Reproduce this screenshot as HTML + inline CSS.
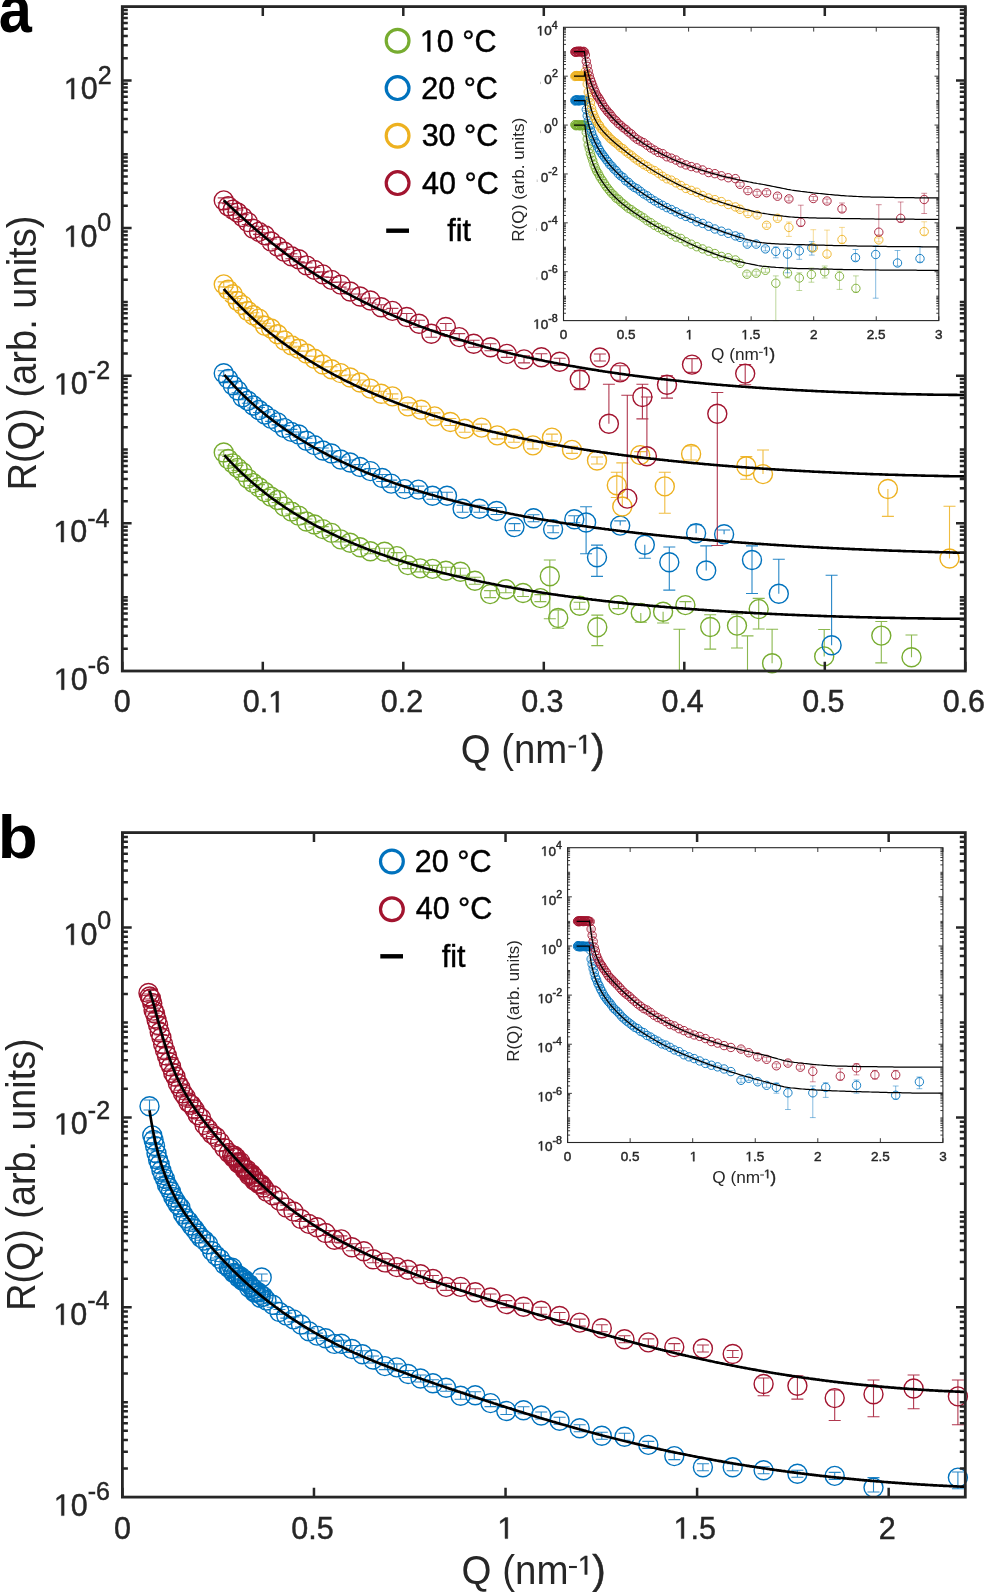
<!DOCTYPE html><html><head><meta charset="utf-8"><style>html,body{margin:0;padding:0;background:#fff;width:985px;height:1592px;overflow:hidden}svg{display:block;will-change:transform}text{font-family:"Liberation Sans",sans-serif;font-kerning:none}</style></head><body>
<svg width="985" height="1592" viewBox="0 0 985 1592">
<rect width="985" height="1592" fill="#fff"/>
<path d="M223.74 449.99V454.99M217.74 449.99h12M217.74 454.99h12M228.15 456.51V461.51M222.15 456.51h12M222.15 461.51h12M232.76 460.83V465.83M226.76 460.83h12M226.76 465.83h12M237.56 465.34V470.34M231.56 465.34h12M231.56 470.34h12M242.58 469.62V474.62M236.58 469.62h12M236.58 474.62h12M247.81 476.08V481.08M241.81 476.08h12M241.81 481.08h12M253.27 480.65V485.65M247.27 480.65h12M247.27 485.65h12M258.97 484.66V489.66M252.97 484.66h12M252.97 489.66h12M264.91 489.48V494.48M258.91 489.48h12M258.91 494.48h12M271.11 494.26V499.26M265.11 494.26h12M265.11 499.26h12M277.59 497.56V502.56M271.59 497.56h12M271.59 502.56h12M284.34 504.1V509.1M278.34 504.1h12M278.34 509.1h12M291.39 508.99V513.99M285.39 508.99h12M285.39 513.99h12M298.75 513.17V518.17M292.75 513.17h12M292.75 518.17h12M306.42 519.05V524.05M300.42 519.05h12M300.42 524.05h12M314.43 521.96V526.96M308.43 521.96h12M308.43 526.96h12M322.79 526.59V531.59M316.79 526.59h12M316.79 531.59h12M331.51 530.36V535.36M325.51 530.36h12M325.51 535.36h12M340.61 536.87V541.87M334.61 536.87h12M334.61 541.87h12M350.11 540.22V545.22M344.11 540.22h12M344.11 545.22h12M360.02 544.81V549.81M354.02 544.81h12M354.02 549.81h12M370.36 548.82V553.82M364.36 548.82h12M364.36 553.82h12M384.5 548.2V555.2M378.5 548.2h12M378.5 555.2h12M396.8 552.6V559.6M390.8 552.6h12M390.8 559.6h12M407.9 561.6V568.6M401.9 561.6h12M401.9 568.6h12M420.2 564.9V571.9M414.2 564.9h12M414.2 571.9h12M432.5 565.4V572.4M426.5 565.4h12M426.5 572.4h12M445.9 567.2V574.2M439.9 567.2h12M439.9 574.2h12M460.4 568.3V575.3M454.4 568.3h12M454.4 575.3h12M474.9 577.2V584.2M468.9 577.2h12M468.9 584.2h12M490.1 590.6V597.6M484.1 590.6h12M484.1 597.6h12M505.8 585.7V592.7M499.8 585.7h12M499.8 592.7h12M523 589.5V596.5M517 589.5h12M517 596.5h12M540.4 594.6V601.6M534.4 594.6h12M534.4 601.6h12M549.8 560V618.7M543.8 560h12M543.8 618.7h12M558.2 610V628.3M552.2 610h12M552.2 628.3h12M579.6 602.2V609.2M573.6 602.2h12M573.6 609.2h12M597.3 615.1V645.6M591.3 615.1h12M591.3 645.6h12M618.4 601.6V608.6M612.4 601.6h12M612.4 608.6h12M640.8 612.9V622.3M634.8 622.3h12M663.1 611.8V623M657.1 623h12M685.4 601.6V608.6M679.4 601.6h12M679.4 608.6h12M679.4 629.2V670M673.4 629.2h12M710.2 614.7V649.1M704.2 614.7h12M704.2 649.1h12M737 614V648M731 614h12M731 648h12M747.5 635.9V670M741.5 635.9h12M758.7 598.4V629M752.7 598.4h12M752.7 629h12M772.1 629.3V663.3M766.1 629.3h12M824.2 629.5V656.4M818.2 629.5h12M881.3 621.5V662.9M875.3 621.5h12M875.3 662.9h12M911.5 635V657.3M905.5 635h12" stroke="#77AC30" stroke-width="1.1" stroke-opacity="0.85" fill="none"/><path d="M214.24 452.49a9.5 9.5 0 1 0 19 0a9.5 9.5 0 1 0 -19 0M218.65 459.01a9.5 9.5 0 1 0 19 0a9.5 9.5 0 1 0 -19 0M223.26 463.33a9.5 9.5 0 1 0 19 0a9.5 9.5 0 1 0 -19 0M228.06 467.84a9.5 9.5 0 1 0 19 0a9.5 9.5 0 1 0 -19 0M233.08 472.12a9.5 9.5 0 1 0 19 0a9.5 9.5 0 1 0 -19 0M238.31 478.58a9.5 9.5 0 1 0 19 0a9.5 9.5 0 1 0 -19 0M243.77 483.15a9.5 9.5 0 1 0 19 0a9.5 9.5 0 1 0 -19 0M249.47 487.16a9.5 9.5 0 1 0 19 0a9.5 9.5 0 1 0 -19 0M255.41 491.98a9.5 9.5 0 1 0 19 0a9.5 9.5 0 1 0 -19 0M261.61 496.76a9.5 9.5 0 1 0 19 0a9.5 9.5 0 1 0 -19 0M268.09 500.06a9.5 9.5 0 1 0 19 0a9.5 9.5 0 1 0 -19 0M274.84 506.6a9.5 9.5 0 1 0 19 0a9.5 9.5 0 1 0 -19 0M281.89 511.49a9.5 9.5 0 1 0 19 0a9.5 9.5 0 1 0 -19 0M289.25 515.67a9.5 9.5 0 1 0 19 0a9.5 9.5 0 1 0 -19 0M296.92 521.55a9.5 9.5 0 1 0 19 0a9.5 9.5 0 1 0 -19 0M304.93 524.46a9.5 9.5 0 1 0 19 0a9.5 9.5 0 1 0 -19 0M313.29 529.09a9.5 9.5 0 1 0 19 0a9.5 9.5 0 1 0 -19 0M322.01 532.86a9.5 9.5 0 1 0 19 0a9.5 9.5 0 1 0 -19 0M331.11 539.37a9.5 9.5 0 1 0 19 0a9.5 9.5 0 1 0 -19 0M340.61 542.72a9.5 9.5 0 1 0 19 0a9.5 9.5 0 1 0 -19 0M350.52 547.31a9.5 9.5 0 1 0 19 0a9.5 9.5 0 1 0 -19 0M360.86 551.32a9.5 9.5 0 1 0 19 0a9.5 9.5 0 1 0 -19 0M375 551.7a9.5 9.5 0 1 0 19 0a9.5 9.5 0 1 0 -19 0M387.3 556.1a9.5 9.5 0 1 0 19 0a9.5 9.5 0 1 0 -19 0M398.4 565.1a9.5 9.5 0 1 0 19 0a9.5 9.5 0 1 0 -19 0M410.7 568.4a9.5 9.5 0 1 0 19 0a9.5 9.5 0 1 0 -19 0M423 568.9a9.5 9.5 0 1 0 19 0a9.5 9.5 0 1 0 -19 0M436.4 570.7a9.5 9.5 0 1 0 19 0a9.5 9.5 0 1 0 -19 0M450.9 571.8a9.5 9.5 0 1 0 19 0a9.5 9.5 0 1 0 -19 0M465.4 580.7a9.5 9.5 0 1 0 19 0a9.5 9.5 0 1 0 -19 0M480.6 594.1a9.5 9.5 0 1 0 19 0a9.5 9.5 0 1 0 -19 0M496.3 589.2a9.5 9.5 0 1 0 19 0a9.5 9.5 0 1 0 -19 0M513.5 593a9.5 9.5 0 1 0 19 0a9.5 9.5 0 1 0 -19 0M530.9 598.1a9.5 9.5 0 1 0 19 0a9.5 9.5 0 1 0 -19 0M540.3 576.3a9.5 9.5 0 1 0 19 0a9.5 9.5 0 1 0 -19 0M548.7 618a9.5 9.5 0 1 0 19 0a9.5 9.5 0 1 0 -19 0M570.1 605.7a9.5 9.5 0 1 0 19 0a9.5 9.5 0 1 0 -19 0M587.8 627.3a9.5 9.5 0 1 0 19 0a9.5 9.5 0 1 0 -19 0M608.9 605.1a9.5 9.5 0 1 0 19 0a9.5 9.5 0 1 0 -19 0M631.3 612.9a9.5 9.5 0 1 0 19 0a9.5 9.5 0 1 0 -19 0M653.6 611.8a9.5 9.5 0 1 0 19 0a9.5 9.5 0 1 0 -19 0M675.9 605.1a9.5 9.5 0 1 0 19 0a9.5 9.5 0 1 0 -19 0M700.7 627a9.5 9.5 0 1 0 19 0a9.5 9.5 0 1 0 -19 0M727.5 625.6a9.5 9.5 0 1 0 19 0a9.5 9.5 0 1 0 -19 0M749.2 609.1a9.5 9.5 0 1 0 19 0a9.5 9.5 0 1 0 -19 0M762.6 663.3a9.5 9.5 0 1 0 19 0a9.5 9.5 0 1 0 -19 0M814.7 656.4a9.5 9.5 0 1 0 19 0a9.5 9.5 0 1 0 -19 0M871.8 635.6a9.5 9.5 0 1 0 19 0a9.5 9.5 0 1 0 -19 0M902 657.3a9.5 9.5 0 1 0 19 0a9.5 9.5 0 1 0 -19 0" stroke="#77AC30" stroke-width="1.4" fill="none"/>
<path d="M223.74 370.73V375.73M217.74 370.73h12M217.74 375.73h12M228.15 376.41V381.41M222.15 376.41h12M222.15 381.41h12M232.76 382.69V387.69M226.76 382.69h12M226.76 387.69h12M237.56 387.85V392.85M231.56 387.85h12M231.56 392.85h12M242.58 394.7V399.7M236.58 394.7h12M236.58 399.7h12M247.81 398.3V403.3M241.81 398.3h12M241.81 403.3h12M253.27 403.02V408.02M247.27 403.02h12M247.27 408.02h12M258.97 407.52V412.52M252.97 407.52h12M252.97 412.52h12M264.91 412.01V417.01M258.91 412.01h12M258.91 417.01h12M271.11 416.34V421.34M265.11 416.34h12M265.11 421.34h12M277.59 419.91V424.91M271.59 419.91h12M271.59 424.91h12M284.34 425.58V430.58M278.34 425.58h12M278.34 430.58h12M291.39 429.39V434.39M285.39 429.39h12M285.39 434.39h12M298.75 431.94V436.94M292.75 431.94h12M292.75 436.94h12M306.42 438.25V443.25M300.42 438.25h12M300.42 443.25h12M314.43 442.63V447.63M308.43 442.63h12M308.43 447.63h12M322.79 448.07V453.07M316.79 448.07h12M316.79 453.07h12M331.51 451.07V456.07M325.51 451.07h12M325.51 456.07h12M340.61 456.93V461.93M334.61 456.93h12M334.61 461.93h12M350.11 460.04V465.04M344.11 460.04h12M344.11 465.04h12M360.02 464.43V469.43M354.02 464.43h12M354.02 469.43h12M370.36 468.59V473.59M364.36 468.59h12M364.36 473.59h12M382.2 474.5V481.5M376.2 474.5h12M376.2 481.5h12M391.2 480.1V487.1M385.2 480.1h12M385.2 487.1h12M404.6 485.6V492.6M398.6 485.6h12M398.6 492.6h12M418.4 486.1V493.1M412.4 486.1h12M412.4 493.1h12M432.5 492.3V499.3M426.5 492.3h12M426.5 499.3h12M447 492.3V499.3M441 492.3h12M441 499.3h12M462.6 505.3V512.3M456.6 505.3h12M456.6 512.3h12M479.4 505.3V512.3M473.4 505.3h12M473.4 512.3h12M496.6 507.5V514.5M490.6 507.5h12M490.6 514.5h12M514.5 523.6V530.6M508.5 523.6h12M508.5 530.6h12M533.5 514.7V521.7M527.5 514.7h12M527.5 521.7h12M553.1 525.8V532.8M547.1 525.8h12M547.1 532.8h12M574.3 515.8V522.8M568.3 515.8h12M568.3 522.8h12M586.1 506.7V553.8M580.1 506.7h12M580.1 553.8h12M597 545.1V576.4M591 545.1h12M591 576.4h12M620.2 520.9V525.6M614.2 520.9h12M644.8 544.8V558.2M638.8 558.2h12M669.3 547V590.1M663.3 547h12M663.3 590.1h12M696.1 524.7V533.2M690.1 524.7h12M706.2 545.9V570.5M700.2 545.9h12M724.1 530V534.3M718.1 530h12M752 545.9V593.5M746 545.9h12M746 593.5h12M778.8 559.3V593.7M772.8 559.3h12M831.6 575.2V645.2M825.6 575.2h12" stroke="#0072BD" stroke-width="1.1" stroke-opacity="0.85" fill="none"/><path d="M214.24 373.23a9.5 9.5 0 1 0 19 0a9.5 9.5 0 1 0 -19 0M218.65 378.91a9.5 9.5 0 1 0 19 0a9.5 9.5 0 1 0 -19 0M223.26 385.19a9.5 9.5 0 1 0 19 0a9.5 9.5 0 1 0 -19 0M228.06 390.35a9.5 9.5 0 1 0 19 0a9.5 9.5 0 1 0 -19 0M233.08 397.2a9.5 9.5 0 1 0 19 0a9.5 9.5 0 1 0 -19 0M238.31 400.8a9.5 9.5 0 1 0 19 0a9.5 9.5 0 1 0 -19 0M243.77 405.52a9.5 9.5 0 1 0 19 0a9.5 9.5 0 1 0 -19 0M249.47 410.02a9.5 9.5 0 1 0 19 0a9.5 9.5 0 1 0 -19 0M255.41 414.51a9.5 9.5 0 1 0 19 0a9.5 9.5 0 1 0 -19 0M261.61 418.84a9.5 9.5 0 1 0 19 0a9.5 9.5 0 1 0 -19 0M268.09 422.41a9.5 9.5 0 1 0 19 0a9.5 9.5 0 1 0 -19 0M274.84 428.08a9.5 9.5 0 1 0 19 0a9.5 9.5 0 1 0 -19 0M281.89 431.89a9.5 9.5 0 1 0 19 0a9.5 9.5 0 1 0 -19 0M289.25 434.44a9.5 9.5 0 1 0 19 0a9.5 9.5 0 1 0 -19 0M296.92 440.75a9.5 9.5 0 1 0 19 0a9.5 9.5 0 1 0 -19 0M304.93 445.13a9.5 9.5 0 1 0 19 0a9.5 9.5 0 1 0 -19 0M313.29 450.57a9.5 9.5 0 1 0 19 0a9.5 9.5 0 1 0 -19 0M322.01 453.57a9.5 9.5 0 1 0 19 0a9.5 9.5 0 1 0 -19 0M331.11 459.43a9.5 9.5 0 1 0 19 0a9.5 9.5 0 1 0 -19 0M340.61 462.54a9.5 9.5 0 1 0 19 0a9.5 9.5 0 1 0 -19 0M350.52 466.93a9.5 9.5 0 1 0 19 0a9.5 9.5 0 1 0 -19 0M360.86 471.09a9.5 9.5 0 1 0 19 0a9.5 9.5 0 1 0 -19 0M372.7 478a9.5 9.5 0 1 0 19 0a9.5 9.5 0 1 0 -19 0M381.7 483.6a9.5 9.5 0 1 0 19 0a9.5 9.5 0 1 0 -19 0M395.1 489.1a9.5 9.5 0 1 0 19 0a9.5 9.5 0 1 0 -19 0M408.9 489.6a9.5 9.5 0 1 0 19 0a9.5 9.5 0 1 0 -19 0M423 495.8a9.5 9.5 0 1 0 19 0a9.5 9.5 0 1 0 -19 0M437.5 495.8a9.5 9.5 0 1 0 19 0a9.5 9.5 0 1 0 -19 0M453.1 508.8a9.5 9.5 0 1 0 19 0a9.5 9.5 0 1 0 -19 0M469.9 508.8a9.5 9.5 0 1 0 19 0a9.5 9.5 0 1 0 -19 0M487.1 511a9.5 9.5 0 1 0 19 0a9.5 9.5 0 1 0 -19 0M505 527.1a9.5 9.5 0 1 0 19 0a9.5 9.5 0 1 0 -19 0M524 518.2a9.5 9.5 0 1 0 19 0a9.5 9.5 0 1 0 -19 0M543.6 529.3a9.5 9.5 0 1 0 19 0a9.5 9.5 0 1 0 -19 0M564.8 519.3a9.5 9.5 0 1 0 19 0a9.5 9.5 0 1 0 -19 0M576.6 522.5a9.5 9.5 0 1 0 19 0a9.5 9.5 0 1 0 -19 0M587.5 557.2a9.5 9.5 0 1 0 19 0a9.5 9.5 0 1 0 -19 0M610.7 525.6a9.5 9.5 0 1 0 19 0a9.5 9.5 0 1 0 -19 0M635.3 544.8a9.5 9.5 0 1 0 19 0a9.5 9.5 0 1 0 -19 0M659.8 562.2a9.5 9.5 0 1 0 19 0a9.5 9.5 0 1 0 -19 0M686.6 533.2a9.5 9.5 0 1 0 19 0a9.5 9.5 0 1 0 -19 0M696.7 570.5a9.5 9.5 0 1 0 19 0a9.5 9.5 0 1 0 -19 0M714.6 534.3a9.5 9.5 0 1 0 19 0a9.5 9.5 0 1 0 -19 0M742.5 560a9.5 9.5 0 1 0 19 0a9.5 9.5 0 1 0 -19 0M769.3 593.7a9.5 9.5 0 1 0 19 0a9.5 9.5 0 1 0 -19 0M822.1 645.2a9.5 9.5 0 1 0 19 0a9.5 9.5 0 1 0 -19 0" stroke="#0072BD" stroke-width="1.4" fill="none"/>
<path d="M223.74 281.85V286.85M217.74 281.85h12M217.74 286.85h12M228.15 287.18V292.18M222.15 287.18h12M222.15 292.18h12M232.76 291.72V296.72M226.76 291.72h12M226.76 296.72h12M237.56 298.48V303.48M231.56 298.48h12M231.56 303.48h12M242.58 302.59V307.59M236.58 302.59h12M236.58 307.59h12M247.81 308.45V313.45M241.81 308.45h12M241.81 313.45h12M253.27 312.8V317.8M247.27 312.8h12M247.27 317.8h12M258.97 316.11V321.11M252.97 316.11h12M252.97 321.11h12M264.91 323.31V328.31M258.91 323.31h12M258.91 328.31h12M271.11 325.97V330.97M265.11 325.97h12M265.11 330.97h12M277.59 331.68V336.68M271.59 331.68h12M271.59 336.68h12M284.34 338.05V343.05M278.34 338.05h12M278.34 343.05h12M291.39 342.72V347.72M285.39 342.72h12M285.39 347.72h12M298.75 346.19V351.19M292.75 346.19h12M292.75 351.19h12M306.42 350.93V355.93M300.42 350.93h12M300.42 355.93h12M314.43 356.29V361.29M308.43 356.29h12M308.43 361.29h12M322.79 362.02V367.02M316.79 362.02h12M316.79 367.02h12M331.51 366.71V371.71M325.51 366.71h12M325.51 371.71h12M340.61 370.66V375.66M334.61 370.66h12M334.61 375.66h12M350.11 375.01V380.01M344.11 375.01h12M344.11 380.01h12M360.02 380.03V385.03M354.02 380.03h12M354.02 385.03h12M370.36 386.11V391.11M364.36 386.11h12M364.36 391.11h12M381.15 391.18V396.18M375.15 391.18h12M375.15 396.18h12M392.41 393.88V398.88M386.41 393.88h12M386.41 398.88h12M407.8 402.9V409.9M401.8 402.9h12M401.8 409.9h12M421.2 406.2V413.2M415.2 406.2h12M415.2 413.2h12M434.6 412.9V419.9M428.6 412.9h12M428.6 419.9h12M450.3 418.5V425.5M444.3 418.5h12M444.3 425.5h12M464.8 425.2V432.2M458.8 425.2h12M458.8 432.2h12M481.5 424.1V431.1M475.5 424.1h12M475.5 431.1h12M497.2 431.9V438.9M491.2 431.9h12M491.2 438.9h12M513.9 435.2V442.2M507.9 435.2h12M507.9 442.2h12M532.9 441.9V448.9M526.9 441.9h12M526.9 448.9h12M551.9 434.1V441.1M545.9 434.1h12M545.9 441.1h12M572 446.4V453.4M566 446.4h12M566 453.4h12M597 457V464M591 457h12M591 464h12M616.8 472.3V497.5M610.8 472.3h12M610.8 497.5h12M622.3 462.9V506.5M616.3 462.9h12M640.2 451.6V458.6M634.2 451.6h12M634.2 458.6h12M664.8 472.3V513.2M658.8 472.3h12M658.8 513.2h12M691.1 446V460M685.1 446h12M685.1 460h12M746.3 456.6V479.2M740.3 456.6h12M740.3 479.2h12M763 450V474.1M757 450h12M887.9 489V516.4M881.9 516.4h12M949.5 506.3V558.5M943.5 506.3h12" stroke="#EDB120" stroke-width="1.1" stroke-opacity="0.85" fill="none"/><path d="M214.24 284.35a9.5 9.5 0 1 0 19 0a9.5 9.5 0 1 0 -19 0M218.65 289.68a9.5 9.5 0 1 0 19 0a9.5 9.5 0 1 0 -19 0M223.26 294.22a9.5 9.5 0 1 0 19 0a9.5 9.5 0 1 0 -19 0M228.06 300.98a9.5 9.5 0 1 0 19 0a9.5 9.5 0 1 0 -19 0M233.08 305.09a9.5 9.5 0 1 0 19 0a9.5 9.5 0 1 0 -19 0M238.31 310.95a9.5 9.5 0 1 0 19 0a9.5 9.5 0 1 0 -19 0M243.77 315.3a9.5 9.5 0 1 0 19 0a9.5 9.5 0 1 0 -19 0M249.47 318.61a9.5 9.5 0 1 0 19 0a9.5 9.5 0 1 0 -19 0M255.41 325.81a9.5 9.5 0 1 0 19 0a9.5 9.5 0 1 0 -19 0M261.61 328.47a9.5 9.5 0 1 0 19 0a9.5 9.5 0 1 0 -19 0M268.09 334.18a9.5 9.5 0 1 0 19 0a9.5 9.5 0 1 0 -19 0M274.84 340.55a9.5 9.5 0 1 0 19 0a9.5 9.5 0 1 0 -19 0M281.89 345.22a9.5 9.5 0 1 0 19 0a9.5 9.5 0 1 0 -19 0M289.25 348.69a9.5 9.5 0 1 0 19 0a9.5 9.5 0 1 0 -19 0M296.92 353.43a9.5 9.5 0 1 0 19 0a9.5 9.5 0 1 0 -19 0M304.93 358.79a9.5 9.5 0 1 0 19 0a9.5 9.5 0 1 0 -19 0M313.29 364.52a9.5 9.5 0 1 0 19 0a9.5 9.5 0 1 0 -19 0M322.01 369.21a9.5 9.5 0 1 0 19 0a9.5 9.5 0 1 0 -19 0M331.11 373.16a9.5 9.5 0 1 0 19 0a9.5 9.5 0 1 0 -19 0M340.61 377.51a9.5 9.5 0 1 0 19 0a9.5 9.5 0 1 0 -19 0M350.52 382.53a9.5 9.5 0 1 0 19 0a9.5 9.5 0 1 0 -19 0M360.86 388.61a9.5 9.5 0 1 0 19 0a9.5 9.5 0 1 0 -19 0M371.65 393.68a9.5 9.5 0 1 0 19 0a9.5 9.5 0 1 0 -19 0M382.91 396.38a9.5 9.5 0 1 0 19 0a9.5 9.5 0 1 0 -19 0M398.3 406.4a9.5 9.5 0 1 0 19 0a9.5 9.5 0 1 0 -19 0M411.7 409.7a9.5 9.5 0 1 0 19 0a9.5 9.5 0 1 0 -19 0M425.1 416.4a9.5 9.5 0 1 0 19 0a9.5 9.5 0 1 0 -19 0M440.8 422a9.5 9.5 0 1 0 19 0a9.5 9.5 0 1 0 -19 0M455.3 428.7a9.5 9.5 0 1 0 19 0a9.5 9.5 0 1 0 -19 0M472 427.6a9.5 9.5 0 1 0 19 0a9.5 9.5 0 1 0 -19 0M487.7 435.4a9.5 9.5 0 1 0 19 0a9.5 9.5 0 1 0 -19 0M504.4 438.7a9.5 9.5 0 1 0 19 0a9.5 9.5 0 1 0 -19 0M523.4 445.4a9.5 9.5 0 1 0 19 0a9.5 9.5 0 1 0 -19 0M542.4 437.6a9.5 9.5 0 1 0 19 0a9.5 9.5 0 1 0 -19 0M562.5 449.9a9.5 9.5 0 1 0 19 0a9.5 9.5 0 1 0 -19 0M587.5 460.5a9.5 9.5 0 1 0 19 0a9.5 9.5 0 1 0 -19 0M607.3 485.2a9.5 9.5 0 1 0 19 0a9.5 9.5 0 1 0 -19 0M612.8 506.5a9.5 9.5 0 1 0 19 0a9.5 9.5 0 1 0 -19 0M630.7 455.1a9.5 9.5 0 1 0 19 0a9.5 9.5 0 1 0 -19 0M655.3 486.4a9.5 9.5 0 1 0 19 0a9.5 9.5 0 1 0 -19 0M681.6 454a9.5 9.5 0 1 0 19 0a9.5 9.5 0 1 0 -19 0M736.8 466.3a9.5 9.5 0 1 0 19 0a9.5 9.5 0 1 0 -19 0M753.5 474.1a9.5 9.5 0 1 0 19 0a9.5 9.5 0 1 0 -19 0M878.4 489a9.5 9.5 0 1 0 19 0a9.5 9.5 0 1 0 -19 0M940 558.5a9.5 9.5 0 1 0 19 0a9.5 9.5 0 1 0 -19 0" stroke="#EDB120" stroke-width="1.4" fill="none"/>
<path d="M223.74 197.92V202.92M217.74 197.92h12M217.74 202.92h12M228.15 203.81V208.81M222.15 203.81h12M222.15 208.81h12M232.76 207.14V212.14M226.76 207.14h12M226.76 212.14h12M237.56 209.94V214.94M231.56 209.94h12M231.56 214.94h12M242.58 214.58V219.58M236.58 214.58h12M236.58 219.58h12M247.81 219.58V224.58M241.81 219.58h12M241.81 224.58h12M253.27 226.32V231.32M247.27 226.32h12M247.27 231.32h12M258.97 229.36V234.36M252.97 229.36h12M252.97 234.36h12M264.91 232.8V237.8M258.91 232.8h12M258.91 237.8h12M271.11 239.03V244.03M265.11 239.03h12M265.11 244.03h12M277.59 244.01V249.01M271.59 244.01h12M271.59 249.01h12M284.34 249.27V254.27M278.34 249.27h12M278.34 254.27h12M291.39 253.76V258.76M285.39 253.76h12M285.39 258.76h12M298.75 256.78V261.78M292.75 256.78h12M292.75 261.78h12M306.42 262.83V267.83M300.42 262.83h12M300.42 267.83h12M314.43 267.4V272.4M308.43 267.4h12M308.43 272.4h12M322.79 271.85V276.85M316.79 271.85h12M316.79 276.85h12M331.51 277.4V282.4M325.51 277.4h12M325.51 282.4h12M340.61 282.11V287.11M334.61 282.11h12M334.61 287.11h12M350.11 289.05V294.05M344.11 289.05h12M344.11 294.05h12M360.02 294.01V299.01M354.02 294.01h12M354.02 299.01h12M370.36 298.03V303.03M364.36 298.03h12M364.36 303.03h12M381.15 304.78V309.78M375.15 304.78h12M375.15 309.78h12M392.41 308.36V313.36M386.41 308.36h12M386.41 313.36h12M406.7 313.5V320.5M400.7 313.5h12M400.7 320.5h12M419 320.2V327.2M413 320.2h12M413 327.2h12M431.3 330.3V337.3M425.3 330.3h12M425.3 337.3h12M445.8 323.5V330.5M439.8 323.5h12M439.8 330.5h12M459.2 333.6V340.6M453.2 333.6h12M453.2 340.6h12M473.7 340.3V347.3M467.7 340.3h12M467.7 347.3h12M490.5 343.7V350.7M484.5 343.7h12M484.5 350.7h12M506.8 350.4V357.4M500.8 350.4h12M500.8 357.4h12M524 355.9V362.9M518 355.9h12M518 362.9h12M541.4 353.7V360.7M535.4 353.7h12M535.4 360.7h12M559.7 358.2V365.2M553.7 358.2h12M553.7 365.2h12M579.8 370.6V389.6M573.8 370.6h12M573.8 389.6h12M599.9 354V361M593.9 354h12M593.9 361h12M608.9 384.3V423.8M602.9 384.3h12M620.1 365.7V380.3M614.1 365.7h12M614.1 380.3h12M627.3 395.2V498.6M621.3 395.2h12M642.4 384.3V418.9M636.4 384.3h12M636.4 418.9h12M646.9 397V456.2M640.9 397h12M667 375.8V398.1M661 375.8h12M661 398.1h12M692 358.6V372.4M686 358.6h12M686 372.4h12M717.3 392.5V545.5M711.3 392.5h12M711.3 545.5h12M745.2 364.6V384.7M739.2 364.6h12M739.2 384.7h12" stroke="#A2142F" stroke-width="1.1" stroke-opacity="0.85" fill="none"/><path d="M214.24 200.42a9.5 9.5 0 1 0 19 0a9.5 9.5 0 1 0 -19 0M218.65 206.31a9.5 9.5 0 1 0 19 0a9.5 9.5 0 1 0 -19 0M223.26 209.64a9.5 9.5 0 1 0 19 0a9.5 9.5 0 1 0 -19 0M228.06 212.44a9.5 9.5 0 1 0 19 0a9.5 9.5 0 1 0 -19 0M233.08 217.08a9.5 9.5 0 1 0 19 0a9.5 9.5 0 1 0 -19 0M238.31 222.08a9.5 9.5 0 1 0 19 0a9.5 9.5 0 1 0 -19 0M243.77 228.82a9.5 9.5 0 1 0 19 0a9.5 9.5 0 1 0 -19 0M249.47 231.86a9.5 9.5 0 1 0 19 0a9.5 9.5 0 1 0 -19 0M255.41 235.3a9.5 9.5 0 1 0 19 0a9.5 9.5 0 1 0 -19 0M261.61 241.53a9.5 9.5 0 1 0 19 0a9.5 9.5 0 1 0 -19 0M268.09 246.51a9.5 9.5 0 1 0 19 0a9.5 9.5 0 1 0 -19 0M274.84 251.77a9.5 9.5 0 1 0 19 0a9.5 9.5 0 1 0 -19 0M281.89 256.26a9.5 9.5 0 1 0 19 0a9.5 9.5 0 1 0 -19 0M289.25 259.28a9.5 9.5 0 1 0 19 0a9.5 9.5 0 1 0 -19 0M296.92 265.33a9.5 9.5 0 1 0 19 0a9.5 9.5 0 1 0 -19 0M304.93 269.9a9.5 9.5 0 1 0 19 0a9.5 9.5 0 1 0 -19 0M313.29 274.35a9.5 9.5 0 1 0 19 0a9.5 9.5 0 1 0 -19 0M322.01 279.9a9.5 9.5 0 1 0 19 0a9.5 9.5 0 1 0 -19 0M331.11 284.61a9.5 9.5 0 1 0 19 0a9.5 9.5 0 1 0 -19 0M340.61 291.55a9.5 9.5 0 1 0 19 0a9.5 9.5 0 1 0 -19 0M350.52 296.51a9.5 9.5 0 1 0 19 0a9.5 9.5 0 1 0 -19 0M360.86 300.53a9.5 9.5 0 1 0 19 0a9.5 9.5 0 1 0 -19 0M371.65 307.28a9.5 9.5 0 1 0 19 0a9.5 9.5 0 1 0 -19 0M382.91 310.86a9.5 9.5 0 1 0 19 0a9.5 9.5 0 1 0 -19 0M397.2 317a9.5 9.5 0 1 0 19 0a9.5 9.5 0 1 0 -19 0M409.5 323.7a9.5 9.5 0 1 0 19 0a9.5 9.5 0 1 0 -19 0M421.8 333.8a9.5 9.5 0 1 0 19 0a9.5 9.5 0 1 0 -19 0M436.3 327a9.5 9.5 0 1 0 19 0a9.5 9.5 0 1 0 -19 0M449.7 337.1a9.5 9.5 0 1 0 19 0a9.5 9.5 0 1 0 -19 0M464.2 343.8a9.5 9.5 0 1 0 19 0a9.5 9.5 0 1 0 -19 0M481 347.2a9.5 9.5 0 1 0 19 0a9.5 9.5 0 1 0 -19 0M497.3 353.9a9.5 9.5 0 1 0 19 0a9.5 9.5 0 1 0 -19 0M514.5 359.4a9.5 9.5 0 1 0 19 0a9.5 9.5 0 1 0 -19 0M531.9 357.2a9.5 9.5 0 1 0 19 0a9.5 9.5 0 1 0 -19 0M550.2 361.7a9.5 9.5 0 1 0 19 0a9.5 9.5 0 1 0 -19 0M570.3 379.5a9.5 9.5 0 1 0 19 0a9.5 9.5 0 1 0 -19 0M590.4 357.5a9.5 9.5 0 1 0 19 0a9.5 9.5 0 1 0 -19 0M599.4 423.8a9.5 9.5 0 1 0 19 0a9.5 9.5 0 1 0 -19 0M610.6 372.4a9.5 9.5 0 1 0 19 0a9.5 9.5 0 1 0 -19 0M617.8 498.6a9.5 9.5 0 1 0 19 0a9.5 9.5 0 1 0 -19 0M632.9 397a9.5 9.5 0 1 0 19 0a9.5 9.5 0 1 0 -19 0M637.4 456.2a9.5 9.5 0 1 0 19 0a9.5 9.5 0 1 0 -19 0M657.5 384.7a9.5 9.5 0 1 0 19 0a9.5 9.5 0 1 0 -19 0M682.5 364.6a9.5 9.5 0 1 0 19 0a9.5 9.5 0 1 0 -19 0M707.8 413.8a9.5 9.5 0 1 0 19 0a9.5 9.5 0 1 0 -19 0M735.7 373.6a9.5 9.5 0 1 0 19 0a9.5 9.5 0 1 0 -19 0" stroke="#A2142F" stroke-width="1.4" fill="none"/>
<path d="M224.3 455.1 225.3 456.2 226.3 457.3 227.3 458.4 228.3 459.5 229.3 460.5 230.3 461.6 231.3 462.6 232.3 463.7 233.3 464.7 234.3 465.7 235.3 466.7 236.3 467.7 237.3 468.7 238.3 469.7 239.3 470.7 240.3 471.6 241.3 472.6 242.3 473.5 243.3 474.5 244.3 475.4 245.3 476.3 246.3 477.2 247.3 478.1 248.3 479.0 249.3 479.9 250.3 480.8 251.3 481.7 252.3 482.6 253.3 483.4 254.3 484.3 255.3 485.1 256.3 486.0 257.3 486.8 258.3 487.6 259.3 488.4 260.3 489.2 261.3 490.0 262.3 490.8 263.3 491.6 264.3 492.4 265.3 493.2 266.3 494.0 267.3 494.7 268.3 495.5 269.3 496.2 270.3 497.0 271.3 497.7 272.3 498.5 273.3 499.2 274.3 499.9 275.3 500.6 276.3 501.3 277.3 502.1 278.3 502.8 279.3 503.5 280.3 504.1 281.3 504.8 282.3 505.5 283.3 506.2 284.3 506.9 285.3 507.5 286.3 508.2 287.3 508.8 288.3 509.5 289.3 510.1 290.3 510.8 291.3 511.4 292.3 512.0 293.3 512.7 294.3 513.3 295.3 513.9 296.3 514.5 297.3 515.1 298.3 515.7 299.3 516.3 300.3 516.9 301.3 517.5 302.3 518.1 303.3 518.7 304.3 519.3 305.3 519.9 306.3 520.4 307.3 521.0 308.3 521.6 309.3 522.1 310.3 522.7 311.3 523.2 312.3 523.8 313.3 524.3 314.3 524.9 315.3 525.4 316.3 525.9 317.3 526.5 318.3 527.0 319.3 527.5 320.3 528.0 321.3 528.6 322.3 529.1 323.3 529.6 324.3 530.1 325.3 530.6 326.3 531.1 327.3 531.6 328.3 532.1 329.3 532.6 330.3 533.1 331.3 533.5 332.3 534.0 333.3 534.5 334.3 535.0 335.3 535.4 336.3 535.9 337.3 536.4 338.3 536.8 339.3 537.3 340.3 537.8 341.3 538.2 342.3 538.7 343.3 539.1 344.3 539.6 345.3 540.0 346.3 540.4 347.3 540.9 348.3 541.3 349.3 541.7 350.3 542.2 351.3 542.6 352.3 543.0 353.3 543.4 354.3 543.9 355.3 544.3 356.3 544.7 357.3 545.1 358.3 545.5 359.3 545.9 360.3 546.3 361.3 546.7 362.3 547.1 363.3 547.5 364.3 547.9 365.3 548.3 366.3 548.7 367.3 549.1 368.3 549.5 369.3 549.9 370.3 550.2 371.3 550.6 372.3 551.0 373.3 551.4 374.3 551.7 375.3 552.1 376.3 552.5 377.3 552.8 378.3 553.2 379.3 553.6 380.3 553.9 381.3 554.3 382.3 554.6 383.3 555.0 384.3 555.3 385.3 555.7 386.3 556.0 387.3 556.4 388.3 556.7 389.3 557.1 390.3 557.4 391.3 557.7 392.3 558.1 393.3 558.4 394.3 558.7 395.3 559.1 396.3 559.4 397.3 559.7 398.3 560.0 399.3 560.4 400.3 560.7 401.3 561.0 402.3 561.3 403.3 561.6 404.3 562.0 405.3 562.3 406.3 562.6 407.3 562.9 408.3 563.2 409.3 563.5 410.3 563.8 411.3 564.1 412.3 564.4 413.3 564.7 414.3 565.0 415.3 565.3 416.3 565.6 417.3 565.9 418.3 566.2 419.3 566.5 420.3 566.7 421.3 567.0 422.3 567.3 423.3 567.6 424.3 567.9 425.3 568.2 426.3 568.4 427.3 568.7 428.3 569.0 429.3 569.3 430.3 569.5 431.3 569.8 432.3 570.1 433.3 570.3 434.3 570.6 435.3 570.9 436.3 571.1 437.3 571.4 438.3 571.7 439.3 571.9 440.3 572.2 441.3 572.4 442.3 572.7 443.3 573.0 444.3 573.2 445.3 573.5 446.3 573.7 447.3 574.0 448.3 574.2 449.3 574.4 450.3 574.7 451.3 574.9 452.3 575.2 453.3 575.4 454.3 575.7 455.3 575.9 456.3 576.1 457.3 576.4 458.3 576.6 459.3 576.8 460.3 577.1 461.3 577.3 462.3 577.5 463.3 577.8 464.3 578.0 465.3 578.2 466.3 578.5 467.3 578.7 468.3 578.9 469.3 579.1 470.3 579.3 471.3 579.6 472.3 579.8 473.3 580.0 474.3 580.2 475.3 580.4 476.3 580.6 477.3 580.9 478.3 581.1 479.3 581.3 480.3 581.5 481.3 581.7 482.3 581.9 483.3 582.1 484.3 582.3 485.3 582.5 486.3 582.7 487.3 582.9 488.3 583.1 489.3 583.3 490.3 583.5 491.3 583.7 492.3 583.9 493.3 584.1 494.3 584.3 495.3 584.5 496.3 584.7 497.3 584.9 498.3 585.1 499.3 585.3 500.3 585.5 501.3 585.7 502.3 585.9 503.3 586.1 504.3 586.2 505.3 586.4 506.3 586.6 507.3 586.8 508.3 587.0 509.3 587.2 510.3 587.3 511.3 587.5 512.3 587.7 513.3 587.9 514.3 588.1 515.3 588.2 516.3 588.4 517.3 588.6 518.3 588.8 519.3 588.9 520.3 589.1 521.3 589.3 522.3 589.5 523.3 589.6 524.3 589.8 525.3 590.0 526.3 590.1 527.3 590.3 528.3 590.5 529.3 590.6 530.3 590.8 531.3 591.0 532.3 591.1 533.3 591.3 534.3 591.4 535.3 591.6 536.3 591.8 537.3 591.9 538.3 592.1 539.3 592.2 540.3 592.4 541.3 592.5 542.3 592.7 543.3 592.9 544.3 593.0 545.3 593.2 546.3 593.3 547.3 593.5 548.3 593.6 549.3 593.8 550.3 593.9 551.3 594.1 552.3 594.2 553.3 594.4 554.3 594.5 555.3 594.6 556.3 594.8 557.3 594.9 558.3 595.1 559.3 595.2 560.3 595.4 561.3 595.5 562.3 595.6 563.3 595.8 564.3 595.9 565.3 596.1 566.3 596.2 567.3 596.3 568.3 596.5 569.3 596.6 570.3 596.7 571.3 596.9 572.3 597.0 573.3 597.1 574.3 597.3 575.3 597.4 576.3 597.5 577.3 597.7 578.3 597.8 579.3 597.9 580.3 598.1 581.3 598.2 582.3 598.3 583.3 598.4 584.3 598.6 585.3 598.7 586.3 598.8 587.3 598.9 588.3 599.1 589.3 599.2 590.3 599.3 591.3 599.4 592.3 599.6 593.3 599.7 594.3 599.8 595.3 599.9 596.3 600.0 597.3 600.2 598.3 600.3 599.3 600.4 600.3 600.5 601.3 600.6 602.3 600.7 603.3 600.9 604.3 601.0 605.3 601.1 606.3 601.2 607.3 601.3 608.3 601.4 609.3 601.5 610.3 601.7 611.3 601.8 612.3 601.9 613.3 602.0 614.3 602.1 615.3 602.2 616.3 602.3 617.3 602.4 618.3 602.5 619.3 602.6 620.3 602.7 621.3 602.8 622.3 602.9 623.3 603.1 624.3 603.2 625.3 603.3 626.3 603.4 627.3 603.5 628.3 603.6 629.3 603.7 630.3 603.8 631.3 603.9 632.3 604.0 633.3 604.1 634.3 604.2 635.3 604.3 636.3 604.4 637.3 604.5 638.3 604.6 639.3 604.7 640.3 604.8 641.3 604.9 642.3 604.9 643.3 605.0 644.3 605.1 645.3 605.2 646.3 605.3 647.3 605.4 648.3 605.5 649.3 605.6 650.3 605.7 651.3 605.8 652.3 605.9 653.3 606.0 654.3 606.1 655.3 606.1 656.3 606.2 657.3 606.3 658.3 606.4 659.3 606.5 660.3 606.6 661.3 606.7 662.3 606.8 663.3 606.8 664.3 606.9 665.3 607.0 666.3 607.1 667.3 607.2 668.3 607.3 669.3 607.3 670.3 607.4 671.3 607.5 672.3 607.6 673.3 607.7 674.3 607.8 675.3 607.8 676.3 607.9 677.3 608.0 678.3 608.1 679.3 608.2 680.3 608.2 681.3 608.3 682.3 608.4 683.3 608.5 684.3 608.5 685.3 608.6 686.3 608.7 687.3 608.8 688.3 608.9 689.3 608.9 690.3 609.0 691.3 609.1 692.3 609.2 693.3 609.2 694.3 609.3 695.3 609.4 696.3 609.4 697.3 609.5 698.3 609.6 699.3 609.7 700.3 609.7 701.3 609.8 702.3 609.9 703.3 609.9 704.3 610.0 705.3 610.1 706.3 610.1 707.3 610.2 708.3 610.3 709.3 610.4 710.3 610.4 711.3 610.5 712.3 610.6 713.3 610.6 714.3 610.7 715.3 610.8 716.3 610.8 717.3 610.9 718.3 610.9 719.3 611.0 720.3 611.1 721.3 611.1 722.3 611.2 723.3 611.3 724.3 611.3 725.3 611.4 726.3 611.5 727.3 611.5 728.3 611.6 729.3 611.6 730.3 611.7 731.3 611.8 732.3 611.8 733.3 611.9 734.3 611.9 735.3 612.0 736.3 612.1 737.3 612.1 738.3 612.2 739.3 612.2 740.3 612.3 741.3 612.3 742.3 612.4 743.3 612.5 744.3 612.5 745.3 612.6 746.3 612.6 747.3 612.7 748.3 612.7 749.3 612.8 750.3 612.8 751.3 612.9 752.3 612.9 753.3 613.0 754.3 613.1 755.3 613.1 756.3 613.2 757.3 613.2 758.3 613.3 759.3 613.3 760.3 613.4 761.3 613.4 762.3 613.5 763.3 613.5 764.3 613.6 765.3 613.6 766.3 613.7 767.3 613.7 768.3 613.8 769.3 613.8 770.3 613.9 771.3 613.9 772.3 614.0 773.3 614.0 774.3 614.0 775.3 614.1 776.3 614.1 777.3 614.2 778.3 614.2 779.3 614.3 780.3 614.3 781.3 614.4 782.3 614.4 783.3 614.5 784.3 614.5 785.3 614.6 786.3 614.6 787.3 614.6 788.3 614.7 789.3 614.7 790.3 614.8 791.3 614.8 792.3 614.9 793.3 614.9 794.3 614.9 795.3 615.0 796.3 615.0 797.3 615.1 798.3 615.1 799.3 615.1 800.3 615.2 801.3 615.2 802.3 615.3 803.3 615.3 804.3 615.3 805.3 615.4 806.3 615.4 807.3 615.5 808.3 615.5 809.3 615.5 810.3 615.6 811.3 615.6 812.3 615.6 813.3 615.7 814.3 615.7 815.3 615.8 816.3 615.8 817.3 615.8 818.3 615.9 819.3 615.9 820.3 615.9 821.3 616.0 822.3 616.0 823.3 616.0 824.3 616.1 825.3 616.1 826.3 616.1 827.3 616.2 828.3 616.2 829.3 616.2 830.3 616.3 831.3 616.3 832.3 616.3 833.3 616.4 834.3 616.4 835.3 616.4 836.3 616.5 837.3 616.5 838.3 616.5 839.3 616.6 840.3 616.6 841.3 616.6 842.3 616.6 843.3 616.7 844.3 616.7 845.3 616.7 846.3 616.8 847.3 616.8 848.3 616.8 849.3 616.9 850.3 616.9 851.3 616.9 852.3 616.9 853.3 617.0 854.3 617.0 855.3 617.0 856.3 617.1 857.3 617.1 858.3 617.1 859.3 617.1 860.3 617.2 861.3 617.2 862.3 617.2 863.3 617.2 864.3 617.3 865.3 617.3 866.3 617.3 867.3 617.3 868.3 617.4 869.3 617.4 870.3 617.4 871.3 617.4 872.3 617.5 873.3 617.5 874.3 617.5 875.3 617.5 876.3 617.6 877.3 617.6 878.3 617.6 879.3 617.6 880.3 617.6 881.3 617.7 882.3 617.7 883.3 617.7 884.3 617.7 885.3 617.7 886.3 617.8 887.3 617.8 888.3 617.8 889.3 617.8 890.3 617.9 891.3 617.9 892.3 617.9 893.3 617.9 894.3 617.9 895.3 618.0 896.3 618.0 897.3 618.0 898.3 618.0 899.3 618.0 900.3 618.0 901.3 618.1 902.3 618.1 903.3 618.1 904.3 618.1 905.3 618.1 906.3 618.2 907.3 618.2 908.3 618.2 909.3 618.2 910.3 618.2 911.3 618.2 912.3 618.3 913.3 618.3 914.3 618.3 915.3 618.3 916.3 618.3 917.3 618.3 918.3 618.4 919.3 618.4 920.3 618.4 921.3 618.4 922.3 618.4 923.3 618.4 924.3 618.4 925.3 618.5 926.3 618.5 927.3 618.5 928.3 618.5 929.3 618.5 930.3 618.5 931.3 618.5 932.3 618.5 933.3 618.6 934.3 618.6 935.3 618.6 936.3 618.6 937.3 618.6 938.3 618.6 939.3 618.6 940.3 618.6 941.3 618.7 942.3 618.7 943.3 618.7 944.3 618.7 945.3 618.7 946.3 618.7 947.3 618.7 948.3 618.7 949.3 618.7 950.3 618.8 951.3 618.8 952.3 618.8 953.3 618.8 954.3 618.8 955.3 618.8 956.3 618.8 957.3 618.8 958.3 618.8 959.3 618.8 960.3 618.8 961.3 618.9 962.3 618.9 963.3 618.9 964.3 618.9 965.0 618.9" stroke="#000" stroke-width="2.6" fill="none"/>
<path d="M224.3 374.8 225.3 376.0 226.3 377.1 227.3 378.3 228.3 379.4 229.3 380.5 230.3 381.6 231.3 382.7 232.3 383.8 233.3 384.9 234.3 386.0 235.3 387.0 236.3 388.1 237.3 389.1 238.3 390.1 239.3 391.1 240.3 392.1 241.3 393.1 242.3 394.1 243.3 395.1 244.3 396.1 245.3 397.0 246.3 398.0 247.3 398.9 248.3 399.9 249.3 400.8 250.3 401.7 251.3 402.6 252.3 403.5 253.3 404.4 254.3 405.3 255.3 406.2 256.3 407.1 257.3 407.9 258.3 408.8 259.3 409.6 260.3 410.5 261.3 411.3 262.3 412.1 263.3 413.0 264.3 413.8 265.3 414.6 266.3 415.4 267.3 416.2 268.3 417.0 269.3 417.8 270.3 418.5 271.3 419.3 272.3 420.1 273.3 420.8 274.3 421.6 275.3 422.3 276.3 423.1 277.3 423.8 278.3 424.5 279.3 425.3 280.3 426.0 281.3 426.7 282.3 427.4 283.3 428.1 284.3 428.8 285.3 429.5 286.3 430.2 287.3 430.9 288.3 431.5 289.3 432.2 290.3 432.9 291.3 433.6 292.3 434.2 293.3 434.9 294.3 435.5 295.3 436.2 296.3 436.8 297.3 437.4 298.3 438.1 299.3 438.7 300.3 439.3 301.3 439.9 302.3 440.5 303.3 441.1 304.3 441.7 305.3 442.3 306.3 442.9 307.3 443.5 308.3 444.1 309.3 444.7 310.3 445.3 311.3 445.9 312.3 446.4 313.3 447.0 314.3 447.6 315.3 448.1 316.3 448.7 317.3 449.2 318.3 449.8 319.3 450.3 320.3 450.9 321.3 451.4 322.3 451.9 323.3 452.5 324.3 453.0 325.3 453.5 326.3 454.0 327.3 454.6 328.3 455.1 329.3 455.6 330.3 456.1 331.3 456.6 332.3 457.1 333.3 457.6 334.3 458.1 335.3 458.6 336.3 459.1 337.3 459.6 338.3 460.0 339.3 460.5 340.3 461.0 341.3 461.5 342.3 462.0 343.3 462.4 344.3 462.9 345.3 463.3 346.3 463.8 347.3 464.3 348.3 464.7 349.3 465.2 350.3 465.6 351.3 466.1 352.3 466.5 353.3 467.0 354.3 467.4 355.3 467.8 356.3 468.3 357.3 468.7 358.3 469.1 359.3 469.5 360.3 470.0 361.3 470.4 362.3 470.8 363.3 471.2 364.3 471.6 365.3 472.1 366.3 472.5 367.3 472.9 368.3 473.3 369.3 473.7 370.3 474.1 371.3 474.5 372.3 474.9 373.3 475.3 374.3 475.7 375.3 476.0 376.3 476.4 377.3 476.8 378.3 477.2 379.3 477.6 380.3 477.9 381.3 478.3 382.3 478.7 383.3 479.1 384.3 479.4 385.3 479.8 386.3 480.2 387.3 480.5 388.3 480.9 389.3 481.3 390.3 481.6 391.3 482.0 392.3 482.3 393.3 482.7 394.3 483.0 395.3 483.4 396.3 483.7 397.3 484.1 398.3 484.4 399.3 484.7 400.3 485.1 401.3 485.4 402.3 485.8 403.3 486.1 404.3 486.4 405.3 486.8 406.3 487.1 407.3 487.4 408.3 487.7 409.3 488.1 410.3 488.4 411.3 488.7 412.3 489.0 413.3 489.3 414.3 489.7 415.3 490.0 416.3 490.3 417.3 490.6 418.3 490.9 419.3 491.2 420.3 491.5 421.3 491.8 422.3 492.1 423.3 492.4 424.3 492.7 425.3 493.0 426.3 493.3 427.3 493.6 428.3 493.9 429.3 494.2 430.3 494.5 431.3 494.8 432.3 495.1 433.3 495.3 434.3 495.6 435.3 495.9 436.3 496.2 437.3 496.5 438.3 496.7 439.3 497.0 440.3 497.3 441.3 497.6 442.3 497.8 443.3 498.1 444.3 498.4 445.3 498.7 446.3 498.9 447.3 499.2 448.3 499.5 449.3 499.7 450.3 500.0 451.3 500.3 452.3 500.5 453.3 500.8 454.3 501.0 455.3 501.3 456.3 501.5 457.3 501.8 458.3 502.0 459.3 502.3 460.3 502.5 461.3 502.8 462.3 503.0 463.3 503.3 464.3 503.5 465.3 503.8 466.3 504.0 467.3 504.3 468.3 504.5 469.3 504.8 470.3 505.0 471.3 505.2 472.3 505.5 473.3 505.7 474.3 505.9 475.3 506.2 476.3 506.4 477.3 506.6 478.3 506.9 479.3 507.1 480.3 507.3 481.3 507.5 482.3 507.8 483.3 508.0 484.3 508.2 485.3 508.4 486.3 508.7 487.3 508.9 488.3 509.1 489.3 509.3 490.3 509.5 491.3 509.8 492.3 510.0 493.3 510.2 494.3 510.4 495.3 510.6 496.3 510.8 497.3 511.0 498.3 511.2 499.3 511.5 500.3 511.7 501.3 511.9 502.3 512.1 503.3 512.3 504.3 512.5 505.3 512.7 506.3 512.9 507.3 513.1 508.3 513.3 509.3 513.5 510.3 513.7 511.3 513.9 512.3 514.1 513.3 514.3 514.3 514.5 515.3 514.7 516.3 514.9 517.3 515.0 518.3 515.2 519.3 515.4 520.3 515.6 521.3 515.8 522.3 516.0 523.3 516.2 524.3 516.4 525.3 516.6 526.3 516.7 527.3 516.9 528.3 517.1 529.3 517.3 530.3 517.5 531.3 517.7 532.3 517.8 533.3 518.0 534.3 518.2 535.3 518.4 536.3 518.5 537.3 518.7 538.3 518.9 539.3 519.1 540.3 519.2 541.3 519.4 542.3 519.6 543.3 519.8 544.3 519.9 545.3 520.1 546.3 520.3 547.3 520.4 548.3 520.6 549.3 520.8 550.3 520.9 551.3 521.1 552.3 521.3 553.3 521.4 554.3 521.6 555.3 521.8 556.3 521.9 557.3 522.1 558.3 522.2 559.3 522.4 560.3 522.6 561.3 522.7 562.3 522.9 563.3 523.0 564.3 523.2 565.3 523.3 566.3 523.5 567.3 523.7 568.3 523.8 569.3 524.0 570.3 524.1 571.3 524.3 572.3 524.4 573.3 524.6 574.3 524.7 575.3 524.9 576.3 525.0 577.3 525.2 578.3 525.3 579.3 525.5 580.3 525.6 581.3 525.7 582.3 525.9 583.3 526.0 584.3 526.2 585.3 526.3 586.3 526.5 587.3 526.6 588.3 526.7 589.3 526.9 590.3 527.0 591.3 527.2 592.3 527.3 593.3 527.4 594.3 527.6 595.3 527.7 596.3 527.9 597.3 528.0 598.3 528.1 599.3 528.3 600.3 528.4 601.3 528.5 602.3 528.7 603.3 528.8 604.3 528.9 605.3 529.1 606.3 529.2 607.3 529.3 608.3 529.4 609.3 529.6 610.3 529.7 611.3 529.8 612.3 530.0 613.3 530.1 614.3 530.2 615.3 530.3 616.3 530.5 617.3 530.6 618.3 530.7 619.3 530.8 620.3 531.0 621.3 531.1 622.3 531.2 623.3 531.3 624.3 531.4 625.3 531.6 626.3 531.7 627.3 531.8 628.3 531.9 629.3 532.0 630.3 532.2 631.3 532.3 632.3 532.4 633.3 532.5 634.3 532.6 635.3 532.7 636.3 532.9 637.3 533.0 638.3 533.1 639.3 533.2 640.3 533.3 641.3 533.4 642.3 533.5 643.3 533.7 644.3 533.8 645.3 533.9 646.3 534.0 647.3 534.1 648.3 534.2 649.3 534.3 650.3 534.4 651.3 534.5 652.3 534.6 653.3 534.7 654.3 534.9 655.3 535.0 656.3 535.1 657.3 535.2 658.3 535.3 659.3 535.4 660.3 535.5 661.3 535.6 662.3 535.7 663.3 535.8 664.3 535.9 665.3 536.0 666.3 536.1 667.3 536.2 668.3 536.3 669.3 536.4 670.3 536.5 671.3 536.6 672.3 536.7 673.3 536.8 674.3 536.9 675.3 537.0 676.3 537.1 677.3 537.2 678.3 537.3 679.3 537.4 680.3 537.5 681.3 537.6 682.3 537.7 683.3 537.8 684.3 537.9 685.3 537.9 686.3 538.0 687.3 538.1 688.3 538.2 689.3 538.3 690.3 538.4 691.3 538.5 692.3 538.6 693.3 538.7 694.3 538.8 695.3 538.9 696.3 538.9 697.3 539.0 698.3 539.1 699.3 539.2 700.3 539.3 701.3 539.4 702.3 539.5 703.3 539.6 704.3 539.7 705.3 539.7 706.3 539.8 707.3 539.9 708.3 540.0 709.3 540.1 710.3 540.2 711.3 540.2 712.3 540.3 713.3 540.4 714.3 540.5 715.3 540.6 716.3 540.7 717.3 540.7 718.3 540.8 719.3 540.9 720.3 541.0 721.3 541.1 722.3 541.1 723.3 541.2 724.3 541.3 725.3 541.4 726.3 541.5 727.3 541.5 728.3 541.6 729.3 541.7 730.3 541.8 731.3 541.8 732.3 541.9 733.3 542.0 734.3 542.1 735.3 542.2 736.3 542.2 737.3 542.3 738.3 542.4 739.3 542.5 740.3 542.5 741.3 542.6 742.3 542.7 743.3 542.7 744.3 542.8 745.3 542.9 746.3 543.0 747.3 543.0 748.3 543.1 749.3 543.2 750.3 543.3 751.3 543.3 752.3 543.4 753.3 543.5 754.3 543.5 755.3 543.6 756.3 543.7 757.3 543.7 758.3 543.8 759.3 543.9 760.3 543.9 761.3 544.0 762.3 544.1 763.3 544.1 764.3 544.2 765.3 544.3 766.3 544.3 767.3 544.4 768.3 544.5 769.3 544.5 770.3 544.6 771.3 544.7 772.3 544.7 773.3 544.8 774.3 544.9 775.3 544.9 776.3 545.0 777.3 545.1 778.3 545.1 779.3 545.2 780.3 545.2 781.3 545.3 782.3 545.4 783.3 545.4 784.3 545.5 785.3 545.5 786.3 545.6 787.3 545.7 788.3 545.7 789.3 545.8 790.3 545.8 791.3 545.9 792.3 546.0 793.3 546.0 794.3 546.1 795.3 546.1 796.3 546.2 797.3 546.3 798.3 546.3 799.3 546.4 800.3 546.4 801.3 546.5 802.3 546.5 803.3 546.6 804.3 546.7 805.3 546.7 806.3 546.8 807.3 546.8 808.3 546.9 809.3 546.9 810.3 547.0 811.3 547.0 812.3 547.1 813.3 547.1 814.3 547.2 815.3 547.3 816.3 547.3 817.3 547.4 818.3 547.4 819.3 547.5 820.3 547.5 821.3 547.6 822.3 547.6 823.3 547.7 824.3 547.7 825.3 547.8 826.3 547.8 827.3 547.9 828.3 547.9 829.3 548.0 830.3 548.0 831.3 548.1 832.3 548.1 833.3 548.2 834.3 548.2 835.3 548.3 836.3 548.3 837.3 548.4 838.3 548.4 839.3 548.5 840.3 548.5 841.3 548.5 842.3 548.6 843.3 548.6 844.3 548.7 845.3 548.7 846.3 548.8 847.3 548.8 848.3 548.9 849.3 548.9 850.3 549.0 851.3 549.0 852.3 549.1 853.3 549.1 854.3 549.1 855.3 549.2 856.3 549.2 857.3 549.3 858.3 549.3 859.3 549.4 860.3 549.4 861.3 549.4 862.3 549.5 863.3 549.5 864.3 549.6 865.3 549.6 866.3 549.7 867.3 549.7 868.3 549.7 869.3 549.8 870.3 549.8 871.3 549.9 872.3 549.9 873.3 549.9 874.3 550.0 875.3 550.0 876.3 550.1 877.3 550.1 878.3 550.1 879.3 550.2 880.3 550.2 881.3 550.3 882.3 550.3 883.3 550.3 884.3 550.4 885.3 550.4 886.3 550.4 887.3 550.5 888.3 550.5 889.3 550.6 890.3 550.6 891.3 550.6 892.3 550.7 893.3 550.7 894.3 550.7 895.3 550.8 896.3 550.8 897.3 550.8 898.3 550.9 899.3 550.9 900.3 550.9 901.3 551.0 902.3 551.0 903.3 551.1 904.3 551.1 905.3 551.1 906.3 551.2 907.3 551.2 908.3 551.2 909.3 551.3 910.3 551.3 911.3 551.3 912.3 551.4 913.3 551.4 914.3 551.4 915.3 551.5 916.3 551.5 917.3 551.5 918.3 551.5 919.3 551.6 920.3 551.6 921.3 551.6 922.3 551.7 923.3 551.7 924.3 551.7 925.3 551.8 926.3 551.8 927.3 551.8 928.3 551.9 929.3 551.9 930.3 551.9 931.3 551.9 932.3 552.0 933.3 552.0 934.3 552.0 935.3 552.1 936.3 552.1 937.3 552.1 938.3 552.1 939.3 552.2 940.3 552.2 941.3 552.2 942.3 552.3 943.3 552.3 944.3 552.3 945.3 552.3 946.3 552.4 947.3 552.4 948.3 552.4 949.3 552.4 950.3 552.5 951.3 552.5 952.3 552.5 953.3 552.6 954.3 552.6 955.3 552.6 956.3 552.6 957.3 552.7 958.3 552.7 959.3 552.7 960.3 552.7 961.3 552.8 962.3 552.8 963.3 552.8 964.3 552.8 965.0 552.8" stroke="#000" stroke-width="2.6" fill="none"/>
<path d="M223.7 289.0 224.7 290.1 225.7 291.2 226.7 292.3 227.7 293.4 228.7 294.5 229.7 295.6 230.7 296.7 231.7 297.7 232.7 298.8 233.7 299.8 234.7 300.8 235.7 301.9 236.7 302.9 237.7 303.9 238.7 304.9 239.7 305.9 240.7 306.9 241.7 307.9 242.7 308.9 243.7 309.8 244.7 310.8 245.7 311.7 246.7 312.7 247.7 313.6 248.7 314.6 249.7 315.5 250.7 316.4 251.7 317.3 252.7 318.2 253.7 319.1 254.7 320.0 255.7 320.9 256.7 321.8 257.7 322.7 258.7 323.5 259.7 324.4 260.7 325.2 261.7 326.1 262.7 326.9 263.7 327.8 264.7 328.6 265.7 329.4 266.7 330.2 267.7 331.1 268.7 331.9 269.7 332.7 270.7 333.5 271.7 334.3 272.7 335.0 273.7 335.8 274.7 336.6 275.7 337.4 276.7 338.1 277.7 338.9 278.7 339.7 279.7 340.4 280.7 341.2 281.7 341.9 282.7 342.6 283.7 343.4 284.7 344.1 285.7 344.8 286.7 345.5 287.7 346.2 288.7 346.9 289.7 347.6 290.7 348.3 291.7 349.0 292.7 349.7 293.7 350.4 294.7 351.1 295.7 351.8 296.7 352.4 297.7 353.1 298.7 353.8 299.7 354.4 300.7 355.1 301.7 355.7 302.7 356.4 303.7 357.0 304.7 357.7 305.7 358.3 306.7 358.9 307.7 359.5 308.7 360.2 309.7 360.8 310.7 361.4 311.7 362.0 312.7 362.6 313.7 363.2 314.7 363.8 315.7 364.4 316.7 365.0 317.7 365.6 318.7 366.2 319.7 366.8 320.7 367.3 321.7 367.9 322.7 368.5 323.7 369.1 324.7 369.6 325.7 370.2 326.7 370.7 327.7 371.3 328.7 371.9 329.7 372.4 330.7 372.9 331.7 373.5 332.7 374.0 333.7 374.6 334.7 375.1 335.7 375.6 336.7 376.2 337.7 376.7 338.7 377.2 339.7 377.7 340.7 378.2 341.7 378.7 342.7 379.3 343.7 379.8 344.7 380.3 345.7 380.8 346.7 381.3 347.7 381.8 348.7 382.2 349.7 382.7 350.7 383.2 351.7 383.7 352.7 384.2 353.7 384.7 354.7 385.1 355.7 385.6 356.7 386.1 357.7 386.5 358.7 387.0 359.7 387.5 360.7 387.9 361.7 388.4 362.7 388.8 363.7 389.3 364.7 389.7 365.7 390.2 366.7 390.6 367.7 391.1 368.7 391.5 369.7 392.0 370.7 392.4 371.7 392.8 372.7 393.3 373.7 393.7 374.7 394.1 375.7 394.5 376.7 395.0 377.7 395.4 378.7 395.8 379.7 396.2 380.7 396.6 381.7 397.0 382.7 397.4 383.7 397.9 384.7 398.3 385.7 398.7 386.7 399.1 387.7 399.5 388.7 399.8 389.7 400.2 390.7 400.6 391.7 401.0 392.7 401.4 393.7 401.8 394.7 402.2 395.7 402.6 396.7 402.9 397.7 403.3 398.7 403.7 399.7 404.1 400.7 404.4 401.7 404.8 402.7 405.2 403.7 405.5 404.7 405.9 405.7 406.3 406.7 406.6 407.7 407.0 408.7 407.3 409.7 407.7 410.7 408.1 411.7 408.4 412.7 408.8 413.7 409.1 414.7 409.5 415.7 409.8 416.7 410.1 417.7 410.5 418.7 410.8 419.7 411.2 420.7 411.5 421.7 411.8 422.7 412.2 423.7 412.5 424.7 412.8 425.7 413.1 426.7 413.5 427.7 413.8 428.7 414.1 429.7 414.4 430.7 414.8 431.7 415.1 432.7 415.4 433.7 415.7 434.7 416.0 435.7 416.3 436.7 416.6 437.7 417.0 438.7 417.3 439.7 417.6 440.7 417.9 441.7 418.2 442.7 418.5 443.7 418.8 444.7 419.1 445.7 419.4 446.7 419.7 447.7 420.0 448.7 420.3 449.7 420.6 450.7 420.8 451.7 421.1 452.7 421.4 453.7 421.7 454.7 422.0 455.7 422.3 456.7 422.6 457.7 422.8 458.7 423.1 459.7 423.4 460.7 423.7 461.7 423.9 462.7 424.2 463.7 424.5 464.7 424.8 465.7 425.0 466.7 425.3 467.7 425.6 468.7 425.8 469.7 426.1 470.7 426.4 471.7 426.6 472.7 426.9 473.7 427.1 474.7 427.4 475.7 427.7 476.7 427.9 477.7 428.2 478.7 428.4 479.7 428.7 480.7 428.9 481.7 429.2 482.7 429.4 483.7 429.7 484.7 429.9 485.7 430.2 486.7 430.4 487.7 430.7 488.7 430.9 489.7 431.1 490.7 431.4 491.7 431.6 492.7 431.9 493.7 432.1 494.7 432.3 495.7 432.6 496.7 432.8 497.7 433.0 498.7 433.3 499.7 433.5 500.7 433.7 501.7 433.9 502.7 434.2 503.7 434.4 504.7 434.6 505.7 434.8 506.7 435.1 507.7 435.3 508.7 435.5 509.7 435.7 510.7 435.9 511.7 436.2 512.7 436.4 513.7 436.6 514.7 436.8 515.7 437.0 516.7 437.2 517.7 437.5 518.7 437.7 519.7 437.9 520.7 438.1 521.7 438.3 522.7 438.5 523.7 438.7 524.7 438.9 525.7 439.1 526.7 439.3 527.7 439.5 528.7 439.7 529.7 439.9 530.7 440.1 531.7 440.3 532.7 440.5 533.7 440.7 534.7 440.9 535.7 441.1 536.7 441.3 537.7 441.5 538.7 441.7 539.7 441.9 540.7 442.1 541.7 442.3 542.7 442.4 543.7 442.6 544.7 442.8 545.7 443.0 546.7 443.2 547.7 443.4 548.7 443.6 549.7 443.7 550.7 443.9 551.7 444.1 552.7 444.3 553.7 444.5 554.7 444.6 555.7 444.8 556.7 445.0 557.7 445.2 558.7 445.4 559.7 445.5 560.7 445.7 561.7 445.9 562.7 446.1 563.7 446.2 564.7 446.4 565.7 446.6 566.7 446.7 567.7 446.9 568.7 447.1 569.7 447.2 570.7 447.4 571.7 447.6 572.7 447.7 573.7 447.9 574.7 448.1 575.7 448.2 576.7 448.4 577.7 448.5 578.7 448.7 579.7 448.9 580.7 449.0 581.7 449.2 582.7 449.3 583.7 449.5 584.7 449.7 585.7 449.8 586.7 450.0 587.7 450.1 588.7 450.3 589.7 450.4 590.7 450.6 591.7 450.7 592.7 450.9 593.7 451.0 594.7 451.2 595.7 451.3 596.7 451.5 597.7 451.6 598.7 451.8 599.7 451.9 600.7 452.1 601.7 452.2 602.7 452.4 603.7 452.5 604.7 452.6 605.7 452.8 606.7 452.9 607.7 453.1 608.7 453.2 609.7 453.3 610.7 453.5 611.7 453.6 612.7 453.8 613.7 453.9 614.7 454.0 615.7 454.2 616.7 454.3 617.7 454.4 618.7 454.6 619.7 454.7 620.7 454.8 621.7 455.0 622.7 455.1 623.7 455.2 624.7 455.4 625.7 455.5 626.7 455.6 627.7 455.8 628.7 455.9 629.7 456.0 630.7 456.1 631.7 456.3 632.7 456.4 633.7 456.5 634.7 456.6 635.7 456.8 636.7 456.9 637.7 457.0 638.7 457.1 639.7 457.3 640.7 457.4 641.7 457.5 642.7 457.6 643.7 457.7 644.7 457.9 645.7 458.0 646.7 458.1 647.7 458.2 648.7 458.3 649.7 458.4 650.7 458.6 651.7 458.7 652.7 458.8 653.7 458.9 654.7 459.0 655.7 459.1 656.7 459.2 657.7 459.4 658.7 459.5 659.7 459.6 660.7 459.7 661.7 459.8 662.7 459.9 663.7 460.0 664.7 460.1 665.7 460.2 666.7 460.3 667.7 460.4 668.7 460.6 669.7 460.7 670.7 460.8 671.7 460.9 672.7 461.0 673.7 461.1 674.7 461.2 675.7 461.3 676.7 461.4 677.7 461.5 678.7 461.6 679.7 461.7 680.7 461.8 681.7 461.9 682.7 462.0 683.7 462.1 684.7 462.2 685.7 462.3 686.7 462.4 687.7 462.5 688.7 462.6 689.7 462.7 690.7 462.8 691.7 462.9 692.7 463.0 693.7 463.1 694.7 463.2 695.7 463.3 696.7 463.3 697.7 463.4 698.7 463.5 699.7 463.6 700.7 463.7 701.7 463.8 702.7 463.9 703.7 464.0 704.7 464.1 705.7 464.2 706.7 464.3 707.7 464.3 708.7 464.4 709.7 464.5 710.7 464.6 711.7 464.7 712.7 464.8 713.7 464.9 714.7 465.0 715.7 465.0 716.7 465.1 717.7 465.2 718.7 465.3 719.7 465.4 720.7 465.5 721.7 465.5 722.7 465.6 723.7 465.7 724.7 465.8 725.7 465.9 726.7 465.9 727.7 466.0 728.7 466.1 729.7 466.2 730.7 466.3 731.7 466.3 732.7 466.4 733.7 466.5 734.7 466.6 735.7 466.7 736.7 466.7 737.7 466.8 738.7 466.9 739.7 467.0 740.7 467.0 741.7 467.1 742.7 467.2 743.7 467.3 744.7 467.3 745.7 467.4 746.7 467.5 747.7 467.6 748.7 467.6 749.7 467.7 750.7 467.8 751.7 467.8 752.7 467.9 753.7 468.0 754.7 468.1 755.7 468.1 756.7 468.2 757.7 468.3 758.7 468.3 759.7 468.4 760.7 468.5 761.7 468.5 762.7 468.6 763.7 468.7 764.7 468.7 765.7 468.8 766.7 468.9 767.7 468.9 768.7 469.0 769.7 469.1 770.7 469.1 771.7 469.2 772.7 469.3 773.7 469.3 774.7 469.4 775.7 469.5 776.7 469.5 777.7 469.6 778.7 469.6 779.7 469.7 780.7 469.8 781.7 469.8 782.7 469.9 783.7 469.9 784.7 470.0 785.7 470.1 786.7 470.1 787.7 470.2 788.7 470.2 789.7 470.3 790.7 470.4 791.7 470.4 792.7 470.5 793.7 470.5 794.7 470.6 795.7 470.6 796.7 470.7 797.7 470.8 798.7 470.8 799.7 470.9 800.7 470.9 801.7 471.0 802.7 471.0 803.7 471.1 804.7 471.1 805.7 471.2 806.7 471.2 807.7 471.3 808.7 471.3 809.7 471.4 810.7 471.5 811.7 471.5 812.7 471.6 813.7 471.6 814.7 471.7 815.7 471.7 816.7 471.8 817.7 471.8 818.7 471.9 819.7 471.9 820.7 472.0 821.7 472.0 822.7 472.1 823.7 472.1 824.7 472.1 825.7 472.2 826.7 472.2 827.7 472.3 828.7 472.3 829.7 472.4 830.7 472.4 831.7 472.5 832.7 472.5 833.7 472.6 834.7 472.6 835.7 472.7 836.7 472.7 837.7 472.7 838.7 472.8 839.7 472.8 840.7 472.9 841.7 472.9 842.7 473.0 843.7 473.0 844.7 473.0 845.7 473.1 846.7 473.1 847.7 473.2 848.7 473.2 849.7 473.3 850.7 473.3 851.7 473.3 852.7 473.4 853.7 473.4 854.7 473.5 855.7 473.5 856.7 473.5 857.7 473.6 858.7 473.6 859.7 473.7 860.7 473.7 861.7 473.7 862.7 473.8 863.7 473.8 864.7 473.8 865.7 473.9 866.7 473.9 867.7 474.0 868.7 474.0 869.7 474.0 870.7 474.1 871.7 474.1 872.7 474.1 873.7 474.2 874.7 474.2 875.7 474.2 876.7 474.3 877.7 474.3 878.7 474.3 879.7 474.4 880.7 474.4 881.7 474.4 882.7 474.5 883.7 474.5 884.7 474.5 885.7 474.6 886.7 474.6 887.7 474.6 888.7 474.7 889.7 474.7 890.7 474.7 891.7 474.8 892.7 474.8 893.7 474.8 894.7 474.8 895.7 474.9 896.7 474.9 897.7 474.9 898.7 475.0 899.7 475.0 900.7 475.0 901.7 475.0 902.7 475.1 903.7 475.1 904.7 475.1 905.7 475.2 906.7 475.2 907.7 475.2 908.7 475.2 909.7 475.3 910.7 475.3 911.7 475.3 912.7 475.3 913.7 475.4 914.7 475.4 915.7 475.4 916.7 475.4 917.7 475.5 918.7 475.5 919.7 475.5 920.7 475.5 921.7 475.6 922.7 475.6 923.7 475.6 924.7 475.6 925.7 475.7 926.7 475.7 927.7 475.7 928.7 475.7 929.7 475.8 930.7 475.8 931.7 475.8 932.7 475.8 933.7 475.8 934.7 475.9 935.7 475.9 936.7 475.9 937.7 475.9 938.7 476.0 939.7 476.0 940.7 476.0 941.7 476.0 942.7 476.0 943.7 476.1 944.7 476.1 945.7 476.1 946.7 476.1 947.7 476.1 948.7 476.1 949.7 476.2 950.7 476.2 951.7 476.2 952.7 476.2 953.7 476.2 954.7 476.3 955.7 476.3 956.7 476.3 957.7 476.3 958.7 476.3 959.7 476.3 960.7 476.4 961.7 476.4 962.7 476.4 963.7 476.4 964.7 476.4 965.0 476.4" stroke="#000" stroke-width="2.6" fill="none"/>
<path d="M223.8 200.4 224.8 201.3 225.8 202.3 226.8 203.2 227.8 204.2 228.8 205.1 229.8 206.0 230.8 207.0 231.8 207.9 232.8 208.8 233.8 209.8 234.8 210.7 235.8 211.6 236.8 212.5 237.8 213.5 238.8 214.4 239.8 215.3 240.8 216.2 241.8 217.1 242.8 218.0 243.8 218.9 244.8 219.8 245.8 220.7 246.8 221.6 247.8 222.5 248.8 223.4 249.8 224.3 250.8 225.2 251.8 226.0 252.8 226.9 253.8 227.8 254.8 228.7 255.8 229.5 256.8 230.4 257.8 231.2 258.8 232.1 259.8 232.9 260.8 233.8 261.8 234.6 262.8 235.5 263.8 236.3 264.8 237.1 265.8 238.0 266.8 238.8 267.8 239.6 268.8 240.4 269.8 241.2 270.8 242.1 271.8 242.9 272.8 243.7 273.8 244.5 274.8 245.3 275.8 246.0 276.8 246.8 277.8 247.6 278.8 248.4 279.8 249.2 280.8 249.9 281.8 250.7 282.8 251.5 283.8 252.2 284.8 253.0 285.8 253.7 286.8 254.5 287.8 255.2 288.8 256.0 289.8 256.7 290.8 257.5 291.8 258.2 292.8 258.9 293.8 259.6 294.8 260.4 295.8 261.1 296.8 261.8 297.8 262.5 298.8 263.2 299.8 263.9 300.8 264.6 301.8 265.3 302.8 266.0 303.8 266.7 304.8 267.3 305.8 268.0 306.8 268.7 307.8 269.4 308.8 270.0 309.8 270.7 310.8 271.4 311.8 272.0 312.8 272.7 313.8 273.3 314.8 274.0 315.8 274.6 316.8 275.3 317.8 275.9 318.8 276.6 319.8 277.2 320.8 277.8 321.8 278.4 322.8 279.1 323.8 279.7 324.8 280.3 325.8 280.9 326.8 281.5 327.8 282.1 328.8 282.7 329.8 283.3 330.8 283.9 331.8 284.5 332.8 285.1 333.8 285.7 334.8 286.3 335.8 286.9 336.8 287.4 337.8 288.0 338.8 288.6 339.8 289.2 340.8 289.7 341.8 290.3 342.8 290.8 343.8 291.4 344.8 292.0 345.8 292.5 346.8 293.1 347.8 293.6 348.8 294.1 349.8 294.7 350.8 295.2 351.8 295.8 352.8 296.3 353.8 296.8 354.8 297.3 355.8 297.9 356.8 298.4 357.8 298.9 358.8 299.4 359.8 299.9 360.8 300.4 361.8 301.0 362.8 301.5 363.8 302.0 364.8 302.5 365.8 303.0 366.8 303.4 367.8 303.9 368.8 304.4 369.8 304.9 370.8 305.4 371.8 305.9 372.8 306.4 373.8 306.8 374.8 307.3 375.8 307.8 376.8 308.2 377.8 308.7 378.8 309.2 379.8 309.6 380.8 310.1 381.8 310.5 382.8 311.0 383.8 311.5 384.8 311.9 385.8 312.4 386.8 312.8 387.8 313.2 388.8 313.7 389.8 314.1 390.8 314.5 391.8 315.0 392.8 315.4 393.8 315.8 394.8 316.3 395.8 316.7 396.8 317.1 397.8 317.5 398.8 317.9 399.8 318.4 400.8 318.8 401.8 319.2 402.8 319.6 403.8 320.0 404.8 320.4 405.8 320.8 406.8 321.2 407.8 321.6 408.8 322.0 409.8 322.4 410.8 322.8 411.8 323.2 412.8 323.6 413.8 324.0 414.8 324.3 415.8 324.7 416.8 325.1 417.8 325.5 418.8 325.9 419.8 326.2 420.8 326.6 421.8 327.0 422.8 327.3 423.8 327.7 424.8 328.1 425.8 328.4 426.8 328.8 427.8 329.1 428.8 329.5 429.8 329.9 430.8 330.2 431.8 330.6 432.8 330.9 433.8 331.3 434.8 331.6 435.8 332.0 436.8 332.3 437.8 332.6 438.8 333.0 439.8 333.3 440.8 333.7 441.8 334.0 442.8 334.3 443.8 334.6 444.8 335.0 445.8 335.3 446.8 335.6 447.8 336.0 448.8 336.3 449.8 336.6 450.8 336.9 451.8 337.2 452.8 337.6 453.8 337.9 454.8 338.2 455.8 338.5 456.8 338.8 457.8 339.1 458.8 339.4 459.8 339.7 460.8 340.0 461.8 340.3 462.8 340.6 463.8 340.9 464.8 341.2 465.8 341.5 466.8 341.8 467.8 342.1 468.8 342.4 469.8 342.7 470.8 343.0 471.8 343.3 472.8 343.6 473.8 343.9 474.8 344.1 475.8 344.4 476.8 344.7 477.8 345.0 478.8 345.3 479.8 345.5 480.8 345.8 481.8 346.1 482.8 346.4 483.8 346.6 484.8 346.9 485.8 347.2 486.8 347.4 487.8 347.7 488.8 348.0 489.8 348.2 490.8 348.5 491.8 348.8 492.8 349.0 493.8 349.3 494.8 349.5 495.8 349.8 496.8 350.0 497.8 350.3 498.8 350.5 499.8 350.8 500.8 351.0 501.8 351.3 502.8 351.5 503.8 351.8 504.8 352.0 505.8 352.3 506.8 352.5 507.8 352.8 508.8 353.0 509.8 353.2 510.8 353.5 511.8 353.7 512.8 354.0 513.8 354.2 514.8 354.4 515.8 354.7 516.8 354.9 517.8 355.1 518.8 355.4 519.8 355.6 520.8 355.8 521.8 356.0 522.8 356.3 523.8 356.5 524.8 356.7 525.8 356.9 526.8 357.2 527.8 357.4 528.8 357.6 529.8 357.8 530.8 358.0 531.8 358.2 532.8 358.5 533.8 358.7 534.8 358.9 535.8 359.1 536.8 359.3 537.8 359.5 538.8 359.7 539.8 359.9 540.8 360.1 541.8 360.3 542.8 360.5 543.8 360.7 544.8 361.0 545.8 361.2 546.8 361.4 547.8 361.6 548.8 361.8 549.8 362.0 550.8 362.1 551.8 362.3 552.8 362.5 553.8 362.7 554.8 362.9 555.8 363.1 556.8 363.3 557.8 363.5 558.8 363.7 559.8 363.9 560.8 364.1 561.8 364.3 562.8 364.4 563.8 364.6 564.8 364.8 565.8 365.0 566.8 365.2 567.8 365.4 568.8 365.5 569.8 365.7 570.8 365.9 571.8 366.1 572.8 366.3 573.8 366.4 574.8 366.6 575.8 366.8 576.8 367.0 577.8 367.1 578.8 367.3 579.8 367.5 580.8 367.6 581.8 367.8 582.8 368.0 583.8 368.1 584.8 368.3 585.8 368.5 586.8 368.6 587.8 368.8 588.8 369.0 589.8 369.1 590.8 369.3 591.8 369.5 592.8 369.6 593.8 369.8 594.8 369.9 595.8 370.1 596.8 370.3 597.8 370.4 598.8 370.6 599.8 370.7 600.8 370.9 601.8 371.0 602.8 371.2 603.8 371.4 604.8 371.5 605.8 371.7 606.8 371.8 607.8 372.0 608.8 372.1 609.8 372.3 610.8 372.4 611.8 372.5 612.8 372.7 613.8 372.8 614.8 373.0 615.8 373.1 616.8 373.3 617.8 373.4 618.8 373.6 619.8 373.7 620.8 373.8 621.8 374.0 622.8 374.1 623.8 374.3 624.8 374.4 625.8 374.5 626.8 374.7 627.8 374.8 628.8 374.9 629.8 375.1 630.8 375.2 631.8 375.3 632.8 375.5 633.8 375.6 634.8 375.7 635.8 375.9 636.8 376.0 637.8 376.1 638.8 376.3 639.8 376.4 640.8 376.5 641.8 376.6 642.8 376.8 643.8 376.9 644.8 377.0 645.8 377.1 646.8 377.3 647.8 377.4 648.8 377.5 649.8 377.6 650.8 377.8 651.8 377.9 652.8 378.0 653.8 378.1 654.8 378.2 655.8 378.4 656.8 378.5 657.8 378.6 658.8 378.7 659.8 378.8 660.8 378.9 661.8 379.1 662.8 379.2 663.8 379.3 664.8 379.4 665.8 379.5 666.8 379.6 667.8 379.7 668.8 379.9 669.8 380.0 670.8 380.1 671.8 380.2 672.8 380.3 673.8 380.4 674.8 380.5 675.8 380.6 676.8 380.7 677.8 380.8 678.8 380.9 679.8 381.0 680.8 381.1 681.8 381.2 682.8 381.3 683.8 381.5 684.8 381.6 685.8 381.7 686.8 381.8 687.8 381.9 688.8 382.0 689.8 382.1 690.8 382.2 691.8 382.3 692.8 382.4 693.8 382.5 694.8 382.6 695.8 382.6 696.8 382.7 697.8 382.8 698.8 382.9 699.8 383.0 700.8 383.1 701.8 383.2 702.8 383.3 703.8 383.4 704.8 383.5 705.8 383.6 706.8 383.7 707.8 383.8 708.8 383.9 709.8 384.0 710.8 384.0 711.8 384.1 712.8 384.2 713.8 384.3 714.8 384.4 715.8 384.5 716.8 384.6 717.8 384.7 718.8 384.7 719.8 384.8 720.8 384.9 721.8 385.0 722.8 385.1 723.8 385.2 724.8 385.2 725.8 385.3 726.8 385.4 727.8 385.5 728.8 385.6 729.8 385.6 730.8 385.7 731.8 385.8 732.8 385.9 733.8 386.0 734.8 386.0 735.8 386.1 736.8 386.2 737.8 386.3 738.8 386.4 739.8 386.4 740.8 386.5 741.8 386.6 742.8 386.7 743.8 386.7 744.8 386.8 745.8 386.9 746.8 387.0 747.8 387.0 748.8 387.1 749.8 387.2 750.8 387.2 751.8 387.3 752.8 387.4 753.8 387.5 754.8 387.5 755.8 387.6 756.8 387.7 757.8 387.7 758.8 387.8 759.8 387.9 760.8 387.9 761.8 388.0 762.8 388.1 763.8 388.1 764.8 388.2 765.8 388.3 766.8 388.3 767.8 388.4 768.8 388.5 769.8 388.5 770.8 388.6 771.8 388.7 772.8 388.7 773.8 388.8 774.8 388.8 775.8 388.9 776.8 389.0 777.8 389.0 778.8 389.1 779.8 389.1 780.8 389.2 781.8 389.3 782.8 389.3 783.8 389.4 784.8 389.4 785.8 389.5 786.8 389.6 787.8 389.6 788.8 389.7 789.8 389.7 790.8 389.8 791.8 389.8 792.8 389.9 793.8 390.0 794.8 390.0 795.8 390.1 796.8 390.1 797.8 390.2 798.8 390.2 799.8 390.3 800.8 390.3 801.8 390.4 802.8 390.4 803.8 390.5 804.8 390.5 805.8 390.6 806.8 390.6 807.8 390.7 808.8 390.7 809.8 390.8 810.8 390.8 811.8 390.9 812.8 390.9 813.8 391.0 814.8 391.0 815.8 391.1 816.8 391.1 817.8 391.2 818.8 391.2 819.8 391.3 820.8 391.3 821.8 391.4 822.8 391.4 823.8 391.4 824.8 391.5 825.8 391.5 826.8 391.6 827.8 391.6 828.8 391.7 829.8 391.7 830.8 391.8 831.8 391.8 832.8 391.8 833.8 391.9 834.8 391.9 835.8 392.0 836.8 392.0 837.8 392.0 838.8 392.1 839.8 392.1 840.8 392.2 841.8 392.2 842.8 392.2 843.8 392.3 844.8 392.3 845.8 392.4 846.8 392.4 847.8 392.4 848.8 392.5 849.8 392.5 850.8 392.5 851.8 392.6 852.8 392.6 853.8 392.7 854.8 392.7 855.8 392.7 856.8 392.8 857.8 392.8 858.8 392.8 859.8 392.9 860.8 392.9 861.8 392.9 862.8 393.0 863.8 393.0 864.8 393.0 865.8 393.1 866.8 393.1 867.8 393.1 868.8 393.2 869.8 393.2 870.8 393.2 871.8 393.3 872.8 393.3 873.8 393.3 874.8 393.3 875.8 393.4 876.8 393.4 877.8 393.4 878.8 393.5 879.8 393.5 880.8 393.5 881.8 393.5 882.8 393.6 883.8 393.6 884.8 393.6 885.8 393.7 886.8 393.7 887.8 393.7 888.8 393.7 889.8 393.8 890.8 393.8 891.8 393.8 892.8 393.8 893.8 393.9 894.8 393.9 895.8 393.9 896.8 393.9 897.8 394.0 898.8 394.0 899.8 394.0 900.8 394.0 901.8 394.1 902.8 394.1 903.8 394.1 904.8 394.1 905.8 394.1 906.8 394.2 907.8 394.2 908.8 394.2 909.8 394.2 910.8 394.2 911.8 394.3 912.8 394.3 913.8 394.3 914.8 394.3 915.8 394.3 916.8 394.4 917.8 394.4 918.8 394.4 919.8 394.4 920.8 394.4 921.8 394.5 922.8 394.5 923.8 394.5 924.8 394.5 925.8 394.5 926.8 394.5 927.8 394.6 928.8 394.6 929.8 394.6 930.8 394.6 931.8 394.6 932.8 394.6 933.8 394.7 934.8 394.7 935.8 394.7 936.8 394.7 937.8 394.7 938.8 394.7 939.8 394.7 940.8 394.8 941.8 394.8 942.8 394.8 943.8 394.8 944.8 394.8 945.8 394.8 946.8 394.8 947.8 394.8 948.8 394.9 949.8 394.9 950.8 394.9 951.8 394.9 952.8 394.9 953.8 394.9 954.8 394.9 955.8 394.9 956.8 394.9 957.8 395.0 958.8 395.0 959.8 395.0 960.8 395.0 961.8 395.0 962.8 395.0 963.8 395.0 964.8 395.0 965.0 395.0" stroke="#000" stroke-width="2.6" fill="none"/>
<path d="M122.3 671V661.7M122.3 6.6V15.9M262.8 671V661.7M262.8 6.6V15.9M403.3 671V661.7M403.3 6.6V15.9M543.8 671V661.7M543.8 6.6V15.9M684.3 671V661.7M684.3 6.6V15.9M824.8 671V661.7M824.8 6.6V15.9M965.3 671V661.7M965.3 6.6V15.9M122.3 648.78h5.5M965.3 648.78h-5.5M122.3 635.78h5.5M965.3 635.78h-5.5M122.3 626.55h5.5M965.3 626.55h-5.5M122.3 619.4h5.5M965.3 619.4h-5.5M122.3 613.56h5.5M965.3 613.56h-5.5M122.3 608.61h5.5M965.3 608.61h-5.5M122.3 604.33h5.5M965.3 604.33h-5.5M122.3 600.56h5.5M965.3 600.56h-5.5M122.3 597.18h5.5M965.3 597.18h-5.5M122.3 574.96h5.5M965.3 574.96h-5.5M122.3 561.96h5.5M965.3 561.96h-5.5M122.3 552.73h5.5M965.3 552.73h-5.5M122.3 545.58h5.5M965.3 545.58h-5.5M122.3 539.73h5.5M965.3 539.73h-5.5M122.3 534.79h5.5M965.3 534.79h-5.5M122.3 530.51h5.5M965.3 530.51h-5.5M122.3 526.73h5.5M965.3 526.73h-5.5M122.3 523.36h9.3M965.3 523.36h-9.3M122.3 501.13h5.5M965.3 501.13h-5.5M122.3 488.13h5.5M965.3 488.13h-5.5M122.3 478.91h5.5M965.3 478.91h-5.5M122.3 471.76h5.5M965.3 471.76h-5.5M122.3 465.91h5.5M965.3 465.91h-5.5M122.3 460.97h5.5M965.3 460.97h-5.5M122.3 456.69h5.5M965.3 456.69h-5.5M122.3 452.91h5.5M965.3 452.91h-5.5M122.3 449.53h5.5M965.3 449.53h-5.5M122.3 427.31h5.5M965.3 427.31h-5.5M122.3 414.31h5.5M965.3 414.31h-5.5M122.3 405.09h5.5M965.3 405.09h-5.5M122.3 397.93h5.5M965.3 397.93h-5.5M122.3 392.09h5.5M965.3 392.09h-5.5M122.3 387.15h5.5M965.3 387.15h-5.5M122.3 382.87h5.5M965.3 382.87h-5.5M122.3 379.09h5.5M965.3 379.09h-5.5M122.3 375.71h9.3M965.3 375.71h-9.3M122.3 353.49h5.5M965.3 353.49h-5.5M122.3 340.49h5.5M965.3 340.49h-5.5M122.3 331.27h5.5M965.3 331.27h-5.5M122.3 324.11h5.5M965.3 324.11h-5.5M122.3 318.27h5.5M965.3 318.27h-5.5M122.3 313.32h5.5M965.3 313.32h-5.5M122.3 309.04h5.5M965.3 309.04h-5.5M122.3 305.27h5.5M965.3 305.27h-5.5M122.3 301.89h5.5M965.3 301.89h-5.5M122.3 279.67h5.5M965.3 279.67h-5.5M122.3 266.67h5.5M965.3 266.67h-5.5M122.3 257.44h5.5M965.3 257.44h-5.5M122.3 250.29h5.5M965.3 250.29h-5.5M122.3 244.44h5.5M965.3 244.44h-5.5M122.3 239.5h5.5M965.3 239.5h-5.5M122.3 235.22h5.5M965.3 235.22h-5.5M122.3 231.44h5.5M965.3 231.44h-5.5M122.3 228.07h9.3M965.3 228.07h-9.3M122.3 205.84h5.5M965.3 205.84h-5.5M122.3 192.84h5.5M965.3 192.84h-5.5M122.3 183.62h5.5M965.3 183.62h-5.5M122.3 176.47h5.5M965.3 176.47h-5.5M122.3 170.62h5.5M965.3 170.62h-5.5M122.3 165.68h5.5M965.3 165.68h-5.5M122.3 161.4h5.5M965.3 161.4h-5.5M122.3 157.62h5.5M965.3 157.62h-5.5M122.3 154.24h5.5M965.3 154.24h-5.5M122.3 132.02h5.5M965.3 132.02h-5.5M122.3 119.02h5.5M965.3 119.02h-5.5M122.3 109.8h5.5M965.3 109.8h-5.5M122.3 102.64h5.5M965.3 102.64h-5.5M122.3 96.8h5.5M965.3 96.8h-5.5M122.3 91.86h5.5M965.3 91.86h-5.5M122.3 87.58h5.5M965.3 87.58h-5.5M122.3 83.8h5.5M965.3 83.8h-5.5M122.3 80.42h9.3M965.3 80.42h-9.3M122.3 58.2h5.5M965.3 58.2h-5.5M122.3 45.2h5.5M965.3 45.2h-5.5M122.3 35.98h5.5M965.3 35.98h-5.5M122.3 28.82h5.5M965.3 28.82h-5.5M122.3 22.98h5.5M965.3 22.98h-5.5M122.3 18.04h5.5M965.3 18.04h-5.5M122.3 13.75h5.5M965.3 13.75h-5.5M122.3 9.98h5.5M965.3 9.98h-5.5" stroke="#262626" stroke-width="2.5" fill="none"/>
<rect x="122.3" y="6.6" width="843" height="664.4" stroke="#262626" stroke-width="2.8" fill="none"/>
<path d="M149.5 1100V1110M143.5 1100h12M143.5 1110h12M152.25 1132.86V1137.86M146.25 1132.86h12M146.25 1137.86h12M153.61 1137.44V1142.44M147.61 1137.44h12M147.61 1142.44h12M155.04 1143.53V1148.53M149.04 1143.53h12M149.04 1148.53h12M156.53 1150.88V1155.88M150.53 1150.88h12M150.53 1155.88h12M158.08 1157.25V1162.25M152.08 1157.25h12M152.08 1162.25h12M159.71 1161.86V1166.86M153.71 1161.86h12M153.71 1166.86h12M161.4 1167.94V1172.94M155.4 1167.94h12M155.4 1172.94h12M163.16 1172.61V1177.61M157.16 1172.61h12M157.16 1177.61h12M165.01 1176.38V1181.38M159.01 1176.38h12M159.01 1181.38h12M166.93 1182.2V1187.2M160.93 1182.2h12M160.93 1187.2h12M168.94 1185.51V1190.51M162.94 1185.51h12M162.94 1190.51h12M171.03 1189.26V1194.26M165.03 1189.26h12M165.03 1194.26h12M173.22 1194.61V1199.61M167.22 1194.61h12M167.22 1199.61h12M175.5 1198.34V1203.34M169.5 1198.34h12M169.5 1203.34h12M177.88 1202.21V1207.21M171.88 1202.21h12M171.88 1207.21h12M180.36 1204.95V1209.95M174.36 1204.95h12M174.36 1209.95h12M182.95 1211.52V1216.52M176.95 1211.52h12M176.95 1216.52h12M185.65 1215.6V1220.6M179.65 1215.6h12M179.65 1220.6h12M188.47 1218.6V1223.6M182.47 1218.6h12M182.47 1223.6h12M191.42 1223.04V1228.04M185.42 1223.04h12M185.42 1228.04h12M194.49 1226.57V1231.57M188.49 1226.57h12M188.49 1231.57h12M197.69 1231.06V1236.06M191.69 1231.06h12M191.69 1236.06h12M201.04 1235.3V1240.3M195.04 1235.3h12M195.04 1240.3h12M204.53 1237.96V1242.96M198.53 1237.96h12M198.53 1242.96h12M208.17 1241.8V1246.8M202.17 1241.8h12M202.17 1246.8h12M211.97 1248.46V1253.46M205.97 1248.46h12M205.97 1253.46h12M215.94 1253.03V1258.03M209.94 1253.03h12M209.94 1258.03h12M220.08 1256.52V1261.52M214.08 1256.52h12M214.08 1261.52h12M224.4 1261.93V1266.93M218.4 1261.93h12M218.4 1266.93h12M228.9 1265.52V1270.52M222.9 1265.52h12M222.9 1270.52h12M233.6 1270.45V1275.45M227.6 1270.45h12M227.6 1275.45h12M238.51 1275.08V1280.08M232.51 1275.08h12M232.51 1280.08h12M243.63 1278.61V1283.61M237.63 1278.61h12M237.63 1283.61h12M248.98 1285.04V1290.04M242.98 1285.04h12M242.98 1290.04h12M254.55 1290.14V1295.14M248.55 1290.14h12M248.55 1295.14h12M260.37 1295.19V1300.19M254.37 1295.19h12M254.37 1300.19h12M266.44 1298V1303M260.44 1298h12M260.44 1303h12M272.78 1302.21V1307.21M266.78 1302.21h12M266.78 1307.21h12M279.39 1309.48V1314.48M273.39 1309.48h12M273.39 1314.48h12M286.29 1313.11V1318.11M280.29 1313.11h12M280.29 1318.11h12M293.48 1316.84V1321.84M287.48 1316.84h12M287.48 1321.84h12M301 1322.03V1327.03M295 1322.03h12M295 1327.03h12M308.83 1328.77V1333.77M302.83 1328.77h12M302.83 1333.77h12M317.01 1333.09V1338.09M311.01 1333.09h12M311.01 1338.09h12M325.55 1335.71V1340.71M319.55 1335.71h12M319.55 1340.71h12M334.46 1341.42V1346.42M328.46 1341.42h12M328.46 1346.42h12M230.27 1266.34V1271.34M224.27 1266.34h12M224.27 1271.34h12M232.23 1265.2V1270.2M226.23 1265.2h12M226.23 1270.2h12M234.21 1270.41V1275.41M228.21 1270.41h12M228.21 1275.41h12M236.24 1271.1V1276.1M230.24 1271.1h12M230.24 1276.1h12M238.3 1274.19V1279.19M232.3 1274.19h12M232.3 1279.19h12M240.39 1274.04V1279.04M234.39 1274.04h12M234.39 1279.04h12M242.53 1278.35V1283.35M236.53 1278.35h12M236.53 1283.35h12M244.7 1277.38V1282.38M238.7 1277.38h12M238.7 1282.38h12M246.91 1280.28V1285.28M240.91 1280.28h12M240.91 1285.28h12M249.17 1281.73V1286.73M243.17 1281.73h12M243.17 1286.73h12M251.46 1284.6V1289.6M245.46 1284.6h12M245.46 1289.6h12M253.79 1286.54V1291.54M247.79 1286.54h12M247.79 1291.54h12M256.17 1290.21V1295.21M250.17 1290.21h12M250.17 1295.21h12M258.59 1289.92V1294.92M252.59 1289.92h12M252.59 1294.92h12M261.05 1292.33V1297.33M255.05 1292.33h12M255.05 1297.33h12M263.56 1294.32V1299.32M257.56 1294.32h12M257.56 1299.32h12M261.7 1274V1281M255.7 1274h12M255.7 1281h12M341.3 1340.2V1347.2M335.3 1340.2h12M335.3 1347.2h12M351.9 1345.5V1352.5M345.9 1345.5h12M345.9 1352.5h12M362.4 1350.7V1357.7M356.4 1350.7h12M356.4 1357.7h12M373 1356V1363M367 1356h12M367 1363h12M384.9 1362.6V1369.6M378.9 1362.6h12M378.9 1369.6h12M396.8 1363.9V1370.9M390.8 1363.9h12M390.8 1370.9h12M408.1 1370.5V1377.5M402.1 1370.5h12M402.1 1377.5h12M420.5 1375V1382M414.5 1375h12M414.5 1382h12M432.9 1379.8V1386.8M426.9 1379.8h12M426.9 1386.8h12M446.1 1384.3V1391.3M440.1 1384.3h12M440.1 1391.3h12M460.6 1392.2V1399.2M454.6 1392.2h12M454.6 1399.2h12M475.2 1391.7V1398.7M469.2 1391.7h12M469.2 1398.7h12M490.5 1399.6V1406.6M484.5 1399.6h12M484.5 1406.6h12M506.3 1407.5V1414.5M500.3 1407.5h12M500.3 1414.5h12M523.5 1406.7V1413.7M517.5 1406.7h12M517.5 1413.7h12M541.2 1412V1419M535.2 1412h12M535.2 1419h12M559.6 1417.3V1424.3M553.6 1417.3h12M553.6 1424.3h12M579.7 1424.7V1431.7M573.7 1424.7h12M573.7 1431.7h12M601.8 1432.3V1439.3M595.8 1432.3h12M595.8 1439.3h12M624.5 1433.3V1440.3M618.5 1433.3h12M618.5 1440.3h12M648.3 1441.4V1448.4M642.3 1441.4h12M642.3 1448.4h12M674.3 1452.6V1459.6M668.3 1452.6h12M668.3 1459.6h12M702.9 1463.8V1470.8M696.9 1463.8h12M696.9 1470.8h12M732.7 1463.8V1470.8M726.7 1463.8h12M726.7 1470.8h12M763.6 1466.8V1473.8M757.6 1466.8h12M757.6 1473.8h12M797.4 1470.3V1477.3M791.4 1470.3h12M791.4 1477.3h12M834.7 1472.4V1479.4M828.7 1472.4h12M828.7 1479.4h12M873.5 1477.6V1492M867.5 1477.6h12M867.5 1492h12M957.9 1472V1488.7M951.9 1472h12M951.9 1488.7h12" stroke="#0072BD" stroke-width="1.1" stroke-opacity="0.85" fill="none"/><path d="M140 1106.2a9.5 9.5 0 1 0 19 0a9.5 9.5 0 1 0 -19 0M142.75 1135.36a9.5 9.5 0 1 0 19 0a9.5 9.5 0 1 0 -19 0M144.11 1139.94a9.5 9.5 0 1 0 19 0a9.5 9.5 0 1 0 -19 0M145.54 1146.03a9.5 9.5 0 1 0 19 0a9.5 9.5 0 1 0 -19 0M147.03 1153.38a9.5 9.5 0 1 0 19 0a9.5 9.5 0 1 0 -19 0M148.58 1159.75a9.5 9.5 0 1 0 19 0a9.5 9.5 0 1 0 -19 0M150.21 1164.36a9.5 9.5 0 1 0 19 0a9.5 9.5 0 1 0 -19 0M151.9 1170.44a9.5 9.5 0 1 0 19 0a9.5 9.5 0 1 0 -19 0M153.66 1175.11a9.5 9.5 0 1 0 19 0a9.5 9.5 0 1 0 -19 0M155.51 1178.88a9.5 9.5 0 1 0 19 0a9.5 9.5 0 1 0 -19 0M157.43 1184.7a9.5 9.5 0 1 0 19 0a9.5 9.5 0 1 0 -19 0M159.44 1188.01a9.5 9.5 0 1 0 19 0a9.5 9.5 0 1 0 -19 0M161.53 1191.76a9.5 9.5 0 1 0 19 0a9.5 9.5 0 1 0 -19 0M163.72 1197.11a9.5 9.5 0 1 0 19 0a9.5 9.5 0 1 0 -19 0M166 1200.84a9.5 9.5 0 1 0 19 0a9.5 9.5 0 1 0 -19 0M168.38 1204.71a9.5 9.5 0 1 0 19 0a9.5 9.5 0 1 0 -19 0M170.86 1207.45a9.5 9.5 0 1 0 19 0a9.5 9.5 0 1 0 -19 0M173.45 1214.02a9.5 9.5 0 1 0 19 0a9.5 9.5 0 1 0 -19 0M176.15 1218.1a9.5 9.5 0 1 0 19 0a9.5 9.5 0 1 0 -19 0M178.97 1221.1a9.5 9.5 0 1 0 19 0a9.5 9.5 0 1 0 -19 0M181.92 1225.54a9.5 9.5 0 1 0 19 0a9.5 9.5 0 1 0 -19 0M184.99 1229.07a9.5 9.5 0 1 0 19 0a9.5 9.5 0 1 0 -19 0M188.19 1233.56a9.5 9.5 0 1 0 19 0a9.5 9.5 0 1 0 -19 0M191.54 1237.8a9.5 9.5 0 1 0 19 0a9.5 9.5 0 1 0 -19 0M195.03 1240.46a9.5 9.5 0 1 0 19 0a9.5 9.5 0 1 0 -19 0M198.67 1244.3a9.5 9.5 0 1 0 19 0a9.5 9.5 0 1 0 -19 0M202.47 1250.96a9.5 9.5 0 1 0 19 0a9.5 9.5 0 1 0 -19 0M206.44 1255.53a9.5 9.5 0 1 0 19 0a9.5 9.5 0 1 0 -19 0M210.58 1259.02a9.5 9.5 0 1 0 19 0a9.5 9.5 0 1 0 -19 0M214.9 1264.43a9.5 9.5 0 1 0 19 0a9.5 9.5 0 1 0 -19 0M219.4 1268.02a9.5 9.5 0 1 0 19 0a9.5 9.5 0 1 0 -19 0M224.1 1272.95a9.5 9.5 0 1 0 19 0a9.5 9.5 0 1 0 -19 0M229.01 1277.58a9.5 9.5 0 1 0 19 0a9.5 9.5 0 1 0 -19 0M234.13 1281.11a9.5 9.5 0 1 0 19 0a9.5 9.5 0 1 0 -19 0M239.48 1287.54a9.5 9.5 0 1 0 19 0a9.5 9.5 0 1 0 -19 0M245.05 1292.64a9.5 9.5 0 1 0 19 0a9.5 9.5 0 1 0 -19 0M250.87 1297.69a9.5 9.5 0 1 0 19 0a9.5 9.5 0 1 0 -19 0M256.94 1300.5a9.5 9.5 0 1 0 19 0a9.5 9.5 0 1 0 -19 0M263.28 1304.71a9.5 9.5 0 1 0 19 0a9.5 9.5 0 1 0 -19 0M269.89 1311.98a9.5 9.5 0 1 0 19 0a9.5 9.5 0 1 0 -19 0M276.79 1315.61a9.5 9.5 0 1 0 19 0a9.5 9.5 0 1 0 -19 0M283.98 1319.34a9.5 9.5 0 1 0 19 0a9.5 9.5 0 1 0 -19 0M291.5 1324.53a9.5 9.5 0 1 0 19 0a9.5 9.5 0 1 0 -19 0M299.33 1331.27a9.5 9.5 0 1 0 19 0a9.5 9.5 0 1 0 -19 0M307.51 1335.59a9.5 9.5 0 1 0 19 0a9.5 9.5 0 1 0 -19 0M316.05 1338.21a9.5 9.5 0 1 0 19 0a9.5 9.5 0 1 0 -19 0M324.96 1343.92a9.5 9.5 0 1 0 19 0a9.5 9.5 0 1 0 -19 0M220.77 1268.84a9.5 9.5 0 1 0 19 0a9.5 9.5 0 1 0 -19 0M222.73 1267.7a9.5 9.5 0 1 0 19 0a9.5 9.5 0 1 0 -19 0M224.71 1272.91a9.5 9.5 0 1 0 19 0a9.5 9.5 0 1 0 -19 0M226.74 1273.6a9.5 9.5 0 1 0 19 0a9.5 9.5 0 1 0 -19 0M228.8 1276.69a9.5 9.5 0 1 0 19 0a9.5 9.5 0 1 0 -19 0M230.89 1276.54a9.5 9.5 0 1 0 19 0a9.5 9.5 0 1 0 -19 0M233.03 1280.85a9.5 9.5 0 1 0 19 0a9.5 9.5 0 1 0 -19 0M235.2 1279.88a9.5 9.5 0 1 0 19 0a9.5 9.5 0 1 0 -19 0M237.41 1282.78a9.5 9.5 0 1 0 19 0a9.5 9.5 0 1 0 -19 0M239.67 1284.23a9.5 9.5 0 1 0 19 0a9.5 9.5 0 1 0 -19 0M241.96 1287.1a9.5 9.5 0 1 0 19 0a9.5 9.5 0 1 0 -19 0M244.29 1289.04a9.5 9.5 0 1 0 19 0a9.5 9.5 0 1 0 -19 0M246.67 1292.71a9.5 9.5 0 1 0 19 0a9.5 9.5 0 1 0 -19 0M249.09 1292.42a9.5 9.5 0 1 0 19 0a9.5 9.5 0 1 0 -19 0M251.55 1294.83a9.5 9.5 0 1 0 19 0a9.5 9.5 0 1 0 -19 0M254.06 1296.82a9.5 9.5 0 1 0 19 0a9.5 9.5 0 1 0 -19 0M252.2 1277.5a9.5 9.5 0 1 0 19 0a9.5 9.5 0 1 0 -19 0M331.8 1343.7a9.5 9.5 0 1 0 19 0a9.5 9.5 0 1 0 -19 0M342.4 1349a9.5 9.5 0 1 0 19 0a9.5 9.5 0 1 0 -19 0M352.9 1354.2a9.5 9.5 0 1 0 19 0a9.5 9.5 0 1 0 -19 0M363.5 1359.5a9.5 9.5 0 1 0 19 0a9.5 9.5 0 1 0 -19 0M375.4 1366.1a9.5 9.5 0 1 0 19 0a9.5 9.5 0 1 0 -19 0M387.3 1367.4a9.5 9.5 0 1 0 19 0a9.5 9.5 0 1 0 -19 0M398.6 1374a9.5 9.5 0 1 0 19 0a9.5 9.5 0 1 0 -19 0M411 1378.5a9.5 9.5 0 1 0 19 0a9.5 9.5 0 1 0 -19 0M423.4 1383.3a9.5 9.5 0 1 0 19 0a9.5 9.5 0 1 0 -19 0M436.6 1387.8a9.5 9.5 0 1 0 19 0a9.5 9.5 0 1 0 -19 0M451.1 1395.7a9.5 9.5 0 1 0 19 0a9.5 9.5 0 1 0 -19 0M465.7 1395.2a9.5 9.5 0 1 0 19 0a9.5 9.5 0 1 0 -19 0M481 1403.1a9.5 9.5 0 1 0 19 0a9.5 9.5 0 1 0 -19 0M496.8 1411a9.5 9.5 0 1 0 19 0a9.5 9.5 0 1 0 -19 0M514 1410.2a9.5 9.5 0 1 0 19 0a9.5 9.5 0 1 0 -19 0M531.7 1415.5a9.5 9.5 0 1 0 19 0a9.5 9.5 0 1 0 -19 0M550.1 1420.8a9.5 9.5 0 1 0 19 0a9.5 9.5 0 1 0 -19 0M570.2 1428.2a9.5 9.5 0 1 0 19 0a9.5 9.5 0 1 0 -19 0M592.3 1435.8a9.5 9.5 0 1 0 19 0a9.5 9.5 0 1 0 -19 0M615 1436.8a9.5 9.5 0 1 0 19 0a9.5 9.5 0 1 0 -19 0M638.8 1444.9a9.5 9.5 0 1 0 19 0a9.5 9.5 0 1 0 -19 0M664.8 1456.1a9.5 9.5 0 1 0 19 0a9.5 9.5 0 1 0 -19 0M693.4 1467.3a9.5 9.5 0 1 0 19 0a9.5 9.5 0 1 0 -19 0M723.2 1467.3a9.5 9.5 0 1 0 19 0a9.5 9.5 0 1 0 -19 0M754.1 1470.3a9.5 9.5 0 1 0 19 0a9.5 9.5 0 1 0 -19 0M787.9 1473.8a9.5 9.5 0 1 0 19 0a9.5 9.5 0 1 0 -19 0M825.2 1475.9a9.5 9.5 0 1 0 19 0a9.5 9.5 0 1 0 -19 0M864 1487.6a9.5 9.5 0 1 0 19 0a9.5 9.5 0 1 0 -19 0M948.4 1477.6a9.5 9.5 0 1 0 19 0a9.5 9.5 0 1 0 -19 0" stroke="#0072BD" stroke-width="1.4" fill="none"/>
<path d="M148.47 990.48V995.48M142.47 990.48h12M142.47 995.48h12M149.68 993.97V998.97M143.68 993.97h12M143.68 998.97h12M150.93 995.99V1000.99M144.93 995.99h12M144.93 1000.99h12M152.25 1000.66V1005.66M146.25 1000.66h12M146.25 1005.66h12M153.61 1008.08V1013.08M147.61 1008.08h12M147.61 1013.08h12M155.04 1011.14V1016.14M149.04 1011.14h12M149.04 1016.14h12M156.53 1017.14V1022.14M150.53 1017.14h12M150.53 1022.14h12M158.08 1022.44V1027.44M152.08 1022.44h12M152.08 1027.44h12M159.71 1029.78V1034.78M153.71 1029.78h12M153.71 1034.78h12M161.4 1034.85V1039.85M155.4 1034.85h12M155.4 1039.85h12M163.16 1041.67V1046.67M157.16 1041.67h12M157.16 1046.67h12M165.01 1047.84V1052.84M159.01 1047.84h12M159.01 1052.84h12M166.93 1053.22V1058.22M160.93 1053.22h12M160.93 1058.22h12M168.94 1059.49V1064.49M162.94 1059.49h12M162.94 1064.49h12M171.03 1063.95V1068.95M165.03 1063.95h12M165.03 1068.95h12M173.22 1070.44V1075.44M167.22 1070.44h12M167.22 1075.44h12M175.5 1074.17V1079.17M169.5 1074.17h12M169.5 1079.17h12M177.88 1080.95V1085.95M171.88 1080.95h12M171.88 1085.95h12M180.36 1085.26V1090.26M174.36 1085.26h12M174.36 1090.26h12M182.95 1090.82V1095.82M176.95 1090.82h12M176.95 1095.82h12M185.65 1094.42V1099.42M179.65 1094.42h12M179.65 1099.42h12M188.47 1099.92V1104.92M182.47 1099.92h12M182.47 1104.92h12M191.42 1102.39V1107.39M185.42 1102.39h12M185.42 1107.39h12M194.49 1106.85V1111.85M188.49 1106.85h12M188.49 1111.85h12M197.69 1112.57V1117.57M191.69 1112.57h12M191.69 1117.57h12M201.04 1115.41V1120.41M195.04 1115.41h12M195.04 1120.41h12M204.53 1122.41V1127.41M198.53 1122.41h12M198.53 1127.41h12M208.17 1126.7V1131.7M202.17 1126.7h12M202.17 1131.7h12M211.97 1131.47V1136.47M205.97 1131.47h12M205.97 1136.47h12M215.94 1134.47V1139.47M209.94 1134.47h12M209.94 1139.47h12M220.08 1139.65V1144.65M214.08 1139.65h12M214.08 1144.65h12M224.4 1145.51V1150.51M218.4 1145.51h12M218.4 1150.51h12M228.9 1150.49V1155.49M222.9 1150.49h12M222.9 1155.49h12M233.6 1155.34V1160.34M227.6 1155.34h12M227.6 1160.34h12M238.51 1159.62V1164.62M232.51 1159.62h12M232.51 1164.62h12M243.63 1165.36V1170.36M237.63 1165.36h12M237.63 1170.36h12M248.98 1172.88V1177.88M242.98 1172.88h12M242.98 1177.88h12M254.55 1178.38V1183.38M248.55 1178.38h12M248.55 1183.38h12M260.37 1181.34V1186.34M254.37 1181.34h12M254.37 1186.34h12M266.44 1189.09V1194.09M260.44 1189.09h12M260.44 1194.09h12M272.78 1192.71V1197.71M266.78 1192.71h12M266.78 1197.71h12M279.39 1198.12V1203.12M273.39 1198.12h12M273.39 1203.12h12M286.29 1205.12V1210.12M280.29 1205.12h12M280.29 1210.12h12M293.48 1208.96V1213.96M287.48 1208.96h12M287.48 1213.96h12M301 1216.57V1221.57M295 1216.57h12M295 1221.57h12M308.83 1221.38V1226.38M302.83 1221.38h12M302.83 1226.38h12M317.01 1224.81V1229.81M311.01 1224.81h12M311.01 1229.81h12M325.55 1230.48V1235.48M319.55 1230.48h12M319.55 1235.48h12M334.46 1237.28V1242.28M328.46 1237.28h12M328.46 1242.28h12M232.19 1152.93V1157.93M226.19 1152.93h12M226.19 1157.93h12M234.18 1153.28V1158.28M228.18 1153.28h12M228.18 1158.28h12M236.2 1155.24V1160.24M230.2 1155.24h12M230.2 1160.24h12M238.26 1160.79V1165.79M232.26 1160.79h12M232.26 1165.79h12M240.36 1159.34V1164.34M234.36 1159.34h12M234.36 1164.34h12M242.49 1163.7V1168.7M236.49 1163.7h12M236.49 1168.7h12M244.66 1167.18V1172.18M238.66 1167.18h12M238.66 1172.18h12M246.87 1167.12V1172.12M240.87 1167.12h12M240.87 1172.12h12M249.12 1171.06V1176.06M243.12 1171.06h12M243.12 1176.06h12M251.42 1171.53V1176.53M245.42 1171.53h12M245.42 1176.53h12M253.75 1174.21V1179.21M247.75 1174.21h12M247.75 1179.21h12M256.13 1178.51V1183.51M250.13 1178.51h12M250.13 1183.51h12M258.54 1181.01V1186.01M252.54 1181.01h12M252.54 1186.01h12M261 1181.65V1186.65M255 1181.65h12M255 1186.65h12M263.51 1185.02V1190.02M257.51 1185.02h12M257.51 1190.02h12M341.3 1235.9V1242.9M335.3 1235.9h12M335.3 1242.9h12M351.9 1243.8V1250.8M345.9 1243.8h12M345.9 1250.8h12M363.8 1247.8V1254.8M357.8 1247.8h12M357.8 1254.8h12M373 1255.7V1262.7M367 1255.7h12M367 1262.7h12M384.9 1258.9V1265.9M378.9 1258.9h12M378.9 1265.9h12M396.8 1263.6V1270.6M390.8 1263.6h12M390.8 1270.6h12M407.8 1266.3V1273.3M401.8 1266.3h12M401.8 1273.3h12M420.5 1270.7V1277.7M414.5 1270.7h12M414.5 1277.7h12M432.9 1275.5V1282.5M426.9 1275.5h12M426.9 1282.5h12M446.1 1283.4V1290.4M440.1 1283.4h12M440.1 1290.4h12M460.6 1283.4V1290.4M454.6 1283.4h12M454.6 1290.4h12M475.2 1288.7V1295.7M469.2 1288.7h12M469.2 1295.7h12M490.5 1294V1301M484.5 1294h12M484.5 1301h12M506.3 1300.6V1307.6M500.3 1300.6h12M500.3 1307.6h12M523.5 1303.2V1310.2M517.5 1303.2h12M517.5 1310.2h12M541.2 1307.2V1314.2M535.2 1307.2h12M535.2 1314.2h12M559.6 1312.5V1319.5M553.6 1312.5h12M553.6 1319.5h12M579.7 1319.1V1326.1M573.7 1319.1h12M573.7 1326.1h12M601.8 1324.7V1331.7M595.8 1324.7h12M595.8 1331.7h12M624.5 1335.8V1342.8M618.5 1335.8h12M618.5 1342.8h12M648.3 1338.9V1345.9M642.3 1338.9h12M642.3 1345.9h12M674.3 1343.6V1350.6M668.3 1343.6h12M668.3 1350.6h12M702.9 1345V1352M696.9 1345h12M696.9 1352h12M732.7 1350.5V1357.5M726.7 1350.5h12M726.7 1357.5h12M763.6 1378V1395.8M757.6 1378h12M757.6 1395.8h12M797.4 1375.7V1399.1M791.4 1375.7h12M791.4 1399.1h12M834.7 1390V1420.5M828.7 1390h12M828.7 1420.5h12M873.5 1380V1416.8M867.5 1380h12M867.5 1416.8h12M913.6 1375V1408.7M907.6 1375h12M907.6 1408.7h12M957.9 1380V1424.7M951.9 1380h12M951.9 1424.7h12" stroke="#A2142F" stroke-width="1.1" stroke-opacity="0.85" fill="none"/><path d="M138.97 992.98a9.5 9.5 0 1 0 19 0a9.5 9.5 0 1 0 -19 0M140.18 996.47a9.5 9.5 0 1 0 19 0a9.5 9.5 0 1 0 -19 0M141.43 998.49a9.5 9.5 0 1 0 19 0a9.5 9.5 0 1 0 -19 0M142.75 1003.16a9.5 9.5 0 1 0 19 0a9.5 9.5 0 1 0 -19 0M144.11 1010.58a9.5 9.5 0 1 0 19 0a9.5 9.5 0 1 0 -19 0M145.54 1013.64a9.5 9.5 0 1 0 19 0a9.5 9.5 0 1 0 -19 0M147.03 1019.64a9.5 9.5 0 1 0 19 0a9.5 9.5 0 1 0 -19 0M148.58 1024.94a9.5 9.5 0 1 0 19 0a9.5 9.5 0 1 0 -19 0M150.21 1032.28a9.5 9.5 0 1 0 19 0a9.5 9.5 0 1 0 -19 0M151.9 1037.35a9.5 9.5 0 1 0 19 0a9.5 9.5 0 1 0 -19 0M153.66 1044.17a9.5 9.5 0 1 0 19 0a9.5 9.5 0 1 0 -19 0M155.51 1050.34a9.5 9.5 0 1 0 19 0a9.5 9.5 0 1 0 -19 0M157.43 1055.72a9.5 9.5 0 1 0 19 0a9.5 9.5 0 1 0 -19 0M159.44 1061.99a9.5 9.5 0 1 0 19 0a9.5 9.5 0 1 0 -19 0M161.53 1066.45a9.5 9.5 0 1 0 19 0a9.5 9.5 0 1 0 -19 0M163.72 1072.94a9.5 9.5 0 1 0 19 0a9.5 9.5 0 1 0 -19 0M166 1076.67a9.5 9.5 0 1 0 19 0a9.5 9.5 0 1 0 -19 0M168.38 1083.45a9.5 9.5 0 1 0 19 0a9.5 9.5 0 1 0 -19 0M170.86 1087.76a9.5 9.5 0 1 0 19 0a9.5 9.5 0 1 0 -19 0M173.45 1093.32a9.5 9.5 0 1 0 19 0a9.5 9.5 0 1 0 -19 0M176.15 1096.92a9.5 9.5 0 1 0 19 0a9.5 9.5 0 1 0 -19 0M178.97 1102.42a9.5 9.5 0 1 0 19 0a9.5 9.5 0 1 0 -19 0M181.92 1104.89a9.5 9.5 0 1 0 19 0a9.5 9.5 0 1 0 -19 0M184.99 1109.35a9.5 9.5 0 1 0 19 0a9.5 9.5 0 1 0 -19 0M188.19 1115.07a9.5 9.5 0 1 0 19 0a9.5 9.5 0 1 0 -19 0M191.54 1117.91a9.5 9.5 0 1 0 19 0a9.5 9.5 0 1 0 -19 0M195.03 1124.91a9.5 9.5 0 1 0 19 0a9.5 9.5 0 1 0 -19 0M198.67 1129.2a9.5 9.5 0 1 0 19 0a9.5 9.5 0 1 0 -19 0M202.47 1133.97a9.5 9.5 0 1 0 19 0a9.5 9.5 0 1 0 -19 0M206.44 1136.97a9.5 9.5 0 1 0 19 0a9.5 9.5 0 1 0 -19 0M210.58 1142.15a9.5 9.5 0 1 0 19 0a9.5 9.5 0 1 0 -19 0M214.9 1148.01a9.5 9.5 0 1 0 19 0a9.5 9.5 0 1 0 -19 0M219.4 1152.99a9.5 9.5 0 1 0 19 0a9.5 9.5 0 1 0 -19 0M224.1 1157.84a9.5 9.5 0 1 0 19 0a9.5 9.5 0 1 0 -19 0M229.01 1162.12a9.5 9.5 0 1 0 19 0a9.5 9.5 0 1 0 -19 0M234.13 1167.86a9.5 9.5 0 1 0 19 0a9.5 9.5 0 1 0 -19 0M239.48 1175.38a9.5 9.5 0 1 0 19 0a9.5 9.5 0 1 0 -19 0M245.05 1180.88a9.5 9.5 0 1 0 19 0a9.5 9.5 0 1 0 -19 0M250.87 1183.84a9.5 9.5 0 1 0 19 0a9.5 9.5 0 1 0 -19 0M256.94 1191.59a9.5 9.5 0 1 0 19 0a9.5 9.5 0 1 0 -19 0M263.28 1195.21a9.5 9.5 0 1 0 19 0a9.5 9.5 0 1 0 -19 0M269.89 1200.62a9.5 9.5 0 1 0 19 0a9.5 9.5 0 1 0 -19 0M276.79 1207.62a9.5 9.5 0 1 0 19 0a9.5 9.5 0 1 0 -19 0M283.98 1211.46a9.5 9.5 0 1 0 19 0a9.5 9.5 0 1 0 -19 0M291.5 1219.07a9.5 9.5 0 1 0 19 0a9.5 9.5 0 1 0 -19 0M299.33 1223.88a9.5 9.5 0 1 0 19 0a9.5 9.5 0 1 0 -19 0M307.51 1227.31a9.5 9.5 0 1 0 19 0a9.5 9.5 0 1 0 -19 0M316.05 1232.98a9.5 9.5 0 1 0 19 0a9.5 9.5 0 1 0 -19 0M324.96 1239.78a9.5 9.5 0 1 0 19 0a9.5 9.5 0 1 0 -19 0M222.69 1155.43a9.5 9.5 0 1 0 19 0a9.5 9.5 0 1 0 -19 0M224.68 1155.78a9.5 9.5 0 1 0 19 0a9.5 9.5 0 1 0 -19 0M226.7 1157.74a9.5 9.5 0 1 0 19 0a9.5 9.5 0 1 0 -19 0M228.76 1163.29a9.5 9.5 0 1 0 19 0a9.5 9.5 0 1 0 -19 0M230.86 1161.84a9.5 9.5 0 1 0 19 0a9.5 9.5 0 1 0 -19 0M232.99 1166.2a9.5 9.5 0 1 0 19 0a9.5 9.5 0 1 0 -19 0M235.16 1169.68a9.5 9.5 0 1 0 19 0a9.5 9.5 0 1 0 -19 0M237.37 1169.62a9.5 9.5 0 1 0 19 0a9.5 9.5 0 1 0 -19 0M239.62 1173.56a9.5 9.5 0 1 0 19 0a9.5 9.5 0 1 0 -19 0M241.92 1174.03a9.5 9.5 0 1 0 19 0a9.5 9.5 0 1 0 -19 0M244.25 1176.71a9.5 9.5 0 1 0 19 0a9.5 9.5 0 1 0 -19 0M246.63 1181.01a9.5 9.5 0 1 0 19 0a9.5 9.5 0 1 0 -19 0M249.04 1183.51a9.5 9.5 0 1 0 19 0a9.5 9.5 0 1 0 -19 0M251.5 1184.15a9.5 9.5 0 1 0 19 0a9.5 9.5 0 1 0 -19 0M254.01 1187.52a9.5 9.5 0 1 0 19 0a9.5 9.5 0 1 0 -19 0M331.8 1239.4a9.5 9.5 0 1 0 19 0a9.5 9.5 0 1 0 -19 0M342.4 1247.3a9.5 9.5 0 1 0 19 0a9.5 9.5 0 1 0 -19 0M354.3 1251.3a9.5 9.5 0 1 0 19 0a9.5 9.5 0 1 0 -19 0M363.5 1259.2a9.5 9.5 0 1 0 19 0a9.5 9.5 0 1 0 -19 0M375.4 1262.4a9.5 9.5 0 1 0 19 0a9.5 9.5 0 1 0 -19 0M387.3 1267.1a9.5 9.5 0 1 0 19 0a9.5 9.5 0 1 0 -19 0M398.3 1269.8a9.5 9.5 0 1 0 19 0a9.5 9.5 0 1 0 -19 0M411 1274.2a9.5 9.5 0 1 0 19 0a9.5 9.5 0 1 0 -19 0M423.4 1279a9.5 9.5 0 1 0 19 0a9.5 9.5 0 1 0 -19 0M436.6 1286.9a9.5 9.5 0 1 0 19 0a9.5 9.5 0 1 0 -19 0M451.1 1286.9a9.5 9.5 0 1 0 19 0a9.5 9.5 0 1 0 -19 0M465.7 1292.2a9.5 9.5 0 1 0 19 0a9.5 9.5 0 1 0 -19 0M481 1297.5a9.5 9.5 0 1 0 19 0a9.5 9.5 0 1 0 -19 0M496.8 1304.1a9.5 9.5 0 1 0 19 0a9.5 9.5 0 1 0 -19 0M514 1306.7a9.5 9.5 0 1 0 19 0a9.5 9.5 0 1 0 -19 0M531.7 1310.7a9.5 9.5 0 1 0 19 0a9.5 9.5 0 1 0 -19 0M550.1 1316a9.5 9.5 0 1 0 19 0a9.5 9.5 0 1 0 -19 0M570.2 1322.6a9.5 9.5 0 1 0 19 0a9.5 9.5 0 1 0 -19 0M592.3 1328.2a9.5 9.5 0 1 0 19 0a9.5 9.5 0 1 0 -19 0M615 1339.3a9.5 9.5 0 1 0 19 0a9.5 9.5 0 1 0 -19 0M638.8 1342.4a9.5 9.5 0 1 0 19 0a9.5 9.5 0 1 0 -19 0M664.8 1347.1a9.5 9.5 0 1 0 19 0a9.5 9.5 0 1 0 -19 0M693.4 1348.5a9.5 9.5 0 1 0 19 0a9.5 9.5 0 1 0 -19 0M723.2 1354a9.5 9.5 0 1 0 19 0a9.5 9.5 0 1 0 -19 0M754.1 1384a9.5 9.5 0 1 0 19 0a9.5 9.5 0 1 0 -19 0M787.9 1385.7a9.5 9.5 0 1 0 19 0a9.5 9.5 0 1 0 -19 0M825.2 1398.1a9.5 9.5 0 1 0 19 0a9.5 9.5 0 1 0 -19 0M864 1394.2a9.5 9.5 0 1 0 19 0a9.5 9.5 0 1 0 -19 0M904.1 1388.5a9.5 9.5 0 1 0 19 0a9.5 9.5 0 1 0 -19 0M948.4 1396.4a9.5 9.5 0 1 0 19 0a9.5 9.5 0 1 0 -19 0" stroke="#A2142F" stroke-width="1.4" fill="none"/>
<path d="M149.5 1110.3 150.5 1116.6 151.5 1122.6 152.5 1128.1 153.5 1133.2 154.5 1138.0 155.5 1142.6 156.5 1146.8 157.5 1150.8 158.5 1154.6 159.5 1158.2 160.5 1161.6 161.5 1164.8 162.5 1167.8 163.5 1170.8 164.5 1173.5 165.5 1176.2 166.5 1178.8 167.5 1181.2 168.5 1183.6 169.5 1185.9 170.5 1188.1 171.5 1190.2 172.5 1192.2 173.5 1194.2 174.5 1196.1 175.5 1198.0 176.5 1199.8 177.5 1201.6 178.5 1203.3 179.5 1205.0 180.5 1206.7 181.5 1208.3 182.5 1209.8 183.5 1211.4 184.5 1212.9 185.5 1214.4 186.5 1215.8 187.5 1217.3 188.5 1218.7 189.5 1220.1 190.5 1221.5 191.5 1222.8 192.5 1224.2 193.5 1225.5 194.5 1226.8 195.5 1228.1 196.5 1229.4 197.5 1230.6 198.5 1231.9 199.5 1233.1 200.5 1234.4 201.5 1235.6 202.5 1236.8 203.5 1238.0 204.5 1239.2 205.5 1240.4 206.5 1241.6 207.5 1242.7 208.5 1243.9 209.5 1245.1 210.5 1246.2 211.5 1247.4 212.5 1248.5 213.5 1249.7 214.5 1250.8 215.5 1251.9 216.5 1253.0 217.5 1254.1 218.5 1255.2 219.5 1256.3 220.5 1257.4 221.5 1258.5 222.5 1259.5 223.5 1260.6 224.5 1261.7 225.5 1262.7 226.5 1263.8 227.5 1264.8 228.5 1265.8 229.5 1266.8 230.5 1267.9 231.5 1268.9 232.5 1269.9 233.5 1270.9 234.5 1271.8 235.5 1272.8 236.5 1273.8 237.5 1274.8 238.5 1275.7 239.5 1276.7 240.5 1277.6 241.5 1278.6 242.5 1279.5 243.5 1280.4 244.5 1281.3 245.5 1282.3 246.5 1283.2 247.5 1284.1 248.5 1285.0 249.5 1285.8 250.5 1286.7 251.5 1287.6 252.5 1288.5 253.5 1289.3 254.5 1290.2 255.5 1291.1 256.5 1291.9 257.5 1292.7 258.5 1293.6 259.5 1294.4 260.5 1295.2 261.5 1296.1 262.5 1296.9 263.5 1297.7 264.5 1298.5 265.5 1299.3 266.5 1300.1 267.5 1300.9 268.5 1301.6 269.5 1302.4 270.5 1303.2 271.5 1304.0 272.5 1304.7 273.5 1305.5 274.5 1306.2 275.5 1307.0 276.5 1307.7 277.5 1308.4 278.5 1309.2 279.5 1309.9 280.5 1310.6 281.5 1311.3 282.5 1312.1 283.5 1312.8 284.5 1313.5 285.5 1314.2 286.5 1314.9 287.5 1315.5 288.5 1316.2 289.5 1316.9 290.5 1317.6 291.5 1318.3 292.5 1318.9 293.5 1319.6 294.5 1320.2 295.5 1320.9 296.5 1321.5 297.5 1322.2 298.5 1322.8 299.5 1323.5 300.5 1324.1 301.5 1324.7 302.5 1325.4 303.5 1326.0 304.5 1326.6 305.5 1327.2 306.5 1327.8 307.5 1328.4 308.5 1329.0 309.5 1329.6 310.5 1330.2 311.5 1330.8 312.5 1331.4 313.5 1332.0 314.5 1332.6 315.5 1333.1 316.5 1333.7 317.5 1334.3 318.5 1334.8 319.5 1335.4 320.5 1335.9 321.5 1336.5 322.5 1337.0 323.5 1337.6 324.5 1338.1 325.5 1338.7 326.5 1339.2 327.5 1339.7 328.5 1340.3 329.5 1340.8 330.5 1341.3 331.5 1341.8 332.5 1342.3 333.5 1342.9 334.5 1343.4 335.5 1343.9 336.5 1344.4 337.5 1344.9 338.5 1345.4 339.5 1345.9 340.5 1346.3 341.5 1346.8 342.5 1347.3 343.5 1347.8 344.5 1348.3 345.5 1348.7 346.5 1349.2 347.5 1349.7 348.5 1350.1 349.5 1350.6 350.5 1351.1 351.5 1351.5 352.5 1352.0 353.5 1352.4 354.5 1352.9 355.5 1353.3 356.5 1353.8 357.5 1354.2 358.5 1354.6 359.5 1355.1 360.5 1355.5 361.5 1355.9 362.5 1356.4 363.5 1356.8 364.5 1357.2 365.5 1357.7 366.5 1358.1 367.5 1358.5 368.5 1358.9 369.5 1359.3 370.5 1359.7 371.5 1360.1 372.5 1360.6 373.5 1361.0 374.5 1361.4 375.5 1361.8 376.5 1362.2 377.5 1362.6 378.5 1363.0 379.5 1363.4 380.5 1363.8 381.5 1364.2 382.5 1364.6 383.5 1364.9 384.5 1365.3 385.5 1365.7 386.5 1366.1 387.5 1366.5 388.5 1366.9 389.5 1367.3 390.5 1367.6 391.5 1368.0 392.5 1368.4 393.5 1368.8 394.5 1369.2 395.5 1369.5 396.5 1369.9 397.5 1370.3 398.5 1370.7 399.5 1371.0 400.5 1371.4 401.5 1371.8 402.5 1372.1 403.5 1372.5 404.5 1372.9 405.5 1373.2 406.5 1373.6 407.5 1374.0 408.5 1374.3 409.5 1374.7 410.5 1375.0 411.5 1375.4 412.5 1375.8 413.5 1376.1 414.5 1376.5 415.5 1376.8 416.5 1377.2 417.5 1377.5 418.5 1377.9 419.5 1378.2 420.5 1378.6 421.5 1379.0 422.5 1379.3 423.5 1379.7 424.5 1380.0 425.5 1380.4 426.5 1380.7 427.5 1381.1 428.5 1381.4 429.5 1381.7 430.5 1382.1 431.5 1382.4 432.5 1382.8 433.5 1383.1 434.5 1383.5 435.5 1383.8 436.5 1384.2 437.5 1384.5 438.5 1384.8 439.5 1385.2 440.5 1385.5 441.5 1385.9 442.5 1386.2 443.5 1386.5 444.5 1386.9 445.5 1387.2 446.5 1387.6 447.5 1387.9 448.5 1388.2 449.5 1388.6 450.5 1388.9 451.5 1389.3 452.5 1389.6 453.5 1389.9 454.5 1390.3 455.5 1390.6 456.5 1390.9 457.5 1391.3 458.5 1391.6 459.5 1391.9 460.5 1392.3 461.5 1392.6 462.5 1392.9 463.5 1393.3 464.5 1393.6 465.5 1393.9 466.5 1394.3 467.5 1394.6 468.5 1394.9 469.5 1395.3 470.5 1395.6 471.5 1395.9 472.5 1396.3 473.5 1396.6 474.5 1396.9 475.5 1397.3 476.5 1397.6 477.5 1397.9 478.5 1398.2 479.5 1398.6 480.5 1398.9 481.5 1399.2 482.5 1399.6 483.5 1399.9 484.5 1400.2 485.5 1400.5 486.5 1400.9 487.5 1401.2 488.5 1401.5 489.5 1401.9 490.5 1402.2 491.5 1402.5 492.5 1402.8 493.5 1403.2 494.5 1403.5 495.5 1403.8 496.5 1404.1 497.5 1404.5 498.5 1404.8 499.5 1405.1 500.5 1405.4 501.5 1405.8 502.5 1406.1 503.5 1406.4 504.5 1406.7 505.5 1407.0 506.5 1407.4 507.5 1407.7 508.5 1408.0 509.5 1408.3 510.5 1408.6 511.5 1409.0 512.5 1409.3 513.5 1409.6 514.5 1409.9 515.5 1410.2 516.5 1410.5 517.5 1410.9 518.5 1411.2 519.5 1411.5 520.5 1411.8 521.5 1412.1 522.5 1412.4 523.5 1412.7 524.5 1413.1 525.5 1413.4 526.5 1413.7 527.5 1414.0 528.5 1414.3 529.5 1414.6 530.5 1414.9 531.5 1415.2 532.5 1415.5 533.5 1415.8 534.5 1416.1 535.5 1416.4 536.5 1416.8 537.5 1417.1 538.5 1417.4 539.5 1417.7 540.5 1418.0 541.5 1418.3 542.5 1418.6 543.5 1418.9 544.5 1419.2 545.5 1419.5 546.5 1419.8 547.5 1420.1 548.5 1420.4 549.5 1420.7 550.5 1421.0 551.5 1421.3 552.5 1421.6 553.5 1421.8 554.5 1422.1 555.5 1422.4 556.5 1422.7 557.5 1423.0 558.5 1423.3 559.5 1423.6 560.5 1423.9 561.5 1424.2 562.5 1424.5 563.5 1424.8 564.5 1425.0 565.5 1425.3 566.5 1425.6 567.5 1425.9 568.5 1426.2 569.5 1426.5 570.5 1426.8 571.5 1427.0 572.5 1427.3 573.5 1427.6 574.5 1427.9 575.5 1428.2 576.5 1428.4 577.5 1428.7 578.5 1429.0 579.5 1429.3 580.5 1429.5 581.5 1429.8 582.5 1430.1 583.5 1430.4 584.5 1430.6 585.5 1430.9 586.5 1431.2 587.5 1431.5 588.5 1431.7 589.5 1432.0 590.5 1432.3 591.5 1432.5 592.5 1432.8 593.5 1433.1 594.5 1433.3 595.5 1433.6 596.5 1433.9 597.5 1434.1 598.5 1434.4 599.5 1434.7 600.5 1434.9 601.5 1435.2 602.5 1435.5 603.5 1435.7 604.5 1436.0 605.5 1436.2 606.5 1436.5 607.5 1436.7 608.5 1437.0 609.5 1437.3 610.5 1437.5 611.5 1437.8 612.5 1438.0 613.5 1438.3 614.5 1438.5 615.5 1438.8 616.5 1439.0 617.5 1439.3 618.5 1439.5 619.5 1439.8 620.5 1440.0 621.5 1440.3 622.5 1440.5 623.5 1440.8 624.5 1441.0 625.5 1441.3 626.5 1441.5 627.5 1441.7 628.5 1442.0 629.5 1442.2 630.5 1442.5 631.5 1442.7 632.5 1442.9 633.5 1443.2 634.5 1443.4 635.5 1443.7 636.5 1443.9 637.5 1444.1 638.5 1444.4 639.5 1444.6 640.5 1444.8 641.5 1445.1 642.5 1445.3 643.5 1445.5 644.5 1445.8 645.5 1446.0 646.5 1446.2 647.5 1446.5 648.5 1446.7 649.5 1446.9 650.5 1447.1 651.5 1447.4 652.5 1447.6 653.5 1447.8 654.5 1448.0 655.5 1448.3 656.5 1448.5 657.5 1448.7 658.5 1448.9 659.5 1449.1 660.5 1449.4 661.5 1449.6 662.5 1449.8 663.5 1450.0 664.5 1450.2 665.5 1450.4 666.5 1450.7 667.5 1450.9 668.5 1451.1 669.5 1451.3 670.5 1451.5 671.5 1451.7 672.5 1451.9 673.5 1452.1 674.5 1452.4 675.5 1452.6 676.5 1452.8 677.5 1453.0 678.5 1453.2 679.5 1453.4 680.5 1453.6 681.5 1453.8 682.5 1454.0 683.5 1454.2 684.5 1454.4 685.5 1454.6 686.5 1454.8 687.5 1455.0 688.5 1455.2 689.5 1455.4 690.5 1455.6 691.5 1455.8 692.5 1456.0 693.5 1456.2 694.5 1456.4 695.5 1456.6 696.5 1456.8 697.5 1457.0 698.5 1457.2 699.5 1457.4 700.5 1457.6 701.5 1457.7 702.5 1457.9 703.5 1458.1 704.5 1458.3 705.5 1458.5 706.5 1458.7 707.5 1458.9 708.5 1459.1 709.5 1459.2 710.5 1459.4 711.5 1459.6 712.5 1459.8 713.5 1460.0 714.5 1460.2 715.5 1460.3 716.5 1460.5 717.5 1460.7 718.5 1460.9 719.5 1461.1 720.5 1461.2 721.5 1461.4 722.5 1461.6 723.5 1461.8 724.5 1461.9 725.5 1462.1 726.5 1462.3 727.5 1462.5 728.5 1462.6 729.5 1462.8 730.5 1463.0 731.5 1463.1 732.5 1463.3 733.5 1463.5 734.5 1463.7 735.5 1463.8 736.5 1464.0 737.5 1464.2 738.5 1464.3 739.5 1464.5 740.5 1464.6 741.5 1464.8 742.5 1465.0 743.5 1465.1 744.5 1465.3 745.5 1465.5 746.5 1465.6 747.5 1465.8 748.5 1465.9 749.5 1466.1 750.5 1466.3 751.5 1466.4 752.5 1466.6 753.5 1466.7 754.5 1466.9 755.5 1467.0 756.5 1467.2 757.5 1467.3 758.5 1467.5 759.5 1467.6 760.5 1467.8 761.5 1468.0 762.5 1468.1 763.5 1468.3 764.5 1468.4 765.5 1468.5 766.5 1468.7 767.5 1468.8 768.5 1469.0 769.5 1469.1 770.5 1469.3 771.5 1469.4 772.5 1469.6 773.5 1469.7 774.5 1469.9 775.5 1470.0 776.5 1470.1 777.5 1470.3 778.5 1470.4 779.5 1470.6 780.5 1470.7 781.5 1470.8 782.5 1471.0 783.5 1471.1 784.5 1471.2 785.5 1471.4 786.5 1471.5 787.5 1471.7 788.5 1471.8 789.5 1471.9 790.5 1472.1 791.5 1472.2 792.5 1472.3 793.5 1472.4 794.5 1472.6 795.5 1472.7 796.5 1472.8 797.5 1473.0 798.5 1473.1 799.5 1473.2 800.5 1473.3 801.5 1473.5 802.5 1473.6 803.5 1473.7 804.5 1473.8 805.5 1474.0 806.5 1474.1 807.5 1474.2 808.5 1474.3 809.5 1474.5 810.5 1474.6 811.5 1474.7 812.5 1474.8 813.5 1474.9 814.5 1475.1 815.5 1475.2 816.5 1475.3 817.5 1475.4 818.5 1475.5 819.5 1475.6 820.5 1475.8 821.5 1475.9 822.5 1476.0 823.5 1476.1 824.5 1476.2 825.5 1476.3 826.5 1476.4 827.5 1476.5 828.5 1476.7 829.5 1476.8 830.5 1476.9 831.5 1477.0 832.5 1477.1 833.5 1477.2 834.5 1477.3 835.5 1477.4 836.5 1477.5 837.5 1477.6 838.5 1477.7 839.5 1477.8 840.5 1477.9 841.5 1478.0 842.5 1478.1 843.5 1478.2 844.5 1478.3 845.5 1478.4 846.5 1478.5 847.5 1478.6 848.5 1478.7 849.5 1478.8 850.5 1478.9 851.5 1479.0 852.5 1479.1 853.5 1479.2 854.5 1479.3 855.5 1479.4 856.5 1479.5 857.5 1479.6 858.5 1479.7 859.5 1479.8 860.5 1479.9 861.5 1480.0 862.5 1480.1 863.5 1480.2 864.5 1480.3 865.5 1480.3 866.5 1480.4 867.5 1480.5 868.5 1480.6 869.5 1480.7 870.5 1480.8 871.5 1480.9 872.5 1481.0 873.5 1481.0 874.5 1481.1 875.5 1481.2 876.5 1481.3 877.5 1481.4 878.5 1481.5 879.5 1481.5 880.5 1481.6 881.5 1481.7 882.5 1481.8 883.5 1481.9 884.5 1482.0 885.5 1482.0 886.5 1482.1 887.5 1482.2 888.5 1482.3 889.5 1482.3 890.5 1482.4 891.5 1482.5 892.5 1482.6 893.5 1482.7 894.5 1482.7 895.5 1482.8 896.5 1482.9 897.5 1482.9 898.5 1483.0 899.5 1483.1 900.5 1483.2 901.5 1483.2 902.5 1483.3 903.5 1483.4 904.5 1483.4 905.5 1483.5 906.5 1483.6 907.5 1483.7 908.5 1483.7 909.5 1483.8 910.5 1483.9 911.5 1483.9 912.5 1484.0 913.5 1484.1 914.5 1484.1 915.5 1484.2 916.5 1484.2 917.5 1484.3 918.5 1484.4 919.5 1484.4 920.5 1484.5 921.5 1484.6 922.5 1484.6 923.5 1484.7 924.5 1484.7 925.5 1484.8 926.5 1484.9 927.5 1484.9 928.5 1485.0 929.5 1485.0 930.5 1485.1 931.5 1485.1 932.5 1485.2 933.5 1485.3 934.5 1485.3 935.5 1485.4 936.5 1485.4 937.5 1485.5 938.5 1485.5 939.5 1485.6 940.5 1485.6 941.5 1485.7 942.5 1485.7 943.5 1485.8 944.5 1485.8 945.5 1485.9 946.5 1485.9 947.5 1486.0 948.5 1486.0 949.5 1486.1 950.5 1486.1 951.5 1486.2 952.5 1486.2 953.5 1486.3 954.5 1486.3 955.5 1486.4 956.5 1486.4 957.5 1486.5 958.5 1486.5 959.5 1486.5 960.5 1486.6 961.5 1486.6 962.5 1486.7 963.5 1486.7 964.5 1486.7 965.0 1486.8" stroke="#000" stroke-width="2.7" fill="none"/>
<path d="M149.7 990.7 150.7 993.9 151.7 997.3 152.7 1000.8 153.7 1004.4 154.7 1008.1 155.7 1011.8 156.7 1015.5 157.7 1019.2 158.7 1022.8 159.7 1026.4 160.7 1030.0 161.7 1033.5 162.7 1036.9 163.7 1040.3 164.7 1043.6 165.7 1046.8 166.7 1049.9 167.7 1053.0 168.7 1055.9 169.7 1058.8 170.7 1061.6 171.7 1064.3 172.7 1066.9 173.7 1069.4 174.7 1071.9 175.7 1074.3 176.7 1076.5 177.7 1078.8 178.7 1080.9 179.7 1083.0 180.7 1085.0 181.7 1086.9 182.7 1088.8 183.7 1090.7 184.7 1092.4 185.7 1094.2 186.7 1095.9 187.7 1097.6 188.7 1099.2 189.7 1100.8 190.7 1102.4 191.7 1103.9 192.7 1105.4 193.7 1106.9 194.7 1108.4 195.7 1109.8 196.7 1111.3 197.7 1112.7 198.7 1114.0 199.7 1115.4 200.7 1116.7 201.7 1118.1 202.7 1119.4 203.7 1120.7 204.7 1122.0 205.7 1123.3 206.7 1124.6 207.7 1125.8 208.7 1127.1 209.7 1128.3 210.7 1129.6 211.7 1130.8 212.7 1132.0 213.7 1133.2 214.7 1134.4 215.7 1135.6 216.7 1136.8 217.7 1138.0 218.7 1139.2 219.7 1140.4 220.7 1141.6 221.7 1142.8 222.7 1143.9 223.7 1145.1 224.7 1146.3 225.7 1147.4 226.7 1148.6 227.7 1149.7 228.7 1150.8 229.7 1152.0 230.7 1153.1 231.7 1154.2 232.7 1155.3 233.7 1156.4 234.7 1157.5 235.7 1158.6 236.7 1159.7 237.7 1160.8 238.7 1161.8 239.7 1162.9 240.7 1164.0 241.7 1165.0 242.7 1166.1 243.7 1167.1 244.7 1168.1 245.7 1169.2 246.7 1170.2 247.7 1171.2 248.7 1172.2 249.7 1173.2 250.7 1174.2 251.7 1175.2 252.7 1176.2 253.7 1177.2 254.7 1178.1 255.7 1179.1 256.7 1180.1 257.7 1181.0 258.7 1181.9 259.7 1182.9 260.7 1183.8 261.7 1184.7 262.7 1185.7 263.7 1186.6 264.7 1187.5 265.7 1188.4 266.7 1189.3 267.7 1190.2 268.7 1191.1 269.7 1191.9 270.7 1192.8 271.7 1193.7 272.7 1194.5 273.7 1195.4 274.7 1196.2 275.7 1197.1 276.7 1197.9 277.7 1198.7 278.7 1199.6 279.7 1200.4 280.7 1201.2 281.7 1202.0 282.7 1202.8 283.7 1203.6 284.7 1204.4 285.7 1205.2 286.7 1206.0 287.7 1206.7 288.7 1207.5 289.7 1208.3 290.7 1209.0 291.7 1209.8 292.7 1210.5 293.7 1211.3 294.7 1212.0 295.7 1212.8 296.7 1213.5 297.7 1214.2 298.7 1214.9 299.7 1215.6 300.7 1216.3 301.7 1217.1 302.7 1217.7 303.7 1218.4 304.7 1219.1 305.7 1219.8 306.7 1220.5 307.7 1221.2 308.7 1221.8 309.7 1222.5 310.7 1223.2 311.7 1223.8 312.7 1224.5 313.7 1225.1 314.7 1225.8 315.7 1226.4 316.7 1227.0 317.7 1227.7 318.7 1228.3 319.7 1228.9 320.7 1229.5 321.7 1230.1 322.7 1230.7 323.7 1231.3 324.7 1231.9 325.7 1232.5 326.7 1233.1 327.7 1233.7 328.7 1234.3 329.7 1234.9 330.7 1235.5 331.7 1236.0 332.7 1236.6 333.7 1237.2 334.7 1237.7 335.7 1238.3 336.7 1238.9 337.7 1239.4 338.7 1240.0 339.7 1240.5 340.7 1241.0 341.7 1241.6 342.7 1242.1 343.7 1242.7 344.7 1243.2 345.7 1243.7 346.7 1244.2 347.7 1244.8 348.7 1245.3 349.7 1245.8 350.7 1246.3 351.7 1246.8 352.7 1247.3 353.7 1247.8 354.7 1248.3 355.7 1248.8 356.7 1249.3 357.7 1249.8 358.7 1250.3 359.7 1250.8 360.7 1251.3 361.7 1251.7 362.7 1252.2 363.7 1252.7 364.7 1253.2 365.7 1253.7 366.7 1254.1 367.7 1254.6 368.7 1255.1 369.7 1255.5 370.7 1256.0 371.7 1256.4 372.7 1256.9 373.7 1257.3 374.7 1257.8 375.7 1258.2 376.7 1258.7 377.7 1259.1 378.7 1259.6 379.7 1260.0 380.7 1260.5 381.7 1260.9 382.7 1261.3 383.7 1261.8 384.7 1262.2 385.7 1262.6 386.7 1263.0 387.7 1263.5 388.7 1263.9 389.7 1264.3 390.7 1264.7 391.7 1265.1 392.7 1265.6 393.7 1266.0 394.7 1266.4 395.7 1266.8 396.7 1267.2 397.7 1267.6 398.7 1268.0 399.7 1268.4 400.7 1268.8 401.7 1269.2 402.7 1269.6 403.7 1270.0 404.7 1270.4 405.7 1270.8 406.7 1271.2 407.7 1271.6 408.7 1271.9 409.7 1272.3 410.7 1272.7 411.7 1273.1 412.7 1273.5 413.7 1273.8 414.7 1274.2 415.7 1274.6 416.7 1275.0 417.7 1275.3 418.7 1275.7 419.7 1276.1 420.7 1276.5 421.7 1276.8 422.7 1277.2 423.7 1277.6 424.7 1277.9 425.7 1278.3 426.7 1278.6 427.7 1279.0 428.7 1279.4 429.7 1279.7 430.7 1280.1 431.7 1280.4 432.7 1280.8 433.7 1281.1 434.7 1281.5 435.7 1281.9 436.7 1282.2 437.7 1282.6 438.7 1282.9 439.7 1283.2 440.7 1283.6 441.7 1283.9 442.7 1284.3 443.7 1284.6 444.7 1285.0 445.7 1285.3 446.7 1285.7 447.7 1286.0 448.7 1286.3 449.7 1286.7 450.7 1287.0 451.7 1287.3 452.7 1287.7 453.7 1288.0 454.7 1288.4 455.7 1288.7 456.7 1289.0 457.7 1289.4 458.7 1289.7 459.7 1290.0 460.7 1290.4 461.7 1290.7 462.7 1291.0 463.7 1291.3 464.7 1291.7 465.7 1292.0 466.7 1292.3 467.7 1292.7 468.7 1293.0 469.7 1293.3 470.7 1293.6 471.7 1294.0 472.7 1294.3 473.7 1294.6 474.7 1294.9 475.7 1295.2 476.7 1295.6 477.7 1295.9 478.7 1296.2 479.7 1296.5 480.7 1296.9 481.7 1297.2 482.7 1297.5 483.7 1297.8 484.7 1298.1 485.7 1298.4 486.7 1298.8 487.7 1299.1 488.7 1299.4 489.7 1299.7 490.7 1300.0 491.7 1300.3 492.7 1300.7 493.7 1301.0 494.7 1301.3 495.7 1301.6 496.7 1301.9 497.7 1302.2 498.7 1302.6 499.7 1302.9 500.7 1303.2 501.7 1303.5 502.7 1303.8 503.7 1304.1 504.7 1304.4 505.7 1304.7 506.7 1305.1 507.7 1305.4 508.7 1305.7 509.7 1306.0 510.7 1306.3 511.7 1306.6 512.7 1306.9 513.7 1307.2 514.7 1307.5 515.7 1307.8 516.7 1308.2 517.7 1308.5 518.7 1308.8 519.7 1309.1 520.7 1309.4 521.7 1309.7 522.7 1310.0 523.7 1310.3 524.7 1310.6 525.7 1310.9 526.7 1311.2 527.7 1311.5 528.7 1311.9 529.7 1312.2 530.7 1312.5 531.7 1312.8 532.7 1313.1 533.7 1313.4 534.7 1313.7 535.7 1314.0 536.7 1314.3 537.7 1314.6 538.7 1314.9 539.7 1315.2 540.7 1315.5 541.7 1315.8 542.7 1316.1 543.7 1316.5 544.7 1316.8 545.7 1317.1 546.7 1317.4 547.7 1317.7 548.7 1318.0 549.7 1318.3 550.7 1318.6 551.7 1318.9 552.7 1319.2 553.7 1319.5 554.7 1319.8 555.7 1320.1 556.7 1320.4 557.7 1320.7 558.7 1321.0 559.7 1321.3 560.7 1321.6 561.7 1321.9 562.7 1322.2 563.7 1322.5 564.7 1322.8 565.7 1323.1 566.7 1323.4 567.7 1323.7 568.7 1324.0 569.7 1324.3 570.7 1324.6 571.7 1324.9 572.7 1325.2 573.7 1325.5 574.7 1325.8 575.7 1326.1 576.7 1326.4 577.7 1326.7 578.7 1327.0 579.7 1327.3 580.7 1327.6 581.7 1327.9 582.7 1328.2 583.7 1328.5 584.7 1328.8 585.7 1329.1 586.7 1329.4 587.7 1329.7 588.7 1330.0 589.7 1330.3 590.7 1330.6 591.7 1330.9 592.7 1331.1 593.7 1331.4 594.7 1331.7 595.7 1332.0 596.7 1332.3 597.7 1332.6 598.7 1332.9 599.7 1333.2 600.7 1333.4 601.7 1333.7 602.7 1334.0 603.7 1334.3 604.7 1334.6 605.7 1334.9 606.7 1335.2 607.7 1335.4 608.7 1335.7 609.7 1336.0 610.7 1336.3 611.7 1336.6 612.7 1336.8 613.7 1337.1 614.7 1337.4 615.7 1337.7 616.7 1338.0 617.7 1338.2 618.7 1338.5 619.7 1338.8 620.7 1339.1 621.7 1339.3 622.7 1339.6 623.7 1339.9 624.7 1340.2 625.7 1340.4 626.7 1340.7 627.7 1341.0 628.7 1341.2 629.7 1341.5 630.7 1341.8 631.7 1342.1 632.7 1342.3 633.7 1342.6 634.7 1342.9 635.7 1343.1 636.7 1343.4 637.7 1343.7 638.7 1343.9 639.7 1344.2 640.7 1344.4 641.7 1344.7 642.7 1345.0 643.7 1345.2 644.7 1345.5 645.7 1345.8 646.7 1346.0 647.7 1346.3 648.7 1346.5 649.7 1346.8 650.7 1347.0 651.7 1347.3 652.7 1347.5 653.7 1347.8 654.7 1348.1 655.7 1348.3 656.7 1348.6 657.7 1348.8 658.7 1349.1 659.7 1349.3 660.7 1349.6 661.7 1349.8 662.7 1350.1 663.7 1350.3 664.7 1350.6 665.7 1350.8 666.7 1351.0 667.7 1351.3 668.7 1351.5 669.7 1351.8 670.7 1352.0 671.7 1352.3 672.7 1352.5 673.7 1352.7 674.7 1353.0 675.7 1353.2 676.7 1353.5 677.7 1353.7 678.7 1353.9 679.7 1354.2 680.7 1354.4 681.7 1354.6 682.7 1354.9 683.7 1355.1 684.7 1355.3 685.7 1355.6 686.7 1355.8 687.7 1356.0 688.7 1356.3 689.7 1356.5 690.7 1356.7 691.7 1356.9 692.7 1357.2 693.7 1357.4 694.7 1357.6 695.7 1357.8 696.7 1358.1 697.7 1358.3 698.7 1358.5 699.7 1358.7 700.7 1358.9 701.7 1359.2 702.7 1359.4 703.7 1359.6 704.7 1359.8 705.7 1360.0 706.7 1360.3 707.7 1360.5 708.7 1360.7 709.7 1360.9 710.7 1361.1 711.7 1361.3 712.7 1361.5 713.7 1361.7 714.7 1362.0 715.7 1362.2 716.7 1362.4 717.7 1362.6 718.7 1362.8 719.7 1363.0 720.7 1363.2 721.7 1363.4 722.7 1363.6 723.7 1363.8 724.7 1364.0 725.7 1364.2 726.7 1364.4 727.7 1364.6 728.7 1364.8 729.7 1365.0 730.7 1365.2 731.7 1365.4 732.7 1365.6 733.7 1365.8 734.7 1366.0 735.7 1366.2 736.7 1366.4 737.7 1366.6 738.7 1366.8 739.7 1367.0 740.7 1367.2 741.7 1367.3 742.7 1367.5 743.7 1367.7 744.7 1367.9 745.7 1368.1 746.7 1368.3 747.7 1368.5 748.7 1368.7 749.7 1368.8 750.7 1369.0 751.7 1369.2 752.7 1369.4 753.7 1369.6 754.7 1369.7 755.7 1369.9 756.7 1370.1 757.7 1370.3 758.7 1370.5 759.7 1370.6 760.7 1370.8 761.7 1371.0 762.7 1371.2 763.7 1371.3 764.7 1371.5 765.7 1371.7 766.7 1371.8 767.7 1372.0 768.7 1372.2 769.7 1372.4 770.7 1372.5 771.7 1372.7 772.7 1372.9 773.7 1373.0 774.7 1373.2 775.7 1373.4 776.7 1373.5 777.7 1373.7 778.7 1373.8 779.7 1374.0 780.7 1374.2 781.7 1374.3 782.7 1374.5 783.7 1374.6 784.7 1374.8 785.7 1375.0 786.7 1375.1 787.7 1375.3 788.7 1375.4 789.7 1375.6 790.7 1375.7 791.7 1375.9 792.7 1376.0 793.7 1376.2 794.7 1376.3 795.7 1376.5 796.7 1376.6 797.7 1376.8 798.7 1376.9 799.7 1377.1 800.7 1377.2 801.7 1377.4 802.7 1377.5 803.7 1377.7 804.7 1377.8 805.7 1378.0 806.7 1378.1 807.7 1378.2 808.7 1378.4 809.7 1378.5 810.7 1378.7 811.7 1378.8 812.7 1378.9 813.7 1379.1 814.7 1379.2 815.7 1379.3 816.7 1379.5 817.7 1379.6 818.7 1379.7 819.7 1379.9 820.7 1380.0 821.7 1380.1 822.7 1380.3 823.7 1380.4 824.7 1380.5 825.7 1380.7 826.7 1380.8 827.7 1380.9 828.7 1381.0 829.7 1381.2 830.7 1381.3 831.7 1381.4 832.7 1381.5 833.7 1381.7 834.7 1381.8 835.7 1381.9 836.7 1382.0 837.7 1382.1 838.7 1382.3 839.7 1382.4 840.7 1382.5 841.7 1382.6 842.7 1382.7 843.7 1382.8 844.7 1383.0 845.7 1383.1 846.7 1383.2 847.7 1383.3 848.7 1383.4 849.7 1383.5 850.7 1383.6 851.7 1383.7 852.7 1383.8 853.7 1384.0 854.7 1384.1 855.7 1384.2 856.7 1384.3 857.7 1384.4 858.7 1384.5 859.7 1384.6 860.7 1384.7 861.7 1384.8 862.7 1384.9 863.7 1385.0 864.7 1385.1 865.7 1385.2 866.7 1385.3 867.7 1385.4 868.7 1385.5 869.7 1385.6 870.7 1385.7 871.7 1385.8 872.7 1385.9 873.7 1386.0 874.7 1386.1 875.7 1386.2 876.7 1386.3 877.7 1386.4 878.7 1386.5 879.7 1386.5 880.7 1386.6 881.7 1386.7 882.7 1386.8 883.7 1386.9 884.7 1387.0 885.7 1387.1 886.7 1387.2 887.7 1387.2 888.7 1387.3 889.7 1387.4 890.7 1387.5 891.7 1387.6 892.7 1387.7 893.7 1387.7 894.7 1387.8 895.7 1387.9 896.7 1388.0 897.7 1388.1 898.7 1388.1 899.7 1388.2 900.7 1388.3 901.7 1388.4 902.7 1388.5 903.7 1388.5 904.7 1388.6 905.7 1388.7 906.7 1388.7 907.7 1388.8 908.7 1388.9 909.7 1389.0 910.7 1389.0 911.7 1389.1 912.7 1389.2 913.7 1389.2 914.7 1389.3 915.7 1389.4 916.7 1389.4 917.7 1389.5 918.7 1389.6 919.7 1389.6 920.7 1389.7 921.7 1389.8 922.7 1389.8 923.7 1389.9 924.7 1390.0 925.7 1390.0 926.7 1390.1 927.7 1390.1 928.7 1390.2 929.7 1390.3 930.7 1390.3 931.7 1390.4 932.7 1390.4 933.7 1390.5 934.7 1390.5 935.7 1390.6 936.7 1390.6 937.7 1390.7 938.7 1390.8 939.7 1390.8 940.7 1390.9 941.7 1390.9 942.7 1391.0 943.7 1391.0 944.7 1391.1 945.7 1391.1 946.7 1391.2 947.7 1391.2 948.7 1391.2 949.7 1391.3 950.7 1391.3 951.7 1391.4 952.7 1391.4 953.7 1391.5 954.7 1391.5 955.7 1391.6 956.7 1391.6 957.7 1391.6 958.7 1391.7 959.7 1391.7 960.7 1391.8 961.7 1391.8 962.7 1391.8 963.7 1391.9 964.7 1391.9 965.0 1391.9" stroke="#000" stroke-width="2.7" fill="none"/>
<path d="M122.4 1497.1V1487.8M122.4 832.6V841.9M313.97 1497.1V1487.8M313.97 832.6V841.9M505.54 1497.1V1487.8M505.54 832.6V841.9M697.1 1497.1V1487.8M697.1 832.6V841.9M888.67 1497.1V1487.8M888.67 832.6V841.9M122.4 1468.52h5.5M965.3 1468.52h-5.5M122.4 1451.81h5.5M965.3 1451.81h-5.5M122.4 1439.95h5.5M965.3 1439.95h-5.5M122.4 1430.75h5.5M965.3 1430.75h-5.5M122.4 1423.23h5.5M965.3 1423.23h-5.5M122.4 1416.88h5.5M965.3 1416.88h-5.5M122.4 1411.37h5.5M965.3 1411.37h-5.5M122.4 1406.52h5.5M965.3 1406.52h-5.5M122.4 1402.17h5.5M965.3 1402.17h-5.5M122.4 1373.6h5.5M965.3 1373.6h-5.5M122.4 1356.88h5.5M965.3 1356.88h-5.5M122.4 1345.02h5.5M965.3 1345.02h-5.5M122.4 1335.82h5.5M965.3 1335.82h-5.5M122.4 1328.3h5.5M965.3 1328.3h-5.5M122.4 1321.95h5.5M965.3 1321.95h-5.5M122.4 1316.44h5.5M965.3 1316.44h-5.5M122.4 1311.59h5.5M965.3 1311.59h-5.5M122.4 1307.24h9.3M965.3 1307.24h-9.3M122.4 1278.67h5.5M965.3 1278.67h-5.5M122.4 1261.95h5.5M965.3 1261.95h-5.5M122.4 1250.09h5.5M965.3 1250.09h-5.5M122.4 1240.89h5.5M965.3 1240.89h-5.5M122.4 1233.37h5.5M965.3 1233.37h-5.5M122.4 1227.02h5.5M965.3 1227.02h-5.5M122.4 1221.51h5.5M965.3 1221.51h-5.5M122.4 1216.66h5.5M965.3 1216.66h-5.5M122.4 1212.31h5.5M965.3 1212.31h-5.5M122.4 1183.74h5.5M965.3 1183.74h-5.5M122.4 1167.02h5.5M965.3 1167.02h-5.5M122.4 1155.16h5.5M965.3 1155.16h-5.5M122.4 1145.96h5.5M965.3 1145.96h-5.5M122.4 1138.45h5.5M965.3 1138.45h-5.5M122.4 1132.09h5.5M965.3 1132.09h-5.5M122.4 1126.59h5.5M965.3 1126.59h-5.5M122.4 1121.73h5.5M965.3 1121.73h-5.5M122.4 1117.39h9.3M965.3 1117.39h-9.3M122.4 1088.81h5.5M965.3 1088.81h-5.5M122.4 1072.09h5.5M965.3 1072.09h-5.5M122.4 1060.23h5.5M965.3 1060.23h-5.5M122.4 1051.03h5.5M965.3 1051.03h-5.5M122.4 1043.52h5.5M965.3 1043.52h-5.5M122.4 1037.16h5.5M965.3 1037.16h-5.5M122.4 1031.66h5.5M965.3 1031.66h-5.5M122.4 1026.8h5.5M965.3 1026.8h-5.5M122.4 1022.46h5.5M965.3 1022.46h-5.5M122.4 993.88h5.5M965.3 993.88h-5.5M122.4 977.16h5.5M965.3 977.16h-5.5M122.4 965.3h5.5M965.3 965.3h-5.5M122.4 956.1h5.5M965.3 956.1h-5.5M122.4 948.59h5.5M965.3 948.59h-5.5M122.4 942.23h5.5M965.3 942.23h-5.5M122.4 936.73h5.5M965.3 936.73h-5.5M122.4 931.87h5.5M965.3 931.87h-5.5M122.4 927.53h9.3M965.3 927.53h-9.3M122.4 898.95h5.5M965.3 898.95h-5.5M122.4 882.24h5.5M965.3 882.24h-5.5M122.4 870.38h5.5M965.3 870.38h-5.5M122.4 861.18h5.5M965.3 861.18h-5.5M122.4 853.66h5.5M965.3 853.66h-5.5M122.4 847.3h5.5M965.3 847.3h-5.5M122.4 841.8h5.5M965.3 841.8h-5.5M122.4 836.94h5.5M965.3 836.94h-5.5" stroke="#262626" stroke-width="2.5" fill="none"/>
<rect x="122.4" y="832.6" width="842.9" height="664.5" stroke="#262626" stroke-width="2.8" fill="none"/>
<path d="M574.86 123.75V125.75M571.96 123.75h5.8M571.96 125.75h5.8M575.33 123.73V125.73M572.43 123.73h5.8M572.43 125.73h5.8M575.81 124.69V126.69M572.91 124.69h5.8M572.91 126.69h5.8M576.32 124.25V126.25M573.42 124.25h5.8M573.42 126.25h5.8M576.86 124.55V126.55M573.96 124.55h5.8M573.96 126.55h5.8M577.41 124.05V126.05M574.51 124.05h5.8M574.51 126.05h5.8M577.99 124.5V126.5M575.09 124.5h5.8M575.09 126.5h5.8M578.59 123.67V125.67M575.69 123.67h5.8M575.69 125.67h5.8M579.23 124.61V126.61M576.33 124.61h5.8M576.33 126.61h5.8M579.88 124.72V126.72M576.98 124.72h5.8M576.98 126.72h5.8M580.57 123.78V125.78M577.67 123.78h5.8M577.67 125.78h5.8M581.29 124.7V126.7M578.39 124.7h5.8M578.39 126.7h5.8M582.03 123.72V125.72M579.13 123.72h5.8M579.13 125.72h5.8M582.81 124.23V126.23M579.91 124.23h5.8M579.91 126.23h5.8M583.63 124.69V126.69M580.73 124.69h5.8M580.73 126.69h5.8M584.48 124.28V126.28M581.58 124.28h5.8M581.58 126.28h5.8M585.36 124.43V126.43M582.46 124.43h5.8M582.46 126.43h5.8M586.29 131.32V133.32M583.39 131.32h5.8M583.39 133.32h5.8M587.25 137.94V139.94M584.35 137.94h5.8M584.35 139.94h5.8M588.26 143.89V145.89M585.36 143.89h5.8M585.36 145.89h5.8M589.31 147.86V149.86M586.41 147.86h5.8M586.41 149.86h5.8M590.41 152.75V154.75M587.51 152.75h5.8M587.51 154.75h5.8M591.55 156.09V158.09M588.65 156.09h5.8M588.65 158.09h5.8M592.75 159.6V161.6M589.85 159.6h5.8M589.85 161.6h5.8M593.99 163.65V165.65M591.09 163.65h5.8M591.09 165.65h5.8M595.29 166.98V168.98M592.39 166.98h5.8M592.39 168.98h5.8M596.65 170.04V172.04M593.75 170.04h5.8M593.75 172.04h5.8M598.07 172.16V174.16M595.17 172.16h5.8M595.17 174.16h5.8M599.54 175.08V177.08M596.64 175.08h5.8M596.64 177.08h5.8M601.09 177.68V179.68M598.19 177.68h5.8M598.19 179.68h5.8M602.69 179.94V181.94M599.79 179.94h5.8M599.79 181.94h5.8M604.37 182.67V184.67M601.47 182.67h5.8M601.47 184.67h5.8M606.13 185.4V187.4M603.23 185.4h5.8M603.23 187.4h5.8M607.95 187.64V189.64M605.05 187.64h5.8M605.05 189.64h5.8M609.86 190.03V192.03M606.96 190.03h5.8M606.96 192.03h5.8M611.85 192.55V194.55M608.95 192.55h5.8M608.95 194.55h5.8M613.93 194.2V196.2M611.03 194.2h5.8M611.03 196.2h5.8M616.1 197.15V199.15M613.2 197.15h5.8M613.2 199.15h5.8M618.36 198.26V200.26M615.46 198.26h5.8M615.46 200.26h5.8M620.72 200.82V202.82M617.82 200.82h5.8M617.82 202.82h5.8M623.18 202.77V204.77M620.28 202.77h5.8M620.28 204.77h5.8M625.75 204.99V206.99M622.85 204.99h5.8M622.85 206.99h5.8M628.43 207.25V209.25M625.53 207.25h5.8M625.53 209.25h5.8M631.23 208.63V210.63M628.33 208.63h5.8M628.33 210.63h5.8M634.15 210.92V212.92M631.25 210.92h5.8M631.25 212.92h5.8M637.2 212.83V214.83M634.3 212.83h5.8M634.3 214.83h5.8M640.38 214.79V216.79M637.48 214.79h5.8M637.48 216.79h5.8M643.7 216.89V218.89M640.8 216.89h5.8M640.8 218.89h5.8M647.16 219.7V221.7M644.26 219.7h5.8M644.26 221.7h5.8M650.77 221.67V223.67M647.87 221.67h5.8M647.87 223.67h5.8M654.54 224.34V226.34M651.64 224.34h5.8M651.64 226.34h5.8M658.48 226.57V228.57M655.58 226.57h5.8M655.58 228.57h5.8M662.58 228.84V230.84M659.68 228.84h5.8M659.68 230.84h5.8M666.87 230.27V232.27M663.97 230.27h5.8M663.97 232.27h5.8M671.34 233.51V235.51M668.44 233.51h5.8M668.44 235.51h5.8M676 236.08V238.08M673.1 236.08h5.8M673.1 238.08h5.8M680.87 237.43V239.43M677.97 237.43h5.8M677.97 239.43h5.8M685.95 240.79V242.79M683.05 240.79h5.8M683.05 242.79h5.8M691.25 243.19V245.19M688.35 243.19h5.8M688.35 245.19h5.8M696.78 245.72V247.72M693.88 245.72h5.8M693.88 247.72h5.8M702.55 247.92V249.92M699.65 247.92h5.8M699.65 249.92h5.8M708.58 250.21V252.21M705.68 250.21h5.8M705.68 252.21h5.8M714.86 252.54V254.54M711.96 252.54h5.8M711.96 254.54h5.8M721.42 255.41V257.41M718.52 255.41h5.8M718.52 257.41h5.8M728.26 256.73V258.73M725.36 256.73h5.8M725.36 258.73h5.8M735.4 258.95V260.95M732.5 258.95h5.8M732.5 260.95h5.8M740 261.4V265.4M737.1 261.4h5.8M737.1 265.4h5.8M746.9 272.2V276.2M744 272.2h5.8M744 276.2h5.8M756.2 271.2V275.2M753.3 271.2h5.8M753.3 275.2h5.8M765.4 268.3V272.3M762.5 268.3h5.8M762.5 272.3h5.8M775.8 275.9V320.6M772.9 275.9h5.8M772.9 320.6h5.8M787.5 268V278M784.6 268h5.8M784.6 278h5.8M799.3 272.8V290.5M796.4 272.8h5.8M796.4 290.5h5.8M811.4 268V282.2M808.5 268h5.8M808.5 282.2h5.8M824.7 266V278M821.8 266h5.8M821.8 278h5.8M839.5 271V289.4M836.6 271h5.8M836.6 289.4h5.8M855.9 275.9V292M853 275.9h5.8M853 292h5.8" stroke="#77AC30" stroke-width="0.8" stroke-opacity="0.6" fill="none"/><path d="M570.66 124.75a4.2 4.2 0 1 0 8.4 0a4.2 4.2 0 1 0 -8.4 0M571.13 124.73a4.2 4.2 0 1 0 8.4 0a4.2 4.2 0 1 0 -8.4 0M571.61 125.69a4.2 4.2 0 1 0 8.4 0a4.2 4.2 0 1 0 -8.4 0M572.12 125.25a4.2 4.2 0 1 0 8.4 0a4.2 4.2 0 1 0 -8.4 0M572.66 125.55a4.2 4.2 0 1 0 8.4 0a4.2 4.2 0 1 0 -8.4 0M573.21 125.05a4.2 4.2 0 1 0 8.4 0a4.2 4.2 0 1 0 -8.4 0M573.79 125.5a4.2 4.2 0 1 0 8.4 0a4.2 4.2 0 1 0 -8.4 0M574.39 124.67a4.2 4.2 0 1 0 8.4 0a4.2 4.2 0 1 0 -8.4 0M575.03 125.61a4.2 4.2 0 1 0 8.4 0a4.2 4.2 0 1 0 -8.4 0M575.68 125.72a4.2 4.2 0 1 0 8.4 0a4.2 4.2 0 1 0 -8.4 0M576.37 124.78a4.2 4.2 0 1 0 8.4 0a4.2 4.2 0 1 0 -8.4 0M577.09 125.7a4.2 4.2 0 1 0 8.4 0a4.2 4.2 0 1 0 -8.4 0M577.83 124.72a4.2 4.2 0 1 0 8.4 0a4.2 4.2 0 1 0 -8.4 0M578.61 125.23a4.2 4.2 0 1 0 8.4 0a4.2 4.2 0 1 0 -8.4 0M579.43 125.69a4.2 4.2 0 1 0 8.4 0a4.2 4.2 0 1 0 -8.4 0M580.28 125.28a4.2 4.2 0 1 0 8.4 0a4.2 4.2 0 1 0 -8.4 0M581.16 125.43a4.2 4.2 0 1 0 8.4 0a4.2 4.2 0 1 0 -8.4 0M582.09 132.32a4.2 4.2 0 1 0 8.4 0a4.2 4.2 0 1 0 -8.4 0M583.05 138.94a4.2 4.2 0 1 0 8.4 0a4.2 4.2 0 1 0 -8.4 0M584.06 144.89a4.2 4.2 0 1 0 8.4 0a4.2 4.2 0 1 0 -8.4 0M585.11 148.86a4.2 4.2 0 1 0 8.4 0a4.2 4.2 0 1 0 -8.4 0M586.21 153.75a4.2 4.2 0 1 0 8.4 0a4.2 4.2 0 1 0 -8.4 0M587.35 157.09a4.2 4.2 0 1 0 8.4 0a4.2 4.2 0 1 0 -8.4 0M588.55 160.6a4.2 4.2 0 1 0 8.4 0a4.2 4.2 0 1 0 -8.4 0M589.79 164.65a4.2 4.2 0 1 0 8.4 0a4.2 4.2 0 1 0 -8.4 0M591.09 167.98a4.2 4.2 0 1 0 8.4 0a4.2 4.2 0 1 0 -8.4 0M592.45 171.04a4.2 4.2 0 1 0 8.4 0a4.2 4.2 0 1 0 -8.4 0M593.87 173.16a4.2 4.2 0 1 0 8.4 0a4.2 4.2 0 1 0 -8.4 0M595.34 176.08a4.2 4.2 0 1 0 8.4 0a4.2 4.2 0 1 0 -8.4 0M596.89 178.68a4.2 4.2 0 1 0 8.4 0a4.2 4.2 0 1 0 -8.4 0M598.49 180.94a4.2 4.2 0 1 0 8.4 0a4.2 4.2 0 1 0 -8.4 0M600.17 183.67a4.2 4.2 0 1 0 8.4 0a4.2 4.2 0 1 0 -8.4 0M601.93 186.4a4.2 4.2 0 1 0 8.4 0a4.2 4.2 0 1 0 -8.4 0M603.75 188.64a4.2 4.2 0 1 0 8.4 0a4.2 4.2 0 1 0 -8.4 0M605.66 191.03a4.2 4.2 0 1 0 8.4 0a4.2 4.2 0 1 0 -8.4 0M607.65 193.55a4.2 4.2 0 1 0 8.4 0a4.2 4.2 0 1 0 -8.4 0M609.73 195.2a4.2 4.2 0 1 0 8.4 0a4.2 4.2 0 1 0 -8.4 0M611.9 198.15a4.2 4.2 0 1 0 8.4 0a4.2 4.2 0 1 0 -8.4 0M614.16 199.26a4.2 4.2 0 1 0 8.4 0a4.2 4.2 0 1 0 -8.4 0M616.52 201.82a4.2 4.2 0 1 0 8.4 0a4.2 4.2 0 1 0 -8.4 0M618.98 203.77a4.2 4.2 0 1 0 8.4 0a4.2 4.2 0 1 0 -8.4 0M621.55 205.99a4.2 4.2 0 1 0 8.4 0a4.2 4.2 0 1 0 -8.4 0M624.23 208.25a4.2 4.2 0 1 0 8.4 0a4.2 4.2 0 1 0 -8.4 0M627.03 209.63a4.2 4.2 0 1 0 8.4 0a4.2 4.2 0 1 0 -8.4 0M629.95 211.92a4.2 4.2 0 1 0 8.4 0a4.2 4.2 0 1 0 -8.4 0M633 213.83a4.2 4.2 0 1 0 8.4 0a4.2 4.2 0 1 0 -8.4 0M636.18 215.79a4.2 4.2 0 1 0 8.4 0a4.2 4.2 0 1 0 -8.4 0M639.5 217.89a4.2 4.2 0 1 0 8.4 0a4.2 4.2 0 1 0 -8.4 0M642.96 220.7a4.2 4.2 0 1 0 8.4 0a4.2 4.2 0 1 0 -8.4 0M646.57 222.67a4.2 4.2 0 1 0 8.4 0a4.2 4.2 0 1 0 -8.4 0M650.34 225.34a4.2 4.2 0 1 0 8.4 0a4.2 4.2 0 1 0 -8.4 0M654.28 227.57a4.2 4.2 0 1 0 8.4 0a4.2 4.2 0 1 0 -8.4 0M658.38 229.84a4.2 4.2 0 1 0 8.4 0a4.2 4.2 0 1 0 -8.4 0M662.67 231.27a4.2 4.2 0 1 0 8.4 0a4.2 4.2 0 1 0 -8.4 0M667.14 234.51a4.2 4.2 0 1 0 8.4 0a4.2 4.2 0 1 0 -8.4 0M671.8 237.08a4.2 4.2 0 1 0 8.4 0a4.2 4.2 0 1 0 -8.4 0M676.67 238.43a4.2 4.2 0 1 0 8.4 0a4.2 4.2 0 1 0 -8.4 0M681.75 241.79a4.2 4.2 0 1 0 8.4 0a4.2 4.2 0 1 0 -8.4 0M687.05 244.19a4.2 4.2 0 1 0 8.4 0a4.2 4.2 0 1 0 -8.4 0M692.58 246.72a4.2 4.2 0 1 0 8.4 0a4.2 4.2 0 1 0 -8.4 0M698.35 248.92a4.2 4.2 0 1 0 8.4 0a4.2 4.2 0 1 0 -8.4 0M704.38 251.21a4.2 4.2 0 1 0 8.4 0a4.2 4.2 0 1 0 -8.4 0M710.66 253.54a4.2 4.2 0 1 0 8.4 0a4.2 4.2 0 1 0 -8.4 0M717.22 256.41a4.2 4.2 0 1 0 8.4 0a4.2 4.2 0 1 0 -8.4 0M724.06 257.73a4.2 4.2 0 1 0 8.4 0a4.2 4.2 0 1 0 -8.4 0M731.2 259.95a4.2 4.2 0 1 0 8.4 0a4.2 4.2 0 1 0 -8.4 0M735.8 263.4a4.2 4.2 0 1 0 8.4 0a4.2 4.2 0 1 0 -8.4 0M742.7 274.2a4.2 4.2 0 1 0 8.4 0a4.2 4.2 0 1 0 -8.4 0M752 273.2a4.2 4.2 0 1 0 8.4 0a4.2 4.2 0 1 0 -8.4 0M761.2 270.3a4.2 4.2 0 1 0 8.4 0a4.2 4.2 0 1 0 -8.4 0M771.6 283.2a4.2 4.2 0 1 0 8.4 0a4.2 4.2 0 1 0 -8.4 0M783.3 273.2a4.2 4.2 0 1 0 8.4 0a4.2 4.2 0 1 0 -8.4 0M795.1 278a4.2 4.2 0 1 0 8.4 0a4.2 4.2 0 1 0 -8.4 0M807.2 274.5a4.2 4.2 0 1 0 8.4 0a4.2 4.2 0 1 0 -8.4 0M820.5 271.8a4.2 4.2 0 1 0 8.4 0a4.2 4.2 0 1 0 -8.4 0M835.3 276.3a4.2 4.2 0 1 0 8.4 0a4.2 4.2 0 1 0 -8.4 0M851.7 288.4a4.2 4.2 0 1 0 8.4 0a4.2 4.2 0 1 0 -8.4 0" stroke="#77AC30" stroke-width="0.9" fill="none"/>
<path d="M574.86 99.3V101.3M571.96 99.3h5.8M571.96 101.3h5.8M575.33 100.07V102.07M572.43 100.07h5.8M572.43 102.07h5.8M575.81 99.14V101.14M572.91 99.14h5.8M572.91 101.14h5.8M576.32 99.18V101.18M573.42 99.18h5.8M573.42 101.18h5.8M576.86 98.92V100.92M573.96 98.92h5.8M573.96 100.92h5.8M577.41 98.98V100.98M574.51 98.98h5.8M574.51 100.98h5.8M577.99 99.6V101.6M575.09 99.6h5.8M575.09 101.6h5.8M578.59 99.95V101.95M575.69 99.95h5.8M575.69 101.95h5.8M579.23 99.56V101.56M576.33 99.56h5.8M576.33 101.56h5.8M579.88 98.99V100.99M576.98 98.99h5.8M576.98 100.99h5.8M580.57 99.63V101.63M577.67 99.63h5.8M577.67 101.63h5.8M581.29 99.18V101.18M578.39 99.18h5.8M578.39 101.18h5.8M582.03 99.49V101.49M579.13 99.49h5.8M579.13 101.49h5.8M582.81 99.05V101.05M579.91 99.05h5.8M579.91 101.05h5.8M583.63 99.16V101.16M580.73 99.16h5.8M580.73 101.16h5.8M584.48 99.68V101.68M581.58 99.68h5.8M581.58 101.68h5.8M585.36 99.51V101.51M582.46 99.51h5.8M582.46 101.51h5.8M586.29 108.53V110.53M583.39 108.53h5.8M583.39 110.53h5.8M587.25 114.75V116.75M584.35 114.75h5.8M584.35 116.75h5.8M588.26 119.96V121.96M585.36 119.96h5.8M585.36 121.96h5.8M589.31 124.48V126.48M586.41 124.48h5.8M586.41 126.48h5.8M590.41 127.42V129.42M587.51 127.42h5.8M587.51 129.42h5.8M591.55 131.37V133.37M588.65 131.37h5.8M588.65 133.37h5.8M592.75 135.05V137.05M589.85 135.05h5.8M589.85 137.05h5.8M593.99 137.81V139.81M591.09 137.81h5.8M591.09 139.81h5.8M595.29 140.9V142.9M592.39 140.9h5.8M592.39 142.9h5.8M596.65 142.73V144.73M593.75 142.73h5.8M593.75 144.73h5.8M598.07 146.55V148.55M595.17 146.55h5.8M595.17 148.55h5.8M599.54 149.1V151.1M596.64 149.1h5.8M596.64 151.1h5.8M601.09 151.62V153.62M598.19 151.62h5.8M598.19 153.62h5.8M602.69 153.92V155.92M599.79 153.92h5.8M599.79 155.92h5.8M604.37 156.01V158.01M601.47 156.01h5.8M601.47 158.01h5.8M606.13 158.55V160.55M603.23 158.55h5.8M603.23 160.55h5.8M607.95 160.73V162.73M605.05 160.73h5.8M605.05 162.73h5.8M609.86 163.62V165.62M606.96 163.62h5.8M606.96 165.62h5.8M611.85 165.13V167.13M608.95 165.13h5.8M608.95 167.13h5.8M613.93 167.99V169.99M611.03 167.99h5.8M611.03 169.99h5.8M616.1 169.65V171.65M613.2 169.65h5.8M613.2 171.65h5.8M618.36 172.75V174.75M615.46 172.75h5.8M615.46 174.75h5.8M620.72 174.93V176.93M617.82 174.93h5.8M617.82 176.93h5.8M623.18 176.4V178.4M620.28 176.4h5.8M620.28 178.4h5.8M625.75 179.82V181.82M622.85 179.82h5.8M622.85 181.82h5.8M628.43 181.26V183.26M625.53 181.26h5.8M625.53 183.26h5.8M631.23 184.13V186.13M628.33 184.13h5.8M628.33 186.13h5.8M634.15 186.34V188.34M631.25 186.34h5.8M631.25 188.34h5.8M637.2 187.77V189.77M634.3 187.77h5.8M634.3 189.77h5.8M640.38 190.3V192.3M637.48 190.3h5.8M637.48 192.3h5.8M643.7 192.91V194.91M640.8 192.91h5.8M640.8 194.91h5.8M647.16 194.79V196.79M644.26 194.79h5.8M644.26 196.79h5.8M650.77 197.52V199.52M647.87 197.52h5.8M647.87 199.52h5.8M654.54 199.83V201.83M651.64 199.83h5.8M651.64 201.83h5.8M658.48 202.15V204.15M655.58 202.15h5.8M655.58 204.15h5.8M662.58 204.3V206.3M659.68 204.3h5.8M659.68 206.3h5.8M666.87 206.62V208.62M663.97 206.62h5.8M663.97 208.62h5.8M671.34 208.54V210.54M668.44 208.54h5.8M668.44 210.54h5.8M676 210.84V212.84M673.1 210.84h5.8M673.1 212.84h5.8M680.87 213.24V215.24M677.97 213.24h5.8M677.97 215.24h5.8M685.95 215.47V217.47M683.05 215.47h5.8M683.05 217.47h5.8M691.25 217.32V219.32M688.35 217.32h5.8M688.35 219.32h5.8M696.78 220.69V222.69M693.88 220.69h5.8M693.88 222.69h5.8M702.55 222.39V224.39M699.65 222.39h5.8M699.65 224.39h5.8M708.58 225.23V227.23M705.68 225.23h5.8M705.68 227.23h5.8M714.86 227.98V229.98M711.96 227.98h5.8M711.96 229.98h5.8M721.42 230.2V232.2M718.52 230.2h5.8M718.52 232.2h5.8M728.26 232.32V234.32M725.36 232.32h5.8M725.36 234.32h5.8M735.4 234.89V236.89M732.5 234.89h5.8M732.5 236.89h5.8M740 235.4V239.4M737.1 235.4h5.8M737.1 239.4h5.8M747.3 242.1V246.1M744.4 242.1h5.8M744.4 246.1h5.8M756.2 242.1V246.1M753.3 242.1h5.8M753.3 246.1h5.8M765.4 246.9V250.9M762.5 246.9h5.8M762.5 250.9h5.8M775.8 247V257.8M772.9 247h5.8M772.9 257.8h5.8M787.5 247.8V272.8M784.6 247.8h5.8M784.6 272.8h5.8M799.3 245.7V259.3M796.4 245.7h5.8M796.4 259.3h5.8M811.8 241.6V255.1M808.9 241.6h5.8M808.9 255.1h5.8M855.5 249.5V261M852.6 249.5h5.8M852.6 261h5.8M875.7 245.7V298.2M872.8 245.7h5.8M872.8 298.2h5.8M897.5 250.5V266M894.6 250.5h5.8M894.6 266h5.8M920 246.8V262M917.1 246.8h5.8M917.1 262h5.8" stroke="#0072BD" stroke-width="0.8" stroke-opacity="0.6" fill="none"/><path d="M570.66 100.3a4.2 4.2 0 1 0 8.4 0a4.2 4.2 0 1 0 -8.4 0M571.13 101.07a4.2 4.2 0 1 0 8.4 0a4.2 4.2 0 1 0 -8.4 0M571.61 100.14a4.2 4.2 0 1 0 8.4 0a4.2 4.2 0 1 0 -8.4 0M572.12 100.18a4.2 4.2 0 1 0 8.4 0a4.2 4.2 0 1 0 -8.4 0M572.66 99.92a4.2 4.2 0 1 0 8.4 0a4.2 4.2 0 1 0 -8.4 0M573.21 99.98a4.2 4.2 0 1 0 8.4 0a4.2 4.2 0 1 0 -8.4 0M573.79 100.6a4.2 4.2 0 1 0 8.4 0a4.2 4.2 0 1 0 -8.4 0M574.39 100.95a4.2 4.2 0 1 0 8.4 0a4.2 4.2 0 1 0 -8.4 0M575.03 100.56a4.2 4.2 0 1 0 8.4 0a4.2 4.2 0 1 0 -8.4 0M575.68 99.99a4.2 4.2 0 1 0 8.4 0a4.2 4.2 0 1 0 -8.4 0M576.37 100.63a4.2 4.2 0 1 0 8.4 0a4.2 4.2 0 1 0 -8.4 0M577.09 100.18a4.2 4.2 0 1 0 8.4 0a4.2 4.2 0 1 0 -8.4 0M577.83 100.49a4.2 4.2 0 1 0 8.4 0a4.2 4.2 0 1 0 -8.4 0M578.61 100.05a4.2 4.2 0 1 0 8.4 0a4.2 4.2 0 1 0 -8.4 0M579.43 100.16a4.2 4.2 0 1 0 8.4 0a4.2 4.2 0 1 0 -8.4 0M580.28 100.68a4.2 4.2 0 1 0 8.4 0a4.2 4.2 0 1 0 -8.4 0M581.16 100.51a4.2 4.2 0 1 0 8.4 0a4.2 4.2 0 1 0 -8.4 0M582.09 109.53a4.2 4.2 0 1 0 8.4 0a4.2 4.2 0 1 0 -8.4 0M583.05 115.75a4.2 4.2 0 1 0 8.4 0a4.2 4.2 0 1 0 -8.4 0M584.06 120.96a4.2 4.2 0 1 0 8.4 0a4.2 4.2 0 1 0 -8.4 0M585.11 125.48a4.2 4.2 0 1 0 8.4 0a4.2 4.2 0 1 0 -8.4 0M586.21 128.42a4.2 4.2 0 1 0 8.4 0a4.2 4.2 0 1 0 -8.4 0M587.35 132.37a4.2 4.2 0 1 0 8.4 0a4.2 4.2 0 1 0 -8.4 0M588.55 136.05a4.2 4.2 0 1 0 8.4 0a4.2 4.2 0 1 0 -8.4 0M589.79 138.81a4.2 4.2 0 1 0 8.4 0a4.2 4.2 0 1 0 -8.4 0M591.09 141.9a4.2 4.2 0 1 0 8.4 0a4.2 4.2 0 1 0 -8.4 0M592.45 143.73a4.2 4.2 0 1 0 8.4 0a4.2 4.2 0 1 0 -8.4 0M593.87 147.55a4.2 4.2 0 1 0 8.4 0a4.2 4.2 0 1 0 -8.4 0M595.34 150.1a4.2 4.2 0 1 0 8.4 0a4.2 4.2 0 1 0 -8.4 0M596.89 152.62a4.2 4.2 0 1 0 8.4 0a4.2 4.2 0 1 0 -8.4 0M598.49 154.92a4.2 4.2 0 1 0 8.4 0a4.2 4.2 0 1 0 -8.4 0M600.17 157.01a4.2 4.2 0 1 0 8.4 0a4.2 4.2 0 1 0 -8.4 0M601.93 159.55a4.2 4.2 0 1 0 8.4 0a4.2 4.2 0 1 0 -8.4 0M603.75 161.73a4.2 4.2 0 1 0 8.4 0a4.2 4.2 0 1 0 -8.4 0M605.66 164.62a4.2 4.2 0 1 0 8.4 0a4.2 4.2 0 1 0 -8.4 0M607.65 166.13a4.2 4.2 0 1 0 8.4 0a4.2 4.2 0 1 0 -8.4 0M609.73 168.99a4.2 4.2 0 1 0 8.4 0a4.2 4.2 0 1 0 -8.4 0M611.9 170.65a4.2 4.2 0 1 0 8.4 0a4.2 4.2 0 1 0 -8.4 0M614.16 173.75a4.2 4.2 0 1 0 8.4 0a4.2 4.2 0 1 0 -8.4 0M616.52 175.93a4.2 4.2 0 1 0 8.4 0a4.2 4.2 0 1 0 -8.4 0M618.98 177.4a4.2 4.2 0 1 0 8.4 0a4.2 4.2 0 1 0 -8.4 0M621.55 180.82a4.2 4.2 0 1 0 8.4 0a4.2 4.2 0 1 0 -8.4 0M624.23 182.26a4.2 4.2 0 1 0 8.4 0a4.2 4.2 0 1 0 -8.4 0M627.03 185.13a4.2 4.2 0 1 0 8.4 0a4.2 4.2 0 1 0 -8.4 0M629.95 187.34a4.2 4.2 0 1 0 8.4 0a4.2 4.2 0 1 0 -8.4 0M633 188.77a4.2 4.2 0 1 0 8.4 0a4.2 4.2 0 1 0 -8.4 0M636.18 191.3a4.2 4.2 0 1 0 8.4 0a4.2 4.2 0 1 0 -8.4 0M639.5 193.91a4.2 4.2 0 1 0 8.4 0a4.2 4.2 0 1 0 -8.4 0M642.96 195.79a4.2 4.2 0 1 0 8.4 0a4.2 4.2 0 1 0 -8.4 0M646.57 198.52a4.2 4.2 0 1 0 8.4 0a4.2 4.2 0 1 0 -8.4 0M650.34 200.83a4.2 4.2 0 1 0 8.4 0a4.2 4.2 0 1 0 -8.4 0M654.28 203.15a4.2 4.2 0 1 0 8.4 0a4.2 4.2 0 1 0 -8.4 0M658.38 205.3a4.2 4.2 0 1 0 8.4 0a4.2 4.2 0 1 0 -8.4 0M662.67 207.62a4.2 4.2 0 1 0 8.4 0a4.2 4.2 0 1 0 -8.4 0M667.14 209.54a4.2 4.2 0 1 0 8.4 0a4.2 4.2 0 1 0 -8.4 0M671.8 211.84a4.2 4.2 0 1 0 8.4 0a4.2 4.2 0 1 0 -8.4 0M676.67 214.24a4.2 4.2 0 1 0 8.4 0a4.2 4.2 0 1 0 -8.4 0M681.75 216.47a4.2 4.2 0 1 0 8.4 0a4.2 4.2 0 1 0 -8.4 0M687.05 218.32a4.2 4.2 0 1 0 8.4 0a4.2 4.2 0 1 0 -8.4 0M692.58 221.69a4.2 4.2 0 1 0 8.4 0a4.2 4.2 0 1 0 -8.4 0M698.35 223.39a4.2 4.2 0 1 0 8.4 0a4.2 4.2 0 1 0 -8.4 0M704.38 226.23a4.2 4.2 0 1 0 8.4 0a4.2 4.2 0 1 0 -8.4 0M710.66 228.98a4.2 4.2 0 1 0 8.4 0a4.2 4.2 0 1 0 -8.4 0M717.22 231.2a4.2 4.2 0 1 0 8.4 0a4.2 4.2 0 1 0 -8.4 0M724.06 233.32a4.2 4.2 0 1 0 8.4 0a4.2 4.2 0 1 0 -8.4 0M731.2 235.89a4.2 4.2 0 1 0 8.4 0a4.2 4.2 0 1 0 -8.4 0M735.8 237.4a4.2 4.2 0 1 0 8.4 0a4.2 4.2 0 1 0 -8.4 0M743.1 244.1a4.2 4.2 0 1 0 8.4 0a4.2 4.2 0 1 0 -8.4 0M752 244.1a4.2 4.2 0 1 0 8.4 0a4.2 4.2 0 1 0 -8.4 0M761.2 248.9a4.2 4.2 0 1 0 8.4 0a4.2 4.2 0 1 0 -8.4 0M771.6 251.4a4.2 4.2 0 1 0 8.4 0a4.2 4.2 0 1 0 -8.4 0M783.3 254.1a4.2 4.2 0 1 0 8.4 0a4.2 4.2 0 1 0 -8.4 0M795.1 250.9a4.2 4.2 0 1 0 8.4 0a4.2 4.2 0 1 0 -8.4 0M807.6 247.8a4.2 4.2 0 1 0 8.4 0a4.2 4.2 0 1 0 -8.4 0M851.3 257.6a4.2 4.2 0 1 0 8.4 0a4.2 4.2 0 1 0 -8.4 0M871.5 254.5a4.2 4.2 0 1 0 8.4 0a4.2 4.2 0 1 0 -8.4 0M893.3 263a4.2 4.2 0 1 0 8.4 0a4.2 4.2 0 1 0 -8.4 0M915.8 258.6a4.2 4.2 0 1 0 8.4 0a4.2 4.2 0 1 0 -8.4 0" stroke="#0072BD" stroke-width="0.9" fill="none"/>
<path d="M574.86 75.5V77.5M571.96 75.5h5.8M571.96 77.5h5.8M575.33 74.74V76.74M572.43 74.74h5.8M572.43 76.74h5.8M575.81 74.9V76.9M572.91 74.9h5.8M572.91 76.9h5.8M576.32 75.01V77.01M573.42 75.01h5.8M573.42 77.01h5.8M576.86 74.53V76.53M573.96 74.53h5.8M573.96 76.53h5.8M577.41 75.11V77.11M574.51 75.11h5.8M574.51 77.11h5.8M577.99 74.79V76.79M575.09 74.79h5.8M575.09 76.79h5.8M578.59 75.04V77.04M575.69 75.04h5.8M575.69 77.04h5.8M579.23 74.88V76.88M576.33 74.88h5.8M576.33 76.88h5.8M579.88 74.8V76.8M576.98 74.8h5.8M576.98 76.8h5.8M580.57 75.33V77.33M577.67 75.33h5.8M577.67 77.33h5.8M581.29 74.75V76.75M578.39 74.75h5.8M578.39 76.75h5.8M582.03 75.39V77.39M579.13 75.39h5.8M579.13 77.39h5.8M582.81 75.4V77.4M579.91 75.4h5.8M579.91 77.4h5.8M583.63 75.58V77.58M580.73 75.58h5.8M580.73 77.58h5.8M584.48 74.85V76.85M581.58 74.85h5.8M581.58 76.85h5.8M585.36 70.49V72.49M582.46 70.49h5.8M582.46 72.49h5.8M586.29 75.06V77.06M583.39 75.06h5.8M583.39 77.06h5.8M587.25 83.05V85.05M584.35 83.05h5.8M584.35 85.05h5.8M588.26 91V93M585.36 91h5.8M585.36 93h5.8M589.31 96.59V98.59M586.41 96.59h5.8M586.41 98.59h5.8M590.41 101.94V103.94M587.51 101.94h5.8M587.51 103.94h5.8M591.55 107.42V109.42M588.65 107.42h5.8M588.65 109.42h5.8M592.75 111.51V113.51M589.85 111.51h5.8M589.85 113.51h5.8M593.99 114.65V116.65M591.09 114.65h5.8M591.09 116.65h5.8M595.29 117.81V119.81M592.39 117.81h5.8M592.39 119.81h5.8M596.65 120.24V122.24M593.75 120.24h5.8M593.75 122.24h5.8M598.07 122.86V124.86M595.17 122.86h5.8M595.17 124.86h5.8M599.54 124.53V126.53M596.64 124.53h5.8M596.64 126.53h5.8M601.09 127.62V129.62M598.19 127.62h5.8M598.19 129.62h5.8M602.69 129.08V131.08M599.79 129.08h5.8M599.79 131.08h5.8M604.37 130.9V132.9M601.47 130.9h5.8M601.47 132.9h5.8M606.13 133.28V135.28M603.23 133.28h5.8M603.23 135.28h5.8M607.95 134.71V136.71M605.05 134.71h5.8M605.05 136.71h5.8M609.86 137.27V139.27M606.96 137.27h5.8M606.96 139.27h5.8M611.85 138.73V140.73M608.95 138.73h5.8M608.95 140.73h5.8M613.93 140.72V142.72M611.03 140.72h5.8M611.03 142.72h5.8M616.1 142.16V144.16M613.2 142.16h5.8M613.2 144.16h5.8M618.36 144.21V146.21M615.46 144.21h5.8M615.46 146.21h5.8M620.72 146.59V148.59M617.82 146.59h5.8M617.82 148.59h5.8M623.18 147.74V149.74M620.28 147.74h5.8M620.28 149.74h5.8M625.75 150.46V152.46M622.85 150.46h5.8M622.85 152.46h5.8M628.43 152.56V154.56M625.53 152.56h5.8M625.53 154.56h5.8M631.23 154.24V156.24M628.33 154.24h5.8M628.33 156.24h5.8M634.15 156.91V158.91M631.25 156.91h5.8M631.25 158.91h5.8M637.2 159.08V161.08M634.3 159.08h5.8M634.3 161.08h5.8M640.38 161.22V163.22M637.48 161.22h5.8M637.48 163.22h5.8M643.7 163.65V165.65M640.8 163.65h5.8M640.8 165.65h5.8M647.16 165.41V167.41M644.26 165.41h5.8M644.26 167.41h5.8M650.77 167.97V169.97M647.87 167.97h5.8M647.87 169.97h5.8M654.54 169.56V171.56M651.64 169.56h5.8M651.64 171.56h5.8M658.48 172.21V174.21M655.58 172.21h5.8M655.58 174.21h5.8M662.58 175.23V177.23M659.68 175.23h5.8M659.68 177.23h5.8M666.87 177.8V179.8M663.97 177.8h5.8M663.97 179.8h5.8M671.34 179.15V181.15M668.44 179.15h5.8M668.44 181.15h5.8M676 181.85V183.85M673.1 181.85h5.8M673.1 183.85h5.8M680.87 184.46V186.46M677.97 184.46h5.8M677.97 186.46h5.8M685.95 187.47V189.47M683.05 187.47h5.8M683.05 189.47h5.8M691.25 189.39V191.39M688.35 189.39h5.8M688.35 191.39h5.8M696.78 191.24V193.24M693.88 191.24h5.8M693.88 193.24h5.8M702.55 194.48V196.48M699.65 194.48h5.8M699.65 196.48h5.8M708.58 196.97V198.97M705.68 196.97h5.8M705.68 198.97h5.8M714.86 198.67V200.67M711.96 198.67h5.8M711.96 200.67h5.8M721.42 200.6V202.6M718.52 200.6h5.8M718.52 202.6h5.8M728.26 203.51V205.51M725.36 203.51h5.8M725.36 205.51h5.8M735.4 205.91V207.91M732.5 205.91h5.8M732.5 207.91h5.8M740 207.3V211.3M737.1 207.3h5.8M737.1 211.3h5.8M747.9 211.5V215.5M745 211.5h5.8M745 215.5h5.8M757.1 212.9V216.9M754.2 212.9h5.8M754.2 216.9h5.8M766.6 223.3V227.3M763.7 223.3h5.8M763.7 227.3h5.8M777.5 216.3V220.3M774.6 216.3h5.8M774.6 220.3h5.8M788.9 222V236.4M786 222h5.8M786 236.4h5.8M813.3 229.7V251M810.4 229.7h5.8M810.4 251h5.8M827 230.1V257M824.1 230.1h5.8M824.1 257h5.8M842 227.4V243M839.1 227.4h5.8M839.1 243h5.8M878.8 237.9V241.9M875.9 237.9h5.8M875.9 241.9h5.8M924.2 221.8V235M921.3 221.8h5.8M921.3 235h5.8" stroke="#EDB120" stroke-width="0.8" stroke-opacity="0.6" fill="none"/><path d="M570.66 76.5a4.2 4.2 0 1 0 8.4 0a4.2 4.2 0 1 0 -8.4 0M571.13 75.74a4.2 4.2 0 1 0 8.4 0a4.2 4.2 0 1 0 -8.4 0M571.61 75.9a4.2 4.2 0 1 0 8.4 0a4.2 4.2 0 1 0 -8.4 0M572.12 76.01a4.2 4.2 0 1 0 8.4 0a4.2 4.2 0 1 0 -8.4 0M572.66 75.53a4.2 4.2 0 1 0 8.4 0a4.2 4.2 0 1 0 -8.4 0M573.21 76.11a4.2 4.2 0 1 0 8.4 0a4.2 4.2 0 1 0 -8.4 0M573.79 75.79a4.2 4.2 0 1 0 8.4 0a4.2 4.2 0 1 0 -8.4 0M574.39 76.04a4.2 4.2 0 1 0 8.4 0a4.2 4.2 0 1 0 -8.4 0M575.03 75.88a4.2 4.2 0 1 0 8.4 0a4.2 4.2 0 1 0 -8.4 0M575.68 75.8a4.2 4.2 0 1 0 8.4 0a4.2 4.2 0 1 0 -8.4 0M576.37 76.33a4.2 4.2 0 1 0 8.4 0a4.2 4.2 0 1 0 -8.4 0M577.09 75.75a4.2 4.2 0 1 0 8.4 0a4.2 4.2 0 1 0 -8.4 0M577.83 76.39a4.2 4.2 0 1 0 8.4 0a4.2 4.2 0 1 0 -8.4 0M578.61 76.4a4.2 4.2 0 1 0 8.4 0a4.2 4.2 0 1 0 -8.4 0M579.43 76.58a4.2 4.2 0 1 0 8.4 0a4.2 4.2 0 1 0 -8.4 0M580.28 75.85a4.2 4.2 0 1 0 8.4 0a4.2 4.2 0 1 0 -8.4 0M581.16 71.49a4.2 4.2 0 1 0 8.4 0a4.2 4.2 0 1 0 -8.4 0M582.09 76.06a4.2 4.2 0 1 0 8.4 0a4.2 4.2 0 1 0 -8.4 0M583.05 84.05a4.2 4.2 0 1 0 8.4 0a4.2 4.2 0 1 0 -8.4 0M584.06 92a4.2 4.2 0 1 0 8.4 0a4.2 4.2 0 1 0 -8.4 0M585.11 97.59a4.2 4.2 0 1 0 8.4 0a4.2 4.2 0 1 0 -8.4 0M586.21 102.94a4.2 4.2 0 1 0 8.4 0a4.2 4.2 0 1 0 -8.4 0M587.35 108.42a4.2 4.2 0 1 0 8.4 0a4.2 4.2 0 1 0 -8.4 0M588.55 112.51a4.2 4.2 0 1 0 8.4 0a4.2 4.2 0 1 0 -8.4 0M589.79 115.65a4.2 4.2 0 1 0 8.4 0a4.2 4.2 0 1 0 -8.4 0M591.09 118.81a4.2 4.2 0 1 0 8.4 0a4.2 4.2 0 1 0 -8.4 0M592.45 121.24a4.2 4.2 0 1 0 8.4 0a4.2 4.2 0 1 0 -8.4 0M593.87 123.86a4.2 4.2 0 1 0 8.4 0a4.2 4.2 0 1 0 -8.4 0M595.34 125.53a4.2 4.2 0 1 0 8.4 0a4.2 4.2 0 1 0 -8.4 0M596.89 128.62a4.2 4.2 0 1 0 8.4 0a4.2 4.2 0 1 0 -8.4 0M598.49 130.08a4.2 4.2 0 1 0 8.4 0a4.2 4.2 0 1 0 -8.4 0M600.17 131.9a4.2 4.2 0 1 0 8.4 0a4.2 4.2 0 1 0 -8.4 0M601.93 134.28a4.2 4.2 0 1 0 8.4 0a4.2 4.2 0 1 0 -8.4 0M603.75 135.71a4.2 4.2 0 1 0 8.4 0a4.2 4.2 0 1 0 -8.4 0M605.66 138.27a4.2 4.2 0 1 0 8.4 0a4.2 4.2 0 1 0 -8.4 0M607.65 139.73a4.2 4.2 0 1 0 8.4 0a4.2 4.2 0 1 0 -8.4 0M609.73 141.72a4.2 4.2 0 1 0 8.4 0a4.2 4.2 0 1 0 -8.4 0M611.9 143.16a4.2 4.2 0 1 0 8.4 0a4.2 4.2 0 1 0 -8.4 0M614.16 145.21a4.2 4.2 0 1 0 8.4 0a4.2 4.2 0 1 0 -8.4 0M616.52 147.59a4.2 4.2 0 1 0 8.4 0a4.2 4.2 0 1 0 -8.4 0M618.98 148.74a4.2 4.2 0 1 0 8.4 0a4.2 4.2 0 1 0 -8.4 0M621.55 151.46a4.2 4.2 0 1 0 8.4 0a4.2 4.2 0 1 0 -8.4 0M624.23 153.56a4.2 4.2 0 1 0 8.4 0a4.2 4.2 0 1 0 -8.4 0M627.03 155.24a4.2 4.2 0 1 0 8.4 0a4.2 4.2 0 1 0 -8.4 0M629.95 157.91a4.2 4.2 0 1 0 8.4 0a4.2 4.2 0 1 0 -8.4 0M633 160.08a4.2 4.2 0 1 0 8.4 0a4.2 4.2 0 1 0 -8.4 0M636.18 162.22a4.2 4.2 0 1 0 8.4 0a4.2 4.2 0 1 0 -8.4 0M639.5 164.65a4.2 4.2 0 1 0 8.4 0a4.2 4.2 0 1 0 -8.4 0M642.96 166.41a4.2 4.2 0 1 0 8.4 0a4.2 4.2 0 1 0 -8.4 0M646.57 168.97a4.2 4.2 0 1 0 8.4 0a4.2 4.2 0 1 0 -8.4 0M650.34 170.56a4.2 4.2 0 1 0 8.4 0a4.2 4.2 0 1 0 -8.4 0M654.28 173.21a4.2 4.2 0 1 0 8.4 0a4.2 4.2 0 1 0 -8.4 0M658.38 176.23a4.2 4.2 0 1 0 8.4 0a4.2 4.2 0 1 0 -8.4 0M662.67 178.8a4.2 4.2 0 1 0 8.4 0a4.2 4.2 0 1 0 -8.4 0M667.14 180.15a4.2 4.2 0 1 0 8.4 0a4.2 4.2 0 1 0 -8.4 0M671.8 182.85a4.2 4.2 0 1 0 8.4 0a4.2 4.2 0 1 0 -8.4 0M676.67 185.46a4.2 4.2 0 1 0 8.4 0a4.2 4.2 0 1 0 -8.4 0M681.75 188.47a4.2 4.2 0 1 0 8.4 0a4.2 4.2 0 1 0 -8.4 0M687.05 190.39a4.2 4.2 0 1 0 8.4 0a4.2 4.2 0 1 0 -8.4 0M692.58 192.24a4.2 4.2 0 1 0 8.4 0a4.2 4.2 0 1 0 -8.4 0M698.35 195.48a4.2 4.2 0 1 0 8.4 0a4.2 4.2 0 1 0 -8.4 0M704.38 197.97a4.2 4.2 0 1 0 8.4 0a4.2 4.2 0 1 0 -8.4 0M710.66 199.67a4.2 4.2 0 1 0 8.4 0a4.2 4.2 0 1 0 -8.4 0M717.22 201.6a4.2 4.2 0 1 0 8.4 0a4.2 4.2 0 1 0 -8.4 0M724.06 204.51a4.2 4.2 0 1 0 8.4 0a4.2 4.2 0 1 0 -8.4 0M731.2 206.91a4.2 4.2 0 1 0 8.4 0a4.2 4.2 0 1 0 -8.4 0M735.8 209.3a4.2 4.2 0 1 0 8.4 0a4.2 4.2 0 1 0 -8.4 0M743.7 213.5a4.2 4.2 0 1 0 8.4 0a4.2 4.2 0 1 0 -8.4 0M752.9 214.9a4.2 4.2 0 1 0 8.4 0a4.2 4.2 0 1 0 -8.4 0M762.4 225.3a4.2 4.2 0 1 0 8.4 0a4.2 4.2 0 1 0 -8.4 0M773.3 218.3a4.2 4.2 0 1 0 8.4 0a4.2 4.2 0 1 0 -8.4 0M784.7 227.4a4.2 4.2 0 1 0 8.4 0a4.2 4.2 0 1 0 -8.4 0M809.1 247.8a4.2 4.2 0 1 0 8.4 0a4.2 4.2 0 1 0 -8.4 0M822.8 254.1a4.2 4.2 0 1 0 8.4 0a4.2 4.2 0 1 0 -8.4 0M837.8 239.5a4.2 4.2 0 1 0 8.4 0a4.2 4.2 0 1 0 -8.4 0M874.6 239.9a4.2 4.2 0 1 0 8.4 0a4.2 4.2 0 1 0 -8.4 0M920 231.6a4.2 4.2 0 1 0 8.4 0a4.2 4.2 0 1 0 -8.4 0" stroke="#EDB120" stroke-width="0.9" fill="none"/>
<path d="M574.86 50.88V52.88M571.96 50.88h5.8M571.96 52.88h5.8M575.33 50.93V52.93M572.43 50.93h5.8M572.43 52.93h5.8M575.81 51.2V53.2M572.91 51.2h5.8M572.91 53.2h5.8M576.32 50.98V52.98M573.42 50.98h5.8M573.42 52.98h5.8M576.86 50.32V52.32M573.96 50.32h5.8M573.96 52.32h5.8M577.41 50.32V52.32M574.51 50.32h5.8M574.51 52.32h5.8M577.99 50.91V52.91M575.09 50.91h5.8M575.09 52.91h5.8M578.59 50.54V52.54M575.69 50.54h5.8M575.69 52.54h5.8M579.23 50.86V52.86M576.33 50.86h5.8M576.33 52.86h5.8M579.88 50.04V52.04M576.98 50.04h5.8M576.98 52.04h5.8M580.57 50.41V52.41M577.67 50.41h5.8M577.67 52.41h5.8M581.29 51.01V53.01M578.39 51.01h5.8M578.39 53.01h5.8M582.03 50.78V52.78M579.13 50.78h5.8M579.13 52.78h5.8M582.81 50.98V52.98M579.91 50.98h5.8M579.91 52.98h5.8M583.63 50.33V52.33M580.73 50.33h5.8M580.73 52.33h5.8M584.48 50.97V52.97M581.58 50.97h5.8M581.58 52.97h5.8M585.36 53.9V55.9M582.46 53.9h5.8M582.46 55.9h5.8M586.29 60.44V62.44M583.39 60.44h5.8M583.39 62.44h5.8M587.25 65.25V67.25M584.35 65.25h5.8M584.35 67.25h5.8M588.26 70.23V72.23M585.36 70.23h5.8M585.36 72.23h5.8M589.31 74.72V76.72M586.41 74.72h5.8M586.41 76.72h5.8M590.41 78.41V80.41M587.51 78.41h5.8M587.51 80.41h5.8M591.55 81.39V83.39M588.65 81.39h5.8M588.65 83.39h5.8M592.75 84.66V86.66M589.85 84.66h5.8M589.85 86.66h5.8M593.99 87.97V89.97M591.09 87.97h5.8M591.09 89.97h5.8M595.29 90.94V92.94M592.39 90.94h5.8M592.39 92.94h5.8M596.65 94.03V96.03M593.75 94.03h5.8M593.75 96.03h5.8M598.07 96.04V98.04M595.17 96.04h5.8M595.17 98.04h5.8M599.54 98.22V100.22M596.64 98.22h5.8M596.64 100.22h5.8M601.09 100.77V102.77M598.19 100.77h5.8M598.19 102.77h5.8M602.69 103.8V105.8M599.79 103.8h5.8M599.79 105.8h5.8M604.37 106.47V108.47M601.47 106.47h5.8M601.47 108.47h5.8M606.13 108.57V110.57M603.23 108.57h5.8M603.23 110.57h5.8M607.95 111.06V113.06M605.05 111.06h5.8M605.05 113.06h5.8M609.86 112.77V114.77M606.96 112.77h5.8M606.96 114.77h5.8M611.85 115.45V117.45M608.95 115.45h5.8M608.95 117.45h5.8M613.93 118.12V120.12M611.03 118.12h5.8M611.03 120.12h5.8M616.1 119.8V121.8M613.2 119.8h5.8M613.2 121.8h5.8M618.36 122.65V124.65M615.46 122.65h5.8M615.46 124.65h5.8M620.72 124.22V126.22M617.82 124.22h5.8M617.82 126.22h5.8M623.18 126.75V128.75M620.28 126.75h5.8M620.28 128.75h5.8M625.75 128.29V130.29M622.85 128.29h5.8M622.85 130.29h5.8M628.43 130.94V132.94M625.53 130.94h5.8M625.53 132.94h5.8M631.23 132.93V134.93M628.33 132.93h5.8M628.33 134.93h5.8M634.15 135.96V137.96M631.25 135.96h5.8M631.25 137.96h5.8M637.2 138.3V140.3M634.3 138.3h5.8M634.3 140.3h5.8M640.38 140.11V142.11M637.48 140.11h5.8M637.48 142.11h5.8M643.7 141.67V143.67M640.8 141.67h5.8M640.8 143.67h5.8M647.16 144.24V146.24M644.26 144.24h5.8M644.26 146.24h5.8M650.77 146.96V148.96M647.87 146.96h5.8M647.87 148.96h5.8M654.54 149.13V151.13M651.64 149.13h5.8M651.64 151.13h5.8M658.48 151.5V153.5M655.58 151.5h5.8M655.58 153.5h5.8M662.58 152.64V154.64M659.68 152.64h5.8M659.68 154.64h5.8M666.87 155.78V157.78M663.97 155.78h5.8M663.97 157.78h5.8M671.34 157.14V159.14M668.44 157.14h5.8M668.44 159.14h5.8M676 159.04V161.04M673.1 159.04h5.8M673.1 161.04h5.8M680.87 161.93V163.93M677.97 161.93h5.8M677.97 163.93h5.8M685.95 163.88V165.88M683.05 163.88h5.8M683.05 165.88h5.8M691.25 165.58V167.58M688.35 165.58h5.8M688.35 167.58h5.8M696.78 166.92V168.92M693.88 166.92h5.8M693.88 168.92h5.8M702.55 168.96V170.96M699.65 168.96h5.8M699.65 170.96h5.8M708.58 171.56V173.56M705.68 171.56h5.8M705.68 173.56h5.8M714.86 172.67V174.67M711.96 172.67h5.8M711.96 174.67h5.8M721.42 174.79V176.79M718.52 174.79h5.8M718.52 176.79h5.8M728.26 176.74V178.74M725.36 176.74h5.8M725.36 178.74h5.8M735.4 177.65V179.65M732.5 177.65h5.8M732.5 179.65h5.8M740 182.3V186.3M737.1 182.3h5.8M737.1 186.3h5.8M747.9 188.6V192.6M745 188.6h5.8M745 192.6h5.8M757.1 191.3V195.3M754.2 191.3h5.8M754.2 195.3h5.8M766.6 190.7V194.7M763.7 190.7h5.8M763.7 194.7h5.8M777.5 194.2V198.2M774.6 194.2h5.8M774.6 198.2h5.8M788.9 196.9V200.9M786 196.9h5.8M786 200.9h5.8M800.8 205.2V226M797.9 205.2h5.8M797.9 226h5.8M813.3 196.5V200.5M810.4 196.5h5.8M810.4 200.5h5.8M827 199V203M824.1 199h5.8M824.1 203h5.8M842 203V212M839.1 203h5.8M839.1 212h5.8M878.8 204.7V235M875.9 204.7h5.8M875.9 235h5.8M900.7 202V222M897.8 202h5.8M897.8 222h5.8M924.2 193.3V213.5M921.3 193.3h5.8M921.3 213.5h5.8" stroke="#A2142F" stroke-width="0.8" stroke-opacity="0.6" fill="none"/><path d="M570.66 51.88a4.2 4.2 0 1 0 8.4 0a4.2 4.2 0 1 0 -8.4 0M571.13 51.93a4.2 4.2 0 1 0 8.4 0a4.2 4.2 0 1 0 -8.4 0M571.61 52.2a4.2 4.2 0 1 0 8.4 0a4.2 4.2 0 1 0 -8.4 0M572.12 51.98a4.2 4.2 0 1 0 8.4 0a4.2 4.2 0 1 0 -8.4 0M572.66 51.32a4.2 4.2 0 1 0 8.4 0a4.2 4.2 0 1 0 -8.4 0M573.21 51.32a4.2 4.2 0 1 0 8.4 0a4.2 4.2 0 1 0 -8.4 0M573.79 51.91a4.2 4.2 0 1 0 8.4 0a4.2 4.2 0 1 0 -8.4 0M574.39 51.54a4.2 4.2 0 1 0 8.4 0a4.2 4.2 0 1 0 -8.4 0M575.03 51.86a4.2 4.2 0 1 0 8.4 0a4.2 4.2 0 1 0 -8.4 0M575.68 51.04a4.2 4.2 0 1 0 8.4 0a4.2 4.2 0 1 0 -8.4 0M576.37 51.41a4.2 4.2 0 1 0 8.4 0a4.2 4.2 0 1 0 -8.4 0M577.09 52.01a4.2 4.2 0 1 0 8.4 0a4.2 4.2 0 1 0 -8.4 0M577.83 51.78a4.2 4.2 0 1 0 8.4 0a4.2 4.2 0 1 0 -8.4 0M578.61 51.98a4.2 4.2 0 1 0 8.4 0a4.2 4.2 0 1 0 -8.4 0M579.43 51.33a4.2 4.2 0 1 0 8.4 0a4.2 4.2 0 1 0 -8.4 0M580.28 51.97a4.2 4.2 0 1 0 8.4 0a4.2 4.2 0 1 0 -8.4 0M581.16 54.9a4.2 4.2 0 1 0 8.4 0a4.2 4.2 0 1 0 -8.4 0M582.09 61.44a4.2 4.2 0 1 0 8.4 0a4.2 4.2 0 1 0 -8.4 0M583.05 66.25a4.2 4.2 0 1 0 8.4 0a4.2 4.2 0 1 0 -8.4 0M584.06 71.23a4.2 4.2 0 1 0 8.4 0a4.2 4.2 0 1 0 -8.4 0M585.11 75.72a4.2 4.2 0 1 0 8.4 0a4.2 4.2 0 1 0 -8.4 0M586.21 79.41a4.2 4.2 0 1 0 8.4 0a4.2 4.2 0 1 0 -8.4 0M587.35 82.39a4.2 4.2 0 1 0 8.4 0a4.2 4.2 0 1 0 -8.4 0M588.55 85.66a4.2 4.2 0 1 0 8.4 0a4.2 4.2 0 1 0 -8.4 0M589.79 88.97a4.2 4.2 0 1 0 8.4 0a4.2 4.2 0 1 0 -8.4 0M591.09 91.94a4.2 4.2 0 1 0 8.4 0a4.2 4.2 0 1 0 -8.4 0M592.45 95.03a4.2 4.2 0 1 0 8.4 0a4.2 4.2 0 1 0 -8.4 0M593.87 97.04a4.2 4.2 0 1 0 8.4 0a4.2 4.2 0 1 0 -8.4 0M595.34 99.22a4.2 4.2 0 1 0 8.4 0a4.2 4.2 0 1 0 -8.4 0M596.89 101.77a4.2 4.2 0 1 0 8.4 0a4.2 4.2 0 1 0 -8.4 0M598.49 104.8a4.2 4.2 0 1 0 8.4 0a4.2 4.2 0 1 0 -8.4 0M600.17 107.47a4.2 4.2 0 1 0 8.4 0a4.2 4.2 0 1 0 -8.4 0M601.93 109.57a4.2 4.2 0 1 0 8.4 0a4.2 4.2 0 1 0 -8.4 0M603.75 112.06a4.2 4.2 0 1 0 8.4 0a4.2 4.2 0 1 0 -8.4 0M605.66 113.77a4.2 4.2 0 1 0 8.4 0a4.2 4.2 0 1 0 -8.4 0M607.65 116.45a4.2 4.2 0 1 0 8.4 0a4.2 4.2 0 1 0 -8.4 0M609.73 119.12a4.2 4.2 0 1 0 8.4 0a4.2 4.2 0 1 0 -8.4 0M611.9 120.8a4.2 4.2 0 1 0 8.4 0a4.2 4.2 0 1 0 -8.4 0M614.16 123.65a4.2 4.2 0 1 0 8.4 0a4.2 4.2 0 1 0 -8.4 0M616.52 125.22a4.2 4.2 0 1 0 8.4 0a4.2 4.2 0 1 0 -8.4 0M618.98 127.75a4.2 4.2 0 1 0 8.4 0a4.2 4.2 0 1 0 -8.4 0M621.55 129.29a4.2 4.2 0 1 0 8.4 0a4.2 4.2 0 1 0 -8.4 0M624.23 131.94a4.2 4.2 0 1 0 8.4 0a4.2 4.2 0 1 0 -8.4 0M627.03 133.93a4.2 4.2 0 1 0 8.4 0a4.2 4.2 0 1 0 -8.4 0M629.95 136.96a4.2 4.2 0 1 0 8.4 0a4.2 4.2 0 1 0 -8.4 0M633 139.3a4.2 4.2 0 1 0 8.4 0a4.2 4.2 0 1 0 -8.4 0M636.18 141.11a4.2 4.2 0 1 0 8.4 0a4.2 4.2 0 1 0 -8.4 0M639.5 142.67a4.2 4.2 0 1 0 8.4 0a4.2 4.2 0 1 0 -8.4 0M642.96 145.24a4.2 4.2 0 1 0 8.4 0a4.2 4.2 0 1 0 -8.4 0M646.57 147.96a4.2 4.2 0 1 0 8.4 0a4.2 4.2 0 1 0 -8.4 0M650.34 150.13a4.2 4.2 0 1 0 8.4 0a4.2 4.2 0 1 0 -8.4 0M654.28 152.5a4.2 4.2 0 1 0 8.4 0a4.2 4.2 0 1 0 -8.4 0M658.38 153.64a4.2 4.2 0 1 0 8.4 0a4.2 4.2 0 1 0 -8.4 0M662.67 156.78a4.2 4.2 0 1 0 8.4 0a4.2 4.2 0 1 0 -8.4 0M667.14 158.14a4.2 4.2 0 1 0 8.4 0a4.2 4.2 0 1 0 -8.4 0M671.8 160.04a4.2 4.2 0 1 0 8.4 0a4.2 4.2 0 1 0 -8.4 0M676.67 162.93a4.2 4.2 0 1 0 8.4 0a4.2 4.2 0 1 0 -8.4 0M681.75 164.88a4.2 4.2 0 1 0 8.4 0a4.2 4.2 0 1 0 -8.4 0M687.05 166.58a4.2 4.2 0 1 0 8.4 0a4.2 4.2 0 1 0 -8.4 0M692.58 167.92a4.2 4.2 0 1 0 8.4 0a4.2 4.2 0 1 0 -8.4 0M698.35 169.96a4.2 4.2 0 1 0 8.4 0a4.2 4.2 0 1 0 -8.4 0M704.38 172.56a4.2 4.2 0 1 0 8.4 0a4.2 4.2 0 1 0 -8.4 0M710.66 173.67a4.2 4.2 0 1 0 8.4 0a4.2 4.2 0 1 0 -8.4 0M717.22 175.79a4.2 4.2 0 1 0 8.4 0a4.2 4.2 0 1 0 -8.4 0M724.06 177.74a4.2 4.2 0 1 0 8.4 0a4.2 4.2 0 1 0 -8.4 0M731.2 178.65a4.2 4.2 0 1 0 8.4 0a4.2 4.2 0 1 0 -8.4 0M735.8 184.3a4.2 4.2 0 1 0 8.4 0a4.2 4.2 0 1 0 -8.4 0M743.7 190.6a4.2 4.2 0 1 0 8.4 0a4.2 4.2 0 1 0 -8.4 0M752.9 193.3a4.2 4.2 0 1 0 8.4 0a4.2 4.2 0 1 0 -8.4 0M762.4 192.7a4.2 4.2 0 1 0 8.4 0a4.2 4.2 0 1 0 -8.4 0M773.3 196.2a4.2 4.2 0 1 0 8.4 0a4.2 4.2 0 1 0 -8.4 0M784.7 198.9a4.2 4.2 0 1 0 8.4 0a4.2 4.2 0 1 0 -8.4 0M796.6 222.4a4.2 4.2 0 1 0 8.4 0a4.2 4.2 0 1 0 -8.4 0M809.1 198.5a4.2 4.2 0 1 0 8.4 0a4.2 4.2 0 1 0 -8.4 0M822.8 201a4.2 4.2 0 1 0 8.4 0a4.2 4.2 0 1 0 -8.4 0M837.8 208.9a4.2 4.2 0 1 0 8.4 0a4.2 4.2 0 1 0 -8.4 0M874.6 232.2a4.2 4.2 0 1 0 8.4 0a4.2 4.2 0 1 0 -8.4 0M896.5 218.3a4.2 4.2 0 1 0 8.4 0a4.2 4.2 0 1 0 -8.4 0M920 199.5a4.2 4.2 0 1 0 8.4 0a4.2 4.2 0 1 0 -8.4 0" stroke="#A2142F" stroke-width="0.9" fill="none"/>
<path d="M574.0 125.2 584.9 125.2 585.0 126.1 585.1 127.0 585.2 128.3 585.4 129.6 585.6 131.6 585.9 133.5 586.2 135.7 586.5 137.7 586.9 140.2 587.4 143.0 587.9 145.5 588.4 147.8 588.9 150.0 589.9 153.9 590.9 157.3 591.9 160.4 592.9 163.2 594.9 168.1 596.9 172.4 598.9 176.2 601.9 181.2 604.9 185.5 607.9 189.4 609.9 191.8 611.9 194.0 613.9 196.0 615.9 198.0 617.9 199.9 619.9 201.7 621.9 203.4 623.9 205.0 625.9 206.6 627.9 208.1 629.9 209.6 631.9 211.0 633.9 212.4 635.9 213.8 637.9 215.1 639.9 216.4 641.9 217.7 643.9 219.0 645.9 220.2 647.9 221.4 649.9 222.6 651.9 223.8 653.9 225.0 655.9 226.1 657.9 227.2 659.9 228.3 661.9 229.4 663.9 230.5 665.9 231.6 667.9 232.7 669.9 233.7 671.9 234.8 673.9 235.8 675.9 236.8 677.9 237.8 679.9 238.8 681.9 239.8 683.9 240.8 685.9 241.8 687.9 242.7 689.9 243.7 691.9 244.6 693.9 245.5 695.9 246.4 697.9 247.3 699.9 248.1 701.9 249.0 703.9 249.8 705.9 250.6 707.9 251.4 709.9 252.2 711.9 252.9 713.9 253.7 715.9 254.4 717.9 255.1 719.9 255.8 721.9 256.5 723.9 257.1 725.9 257.7 727.9 258.3 729.9 258.9 731.9 259.5 733.9 260.1 735.9 260.6 737.9 261.1 739.9 261.7 741.9 262.1 743.9 262.6 745.9 263.1 747.9 263.5 749.9 263.9 751.9 264.3 753.9 264.7 755.9 265.1 757.9 265.5 759.9 265.8 761.9 266.1 763.9 266.3 765.9 266.5 767.9 266.7 769.9 266.9 771.9 267.1 773.9 267.2 775.9 267.4 777.9 267.5 779.9 267.6 781.9 267.7 783.9 267.9 785.9 268.0 787.9 268.1 789.9 268.2 791.9 268.2 793.9 268.3 795.9 268.4 797.9 268.5 799.9 268.5 801.9 268.6 803.9 268.6 805.9 268.7 807.9 268.7 809.9 268.8 811.9 268.8 813.9 268.9 815.9 268.9 817.9 268.9 819.9 269.0 821.9 269.0 823.9 269.1 825.9 269.1 827.9 269.2 829.9 269.2 831.9 269.2 833.9 269.3 835.9 269.3 837.9 269.3 839.9 269.4 841.9 269.4 843.9 269.5 845.9 269.5 847.9 269.5 849.9 269.6 851.9 269.6 853.9 269.6 855.9 269.6 857.9 269.7 859.9 269.7 861.9 269.7 863.9 269.8 865.9 269.8 867.9 269.8 869.9 269.8 871.9 269.9 873.9 269.9 875.9 269.9 877.9 269.9 879.9 270.0 881.9 270.0 883.9 270.0 885.9 270.0 887.9 270.0 889.9 270.1 891.9 270.1 893.9 270.1 895.9 270.1 897.9 270.1 899.9 270.2 901.9 270.2 903.9 270.2 905.9 270.2 907.9 270.2 909.9 270.2 911.9 270.2 913.9 270.2 915.9 270.2 917.9 270.3 919.9 270.3 921.9 270.3 923.9 270.3 925.9 270.3 927.9 270.3 929.9 270.3 931.9 270.3 933.9 270.3 935.9 270.3 937.9 270.3 938.8 270.3" stroke="#000" stroke-width="1.25" fill="none"/>
<path d="M574.0 100.5 584.9 100.5 585.0 101.9 585.1 103.2 585.2 104.9 585.4 106.4 585.6 108.6 585.9 110.6 586.2 112.7 586.5 114.6 586.9 116.8 587.4 119.4 587.9 121.6 588.4 123.7 588.9 125.6 589.9 129.0 590.9 132.1 591.9 134.9 592.9 137.4 594.9 142.0 596.9 146.0 598.9 149.6 601.9 154.4 604.9 158.7 607.9 162.6 609.9 165.1 611.9 167.4 613.9 169.5 615.9 171.6 617.9 173.6 619.9 175.5 621.9 177.4 623.9 179.1 625.9 180.9 627.9 182.5 629.9 184.1 631.9 185.7 633.9 187.2 635.9 188.7 637.9 190.1 639.9 191.5 641.9 192.8 643.9 194.2 645.9 195.5 647.9 196.7 649.9 198.0 651.9 199.2 653.9 200.4 655.9 201.5 657.9 202.7 659.9 203.8 661.9 204.9 663.9 206.0 665.9 207.1 667.9 208.1 669.9 209.1 671.9 210.1 673.9 211.1 675.9 212.1 677.9 213.1 679.9 214.0 681.9 215.0 683.9 215.9 685.9 216.8 687.9 217.7 689.9 218.6 691.9 219.4 693.9 220.3 695.9 221.2 697.9 222.0 699.9 222.8 701.9 223.6 703.9 224.5 705.9 225.3 707.9 226.1 709.9 226.8 711.9 227.6 713.9 228.4 715.9 229.1 717.9 229.9 719.9 230.6 721.9 231.3 723.9 232.1 725.9 232.8 727.9 233.5 729.9 234.2 731.9 234.9 733.9 235.5 735.9 236.2 737.9 236.8 739.9 237.4 741.9 238.0 743.9 238.6 745.9 239.1 747.9 239.7 749.9 240.2 751.9 240.7 753.9 241.1 755.9 241.6 757.9 242.1 759.9 242.4 761.9 242.7 763.9 242.9 765.9 243.1 767.9 243.3 769.9 243.4 771.9 243.6 773.9 243.7 775.9 243.8 777.9 243.9 779.9 244.0 781.9 244.0 783.9 244.1 785.9 244.2 787.9 244.3 789.9 244.3 791.9 244.4 793.9 244.5 795.9 244.5 797.9 244.6 799.9 244.6 801.9 244.7 803.9 244.7 805.9 244.8 807.9 244.8 809.9 244.9 811.9 244.9 813.9 245.0 815.9 245.0 817.9 245.1 819.9 245.1 821.9 245.2 823.9 245.2 825.9 245.3 827.9 245.3 829.9 245.4 831.9 245.4 833.9 245.5 835.9 245.5 837.9 245.6 839.9 245.6 841.9 245.7 843.9 245.7 845.9 245.7 847.9 245.8 849.9 245.8 851.9 245.9 853.9 245.9 855.9 245.9 857.9 246.0 859.9 246.0 861.9 246.0 863.9 246.1 865.9 246.1 867.9 246.2 869.9 246.2 871.9 246.2 873.9 246.3 875.9 246.3 877.9 246.3 879.9 246.3 881.9 246.4 883.9 246.4 885.9 246.4 887.9 246.5 889.9 246.5 891.9 246.5 893.9 246.5 895.9 246.6 897.9 246.6 899.9 246.6 901.9 246.6 903.9 246.6 905.9 246.7 907.9 246.7 909.9 246.7 911.9 246.7 913.9 246.7 915.9 246.7 917.9 246.7 919.9 246.7 921.9 246.8 923.9 246.8 925.9 246.8 927.9 246.8 929.9 246.8 931.9 246.8 933.9 246.8 935.9 246.8 937.9 246.8 938.8 246.8" stroke="#000" stroke-width="1.25" fill="none"/>
<path d="M574.0 76.0 584.4 76.0 584.5 73.8 584.6 72.6 584.8 71.7 584.9 71.7 585.1 72.6 585.4 74.3 585.7 76.6 586.0 79.1 586.4 82.4 586.9 86.3 587.4 89.9 587.9 93.3 588.4 96.3 589.4 101.6 590.4 106.1 591.4 109.8 592.4 113.0 594.4 118.0 596.4 122.0 598.4 125.2 601.4 129.3 604.4 132.8 607.4 135.9 609.4 137.9 611.4 139.7 613.4 141.5 615.4 143.3 617.4 144.9 619.4 146.6 621.4 148.2 623.4 149.8 625.4 151.3 627.4 152.9 629.4 154.4 631.4 155.9 633.4 157.3 635.4 158.8 637.4 160.2 639.4 161.6 641.4 163.0 643.4 164.3 645.4 165.6 647.4 167.0 649.4 168.2 651.4 169.5 653.4 170.7 655.4 172.0 657.4 173.2 659.4 174.3 661.4 175.5 663.4 176.6 665.4 177.8 667.4 178.9 669.4 179.9 671.4 181.0 673.4 182.0 675.4 183.1 677.4 184.1 679.4 185.1 681.4 186.0 683.4 187.0 685.4 187.9 687.4 188.9 689.4 189.8 691.4 190.7 693.4 191.6 695.4 192.4 697.4 193.3 699.4 194.1 701.4 194.9 703.4 195.8 705.4 196.5 707.4 197.3 709.4 198.1 711.4 198.8 713.4 199.6 715.4 200.3 717.4 201.0 719.4 201.7 721.4 202.4 723.4 203.0 725.4 203.7 727.4 204.3 729.4 204.9 731.4 205.5 733.4 206.1 735.4 206.7 737.4 207.3 739.4 207.8 741.4 208.3 743.4 208.9 745.4 209.4 747.4 209.9 749.4 210.4 751.4 210.8 753.4 211.3 755.4 211.8 757.4 212.2 759.4 212.6 761.4 213.0 763.4 213.3 765.4 213.7 767.4 214.0 769.4 214.3 771.4 214.6 773.4 214.9 775.4 215.2 777.4 215.4 779.4 215.7 781.4 215.9 783.4 216.2 785.4 216.4 787.4 216.6 789.4 216.8 791.4 217.0 793.4 217.1 795.4 217.3 797.4 217.4 799.4 217.5 801.4 217.6 803.4 217.6 805.4 217.7 807.4 217.7 809.4 217.8 811.4 217.8 813.4 217.9 815.4 217.9 817.4 218.0 819.4 218.0 821.4 218.1 823.4 218.1 825.4 218.1 827.4 218.2 829.4 218.2 831.4 218.3 833.4 218.3 835.4 218.3 837.4 218.4 839.4 218.4 841.4 218.5 843.4 218.5 845.4 218.5 847.4 218.6 849.4 218.6 851.4 218.6 853.4 218.7 855.4 218.7 857.4 218.7 859.4 218.7 861.4 218.8 863.4 218.8 865.4 218.8 867.4 218.9 869.4 218.9 871.4 218.9 873.4 218.9 875.4 219.0 877.4 219.0 879.4 219.0 881.4 219.0 883.4 219.0 885.4 219.1 887.4 219.1 889.4 219.1 891.4 219.1 893.4 219.1 895.4 219.1 897.4 219.2 899.4 219.2 901.4 219.2 903.4 219.2 905.4 219.2 907.4 219.2 909.4 219.2 911.4 219.2 913.4 219.2 915.4 219.3 917.4 219.3 919.4 219.3 921.4 219.3 923.4 219.3 925.4 219.3 927.4 219.3 929.4 219.3 931.4 219.3 933.4 219.3 935.4 219.3 937.4 219.3 938.8 219.3" stroke="#000" stroke-width="1.25" fill="none"/>
<path d="M574.0 51.6 584.4 51.6 584.5 52.4 584.6 53.2 584.8 54.5 584.9 55.7 585.1 57.5 585.4 59.3 585.7 61.2 586.0 63.1 586.4 65.3 586.9 67.8 587.4 70.2 587.9 72.3 588.4 74.3 589.4 77.8 590.4 81.0 591.4 83.9 592.4 86.5 594.4 91.1 596.4 95.1 598.4 98.7 601.4 103.6 604.4 107.9 607.4 111.8 609.4 114.2 611.4 116.5 613.4 118.6 615.4 120.7 617.4 122.7 619.4 124.6 621.4 126.5 623.4 128.3 625.4 130.0 627.4 131.7 629.4 133.3 631.4 134.8 633.4 136.4 635.4 137.9 637.4 139.3 639.4 140.7 641.4 142.1 643.4 143.4 645.4 144.7 647.4 145.9 649.4 147.2 651.4 148.4 653.4 149.5 655.4 150.6 657.4 151.7 659.4 152.8 661.4 153.9 663.4 154.9 665.4 155.9 667.4 156.8 669.4 157.8 671.4 158.7 673.4 159.6 675.4 160.4 677.4 161.3 679.4 162.1 681.4 162.9 683.4 163.7 685.4 164.5 687.4 165.3 689.4 166.0 691.4 166.7 693.4 167.4 695.4 168.1 697.4 168.8 699.4 169.4 701.4 170.1 703.4 170.7 705.4 171.3 707.4 171.9 709.4 172.5 711.4 173.1 713.4 173.6 715.4 174.2 717.4 174.7 719.4 175.3 721.4 175.8 723.4 176.3 725.4 176.8 727.4 177.3 729.4 177.7 731.4 178.2 733.4 178.7 735.4 179.1 737.4 179.6 739.4 180.0 741.4 180.4 743.4 180.8 745.4 181.2 747.4 181.6 749.4 182.0 751.4 182.4 753.4 182.8 755.4 183.1 757.4 183.5 759.4 183.8 761.4 184.2 763.4 184.5 765.4 184.9 767.4 185.3 769.4 185.7 771.4 186.1 773.4 186.5 775.4 186.9 777.4 187.3 779.4 187.7 781.4 188.1 783.4 188.5 785.4 188.9 787.4 189.3 789.4 189.6 791.4 190.0 793.4 190.3 795.4 190.6 797.4 190.9 799.4 191.2 801.4 191.5 803.4 191.7 805.4 191.9 807.4 192.2 809.4 192.4 811.4 192.6 813.4 192.9 815.4 193.1 817.4 193.3 819.4 193.5 821.4 193.7 823.4 193.9 825.4 194.1 827.4 194.3 829.4 194.5 831.4 194.7 833.4 194.9 835.4 195.1 837.4 195.2 839.4 195.4 841.4 195.6 843.4 195.7 845.4 195.8 847.4 196.0 849.4 196.1 851.4 196.2 853.4 196.3 855.4 196.4 857.4 196.5 859.4 196.6 861.4 196.7 863.4 196.8 865.4 196.8 867.4 196.9 869.4 196.9 871.4 197.0 873.4 197.0 875.4 197.1 877.4 197.1 879.4 197.2 881.4 197.2 883.4 197.2 885.4 197.3 887.4 197.3 889.4 197.4 891.4 197.4 893.4 197.4 895.4 197.5 897.4 197.5 899.4 197.5 901.4 197.6 903.4 197.6 905.4 197.6 907.4 197.7 909.4 197.7 911.4 197.7 913.4 197.7 915.4 197.8 917.4 197.8 919.4 197.8 921.4 197.8 923.4 197.8 925.4 197.9 927.4 197.9 929.4 197.9 931.4 197.9 933.4 197.9 935.4 197.9 937.4 197.9 938.8 197.9" stroke="#000" stroke-width="1.25" fill="none"/>
<path d="M563.5 320.6V316.3M563.5 27.3V31.6M626.05 320.6V316.3M626.05 27.3V31.6M688.6 320.6V316.3M688.6 27.3V31.6M751.15 320.6V316.3M751.15 27.3V31.6M813.7 320.6V316.3M813.7 27.3V31.6M876.25 320.6V316.3M876.25 27.3V31.6M938.8 320.6V316.3M938.8 27.3V31.6M563.5 313.24h2.5M938.8 313.24h-2.5M563.5 308.94h2.5M938.8 308.94h-2.5M563.5 305.88h2.5M938.8 305.88h-2.5M563.5 303.52h2.5M938.8 303.52h-2.5M563.5 301.58h2.5M938.8 301.58h-2.5M563.5 299.94h2.5M938.8 299.94h-2.5M563.5 298.53h2.5M938.8 298.53h-2.5M563.5 297.28h2.5M938.8 297.28h-2.5M563.5 296.16h2.5M938.8 296.16h-2.5M563.5 288.8h2.5M938.8 288.8h-2.5M563.5 284.5h2.5M938.8 284.5h-2.5M563.5 281.44h2.5M938.8 281.44h-2.5M563.5 279.07h2.5M938.8 279.07h-2.5M563.5 277.14h2.5M938.8 277.14h-2.5M563.5 275.5h2.5M938.8 275.5h-2.5M563.5 274.09h2.5M938.8 274.09h-2.5M563.5 272.84h2.5M938.8 272.84h-2.5M563.5 271.72h4.3M938.8 271.72h-4.3M563.5 264.36h2.5M938.8 264.36h-2.5M563.5 260.06h2.5M938.8 260.06h-2.5M563.5 257h2.5M938.8 257h-2.5M563.5 254.63h2.5M938.8 254.63h-2.5M563.5 252.7h2.5M938.8 252.7h-2.5M563.5 251.06h2.5M938.8 251.06h-2.5M563.5 249.64h2.5M938.8 249.64h-2.5M563.5 248.39h2.5M938.8 248.39h-2.5M563.5 247.28h2.5M938.8 247.28h-2.5M563.5 239.92h2.5M938.8 239.92h-2.5M563.5 235.61h2.5M938.8 235.61h-2.5M563.5 232.56h2.5M938.8 232.56h-2.5M563.5 230.19h2.5M938.8 230.19h-2.5M563.5 228.26h2.5M938.8 228.26h-2.5M563.5 226.62h2.5M938.8 226.62h-2.5M563.5 225.2h2.5M938.8 225.2h-2.5M563.5 223.95h2.5M938.8 223.95h-2.5M563.5 222.83h4.3M938.8 222.83h-4.3M563.5 215.48h2.5M938.8 215.48h-2.5M563.5 211.17h2.5M938.8 211.17h-2.5M563.5 208.12h2.5M938.8 208.12h-2.5M563.5 205.75h2.5M938.8 205.75h-2.5M563.5 203.81h2.5M938.8 203.81h-2.5M563.5 202.18h2.5M938.8 202.18h-2.5M563.5 200.76h2.5M938.8 200.76h-2.5M563.5 199.51h2.5M938.8 199.51h-2.5M563.5 198.39h2.5M938.8 198.39h-2.5M563.5 191.03h2.5M938.8 191.03h-2.5M563.5 186.73h2.5M938.8 186.73h-2.5M563.5 183.68h2.5M938.8 183.68h-2.5M563.5 181.31h2.5M938.8 181.31h-2.5M563.5 179.37h2.5M938.8 179.37h-2.5M563.5 177.74h2.5M938.8 177.74h-2.5M563.5 176.32h2.5M938.8 176.32h-2.5M563.5 175.07h2.5M938.8 175.07h-2.5M563.5 173.95h4.3M938.8 173.95h-4.3M563.5 166.59h2.5M938.8 166.59h-2.5M563.5 162.29h2.5M938.8 162.29h-2.5M563.5 159.23h2.5M938.8 159.23h-2.5M563.5 156.87h2.5M938.8 156.87h-2.5M563.5 154.93h2.5M938.8 154.93h-2.5M563.5 153.29h2.5M938.8 153.29h-2.5M563.5 151.88h2.5M938.8 151.88h-2.5M563.5 150.63h2.5M938.8 150.63h-2.5M563.5 149.51h2.5M938.8 149.51h-2.5M563.5 142.15h2.5M938.8 142.15h-2.5M563.5 137.85h2.5M938.8 137.85h-2.5M563.5 134.79h2.5M938.8 134.79h-2.5M563.5 132.42h2.5M938.8 132.42h-2.5M563.5 130.49h2.5M938.8 130.49h-2.5M563.5 128.85h2.5M938.8 128.85h-2.5M563.5 127.44h2.5M938.8 127.44h-2.5M563.5 126.19h2.5M938.8 126.19h-2.5M563.5 125.07h4.3M938.8 125.07h-4.3M563.5 117.71h2.5M938.8 117.71h-2.5M563.5 113.41h2.5M938.8 113.41h-2.5M563.5 110.35h2.5M938.8 110.35h-2.5M563.5 107.98h2.5M938.8 107.98h-2.5M563.5 106.05h2.5M938.8 106.05h-2.5M563.5 104.41h2.5M938.8 104.41h-2.5M563.5 102.99h2.5M938.8 102.99h-2.5M563.5 101.74h2.5M938.8 101.74h-2.5M563.5 100.62h2.5M938.8 100.62h-2.5M563.5 93.27h2.5M938.8 93.27h-2.5M563.5 88.96h2.5M938.8 88.96h-2.5M563.5 85.91h2.5M938.8 85.91h-2.5M563.5 83.54h2.5M938.8 83.54h-2.5M563.5 81.61h2.5M938.8 81.61h-2.5M563.5 79.97h2.5M938.8 79.97h-2.5M563.5 78.55h2.5M938.8 78.55h-2.5M563.5 77.3h2.5M938.8 77.3h-2.5M563.5 76.18h4.3M938.8 76.18h-4.3M563.5 68.83h2.5M938.8 68.83h-2.5M563.5 64.52h2.5M938.8 64.52h-2.5M563.5 61.47h2.5M938.8 61.47h-2.5M563.5 59.1h2.5M938.8 59.1h-2.5M563.5 57.16h2.5M938.8 57.16h-2.5M563.5 55.53h2.5M938.8 55.53h-2.5M563.5 54.11h2.5M938.8 54.11h-2.5M563.5 52.86h2.5M938.8 52.86h-2.5M563.5 51.74h2.5M938.8 51.74h-2.5M563.5 44.38h2.5M938.8 44.38h-2.5M563.5 40.08h2.5M938.8 40.08h-2.5M563.5 37.03h2.5M938.8 37.03h-2.5M563.5 34.66h2.5M938.8 34.66h-2.5M563.5 32.72h2.5M938.8 32.72h-2.5M563.5 31.09h2.5M938.8 31.09h-2.5M563.5 29.67h2.5M938.8 29.67h-2.5M563.5 28.42h2.5M938.8 28.42h-2.5" stroke="#262626" stroke-width="0.9" fill="none"/>
<rect x="563.5" y="27.3" width="375.3" height="293.3" stroke="#262626" stroke-width="1.1" fill="none"/>
<path d="M577.58 945.54V947.54M574.68 945.54h5.8M574.68 947.54h5.8M577.99 944.61V946.61M575.09 944.61h5.8M575.09 946.61h5.8M578.42 944.86V946.86M575.52 944.86h5.8M575.52 946.86h5.8M578.86 945.47V947.47M575.96 945.47h5.8M575.96 947.47h5.8M579.32 945.6V947.6M576.42 945.6h5.8M576.42 947.6h5.8M579.81 945.79V947.79M576.91 945.79h5.8M576.91 947.79h5.8M580.31 945.24V947.24M577.41 945.24h5.8M577.41 947.24h5.8M580.84 945.38V947.38M577.94 945.38h5.8M577.94 947.38h5.8M581.39 945.78V947.78M578.49 945.78h5.8M578.49 947.78h5.8M581.96 945.31V947.31M579.06 945.31h5.8M579.06 947.31h5.8M582.56 945.2V947.2M579.66 945.2h5.8M579.66 947.2h5.8M583.19 945.03V947.03M580.29 945.03h5.8M580.29 947.03h5.8M583.84 945.58V947.58M580.94 945.58h5.8M580.94 947.58h5.8M584.52 945.35V947.35M581.62 945.35h5.8M581.62 947.35h5.8M585.23 945.56V947.56M582.33 945.56h5.8M582.33 947.56h5.8M585.97 945.65V947.65M583.07 945.65h5.8M583.07 947.65h5.8M586.74 945.17V947.17M583.84 945.17h5.8M583.84 947.17h5.8M587.55 945.55V947.55M584.65 945.55h5.8M584.65 947.55h5.8M588.39 945.52V947.52M585.49 945.52h5.8M585.49 947.52h5.8M589.27 945.28V947.28M586.37 945.28h5.8M586.37 947.28h5.8M590.19 948.92V950.92M587.29 948.92h5.8M587.29 950.92h5.8M591.14 958.03V960.03M588.24 958.03h5.8M588.24 960.03h5.8M592.14 963.11V965.11M589.24 963.11h5.8M589.24 965.11h5.8M593.18 967.8V969.8M590.28 967.8h5.8M590.28 969.8h5.8M594.27 972V974M591.37 972h5.8M591.37 974h5.8M595.4 976.44V978.44M592.5 976.44h5.8M592.5 978.44h5.8M596.59 978.79V980.79M593.69 978.79h5.8M593.69 980.79h5.8M597.82 982.25V984.25M594.92 982.25h5.8M594.92 984.25h5.8M599.11 984.76V986.76M596.21 984.76h5.8M596.21 986.76h5.8M600.46 987.9V989.9M597.56 987.9h5.8M597.56 989.9h5.8M601.86 990.3V992.3M598.96 990.3h5.8M598.96 992.3h5.8M603.32 993.3V995.3M600.42 993.3h5.8M600.42 995.3h5.8M604.85 995.84V997.84M601.95 995.84h5.8M601.95 997.84h5.8M606.44 997.93V999.93M603.54 997.93h5.8M603.54 999.93h5.8M608.11 1000.23V1002.23M605.21 1000.23h5.8M605.21 1002.23h5.8M609.84 1001.97V1003.97M606.94 1001.97h5.8M606.94 1003.97h5.8M611.66 1004.43V1006.43M608.76 1004.43h5.8M608.76 1006.43h5.8M613.55 1007.18V1009.18M610.65 1007.18h5.8M610.65 1009.18h5.8M615.52 1008.95V1010.95M612.62 1008.95h5.8M612.62 1010.95h5.8M617.58 1010.82V1012.82M614.68 1010.82h5.8M614.68 1012.82h5.8M619.72 1013.19V1015.19M616.82 1013.19h5.8M616.82 1015.19h5.8M621.97 1015.88V1017.88M619.07 1015.88h5.8M619.07 1017.88h5.8M624.31 1017.93V1019.93M621.41 1017.93h5.8M621.41 1019.93h5.8M626.75 1020.12V1022.12M623.85 1020.12h5.8M623.85 1022.12h5.8M629.29 1022.02V1024.02M626.39 1022.02h5.8M626.39 1024.02h5.8M631.95 1024.08V1026.08M629.05 1024.08h5.8M629.05 1026.08h5.8M634.72 1026.34V1028.34M631.82 1026.34h5.8M631.82 1028.34h5.8M637.62 1027.6V1029.6M634.72 1027.6h5.8M634.72 1029.6h5.8M640.64 1030.34V1032.34M637.74 1030.34h5.8M637.74 1032.34h5.8M643.79 1031.64V1033.64M640.89 1031.64h5.8M640.89 1033.64h5.8M647.08 1034.5V1036.5M644.18 1034.5h5.8M644.18 1036.5h5.8M650.51 1036.01V1038.01M647.61 1036.01h5.8M647.61 1038.01h5.8M654.09 1038.41V1040.41M651.19 1038.41h5.8M651.19 1040.41h5.8M657.82 1040.19V1042.19M654.92 1040.19h5.8M654.92 1042.19h5.8M661.72 1042.87V1044.87M658.82 1042.87h5.8M658.82 1044.87h5.8M665.79 1044.11V1046.11M662.89 1044.11h5.8M662.89 1046.11h5.8M670.03 1046.36V1048.36M667.13 1046.36h5.8M667.13 1048.36h5.8M674.46 1048.94V1050.94M671.56 1048.94h5.8M671.56 1050.94h5.8M679.09 1050.61V1052.61M676.19 1050.61h5.8M676.19 1052.61h5.8M683.91 1053.77V1055.77M681.01 1053.77h5.8M681.01 1055.77h5.8M688.94 1055.83V1057.83M686.04 1055.83h5.8M686.04 1057.83h5.8M694.2 1057.6V1059.6M691.3 1057.6h5.8M691.3 1059.6h5.8M699.68 1059.96V1061.96M696.78 1059.96h5.8M696.78 1061.96h5.8M705.4 1062.42V1064.42M702.5 1062.42h5.8M702.5 1064.42h5.8M711.36 1064.23V1066.23M708.46 1064.23h5.8M708.46 1066.23h5.8M717.59 1065.86V1067.86M714.69 1065.86h5.8M714.69 1067.86h5.8M724.09 1067.98V1069.98M721.19 1067.98h5.8M721.19 1069.98h5.8M730.87 1070.59V1072.59M727.97 1070.59h5.8M727.97 1072.59h5.8M741 1078.3V1082.3M738.1 1078.3h5.8M738.1 1082.3h5.8M748.7 1076.3V1080.3M745.8 1076.3h5.8M745.8 1080.3h5.8M757.7 1079.8V1083.8M754.8 1079.8h5.8M754.8 1083.8h5.8M766.6 1083.3V1087.3M763.7 1083.3h5.8M763.7 1087.3h5.8M776.4 1083V1093.2M773.5 1083h5.8M773.5 1093.2h5.8M787.9 1088V1109.5M785 1088h5.8M785 1109.5h5.8M812.8 1086V1117.6M809.9 1086h5.8M809.9 1117.6h5.8M825.7 1082.8V1097.4M822.8 1082.8h5.8M822.8 1097.4h5.8M856.5 1080V1093.2M853.6 1080h5.8M853.6 1093.2h5.8M895.7 1086V1099M892.8 1086h5.8M892.8 1099h5.8M919.4 1077V1088.7M916.5 1077h5.8M916.5 1088.7h5.8" stroke="#0072BD" stroke-width="0.8" stroke-opacity="0.6" fill="none"/><path d="M573.38 946.54a4.2 4.2 0 1 0 8.4 0a4.2 4.2 0 1 0 -8.4 0M573.79 945.61a4.2 4.2 0 1 0 8.4 0a4.2 4.2 0 1 0 -8.4 0M574.22 945.86a4.2 4.2 0 1 0 8.4 0a4.2 4.2 0 1 0 -8.4 0M574.66 946.47a4.2 4.2 0 1 0 8.4 0a4.2 4.2 0 1 0 -8.4 0M575.12 946.6a4.2 4.2 0 1 0 8.4 0a4.2 4.2 0 1 0 -8.4 0M575.61 946.79a4.2 4.2 0 1 0 8.4 0a4.2 4.2 0 1 0 -8.4 0M576.11 946.24a4.2 4.2 0 1 0 8.4 0a4.2 4.2 0 1 0 -8.4 0M576.64 946.38a4.2 4.2 0 1 0 8.4 0a4.2 4.2 0 1 0 -8.4 0M577.19 946.78a4.2 4.2 0 1 0 8.4 0a4.2 4.2 0 1 0 -8.4 0M577.76 946.31a4.2 4.2 0 1 0 8.4 0a4.2 4.2 0 1 0 -8.4 0M578.36 946.2a4.2 4.2 0 1 0 8.4 0a4.2 4.2 0 1 0 -8.4 0M578.99 946.03a4.2 4.2 0 1 0 8.4 0a4.2 4.2 0 1 0 -8.4 0M579.64 946.58a4.2 4.2 0 1 0 8.4 0a4.2 4.2 0 1 0 -8.4 0M580.32 946.35a4.2 4.2 0 1 0 8.4 0a4.2 4.2 0 1 0 -8.4 0M581.03 946.56a4.2 4.2 0 1 0 8.4 0a4.2 4.2 0 1 0 -8.4 0M581.77 946.65a4.2 4.2 0 1 0 8.4 0a4.2 4.2 0 1 0 -8.4 0M582.54 946.17a4.2 4.2 0 1 0 8.4 0a4.2 4.2 0 1 0 -8.4 0M583.35 946.55a4.2 4.2 0 1 0 8.4 0a4.2 4.2 0 1 0 -8.4 0M584.19 946.52a4.2 4.2 0 1 0 8.4 0a4.2 4.2 0 1 0 -8.4 0M585.07 946.28a4.2 4.2 0 1 0 8.4 0a4.2 4.2 0 1 0 -8.4 0M585.99 949.92a4.2 4.2 0 1 0 8.4 0a4.2 4.2 0 1 0 -8.4 0M586.94 959.03a4.2 4.2 0 1 0 8.4 0a4.2 4.2 0 1 0 -8.4 0M587.94 964.11a4.2 4.2 0 1 0 8.4 0a4.2 4.2 0 1 0 -8.4 0M588.98 968.8a4.2 4.2 0 1 0 8.4 0a4.2 4.2 0 1 0 -8.4 0M590.07 973a4.2 4.2 0 1 0 8.4 0a4.2 4.2 0 1 0 -8.4 0M591.2 977.44a4.2 4.2 0 1 0 8.4 0a4.2 4.2 0 1 0 -8.4 0M592.39 979.79a4.2 4.2 0 1 0 8.4 0a4.2 4.2 0 1 0 -8.4 0M593.62 983.25a4.2 4.2 0 1 0 8.4 0a4.2 4.2 0 1 0 -8.4 0M594.91 985.76a4.2 4.2 0 1 0 8.4 0a4.2 4.2 0 1 0 -8.4 0M596.26 988.9a4.2 4.2 0 1 0 8.4 0a4.2 4.2 0 1 0 -8.4 0M597.66 991.3a4.2 4.2 0 1 0 8.4 0a4.2 4.2 0 1 0 -8.4 0M599.12 994.3a4.2 4.2 0 1 0 8.4 0a4.2 4.2 0 1 0 -8.4 0M600.65 996.84a4.2 4.2 0 1 0 8.4 0a4.2 4.2 0 1 0 -8.4 0M602.24 998.93a4.2 4.2 0 1 0 8.4 0a4.2 4.2 0 1 0 -8.4 0M603.91 1001.23a4.2 4.2 0 1 0 8.4 0a4.2 4.2 0 1 0 -8.4 0M605.64 1002.97a4.2 4.2 0 1 0 8.4 0a4.2 4.2 0 1 0 -8.4 0M607.46 1005.43a4.2 4.2 0 1 0 8.4 0a4.2 4.2 0 1 0 -8.4 0M609.35 1008.18a4.2 4.2 0 1 0 8.4 0a4.2 4.2 0 1 0 -8.4 0M611.32 1009.95a4.2 4.2 0 1 0 8.4 0a4.2 4.2 0 1 0 -8.4 0M613.38 1011.82a4.2 4.2 0 1 0 8.4 0a4.2 4.2 0 1 0 -8.4 0M615.52 1014.19a4.2 4.2 0 1 0 8.4 0a4.2 4.2 0 1 0 -8.4 0M617.77 1016.88a4.2 4.2 0 1 0 8.4 0a4.2 4.2 0 1 0 -8.4 0M620.11 1018.93a4.2 4.2 0 1 0 8.4 0a4.2 4.2 0 1 0 -8.4 0M622.55 1021.12a4.2 4.2 0 1 0 8.4 0a4.2 4.2 0 1 0 -8.4 0M625.09 1023.02a4.2 4.2 0 1 0 8.4 0a4.2 4.2 0 1 0 -8.4 0M627.75 1025.08a4.2 4.2 0 1 0 8.4 0a4.2 4.2 0 1 0 -8.4 0M630.52 1027.34a4.2 4.2 0 1 0 8.4 0a4.2 4.2 0 1 0 -8.4 0M633.42 1028.6a4.2 4.2 0 1 0 8.4 0a4.2 4.2 0 1 0 -8.4 0M636.44 1031.34a4.2 4.2 0 1 0 8.4 0a4.2 4.2 0 1 0 -8.4 0M639.59 1032.64a4.2 4.2 0 1 0 8.4 0a4.2 4.2 0 1 0 -8.4 0M642.88 1035.5a4.2 4.2 0 1 0 8.4 0a4.2 4.2 0 1 0 -8.4 0M646.31 1037.01a4.2 4.2 0 1 0 8.4 0a4.2 4.2 0 1 0 -8.4 0M649.89 1039.41a4.2 4.2 0 1 0 8.4 0a4.2 4.2 0 1 0 -8.4 0M653.62 1041.19a4.2 4.2 0 1 0 8.4 0a4.2 4.2 0 1 0 -8.4 0M657.52 1043.87a4.2 4.2 0 1 0 8.4 0a4.2 4.2 0 1 0 -8.4 0M661.59 1045.11a4.2 4.2 0 1 0 8.4 0a4.2 4.2 0 1 0 -8.4 0M665.83 1047.36a4.2 4.2 0 1 0 8.4 0a4.2 4.2 0 1 0 -8.4 0M670.26 1049.94a4.2 4.2 0 1 0 8.4 0a4.2 4.2 0 1 0 -8.4 0M674.89 1051.61a4.2 4.2 0 1 0 8.4 0a4.2 4.2 0 1 0 -8.4 0M679.71 1054.77a4.2 4.2 0 1 0 8.4 0a4.2 4.2 0 1 0 -8.4 0M684.74 1056.83a4.2 4.2 0 1 0 8.4 0a4.2 4.2 0 1 0 -8.4 0M690 1058.6a4.2 4.2 0 1 0 8.4 0a4.2 4.2 0 1 0 -8.4 0M695.48 1060.96a4.2 4.2 0 1 0 8.4 0a4.2 4.2 0 1 0 -8.4 0M701.2 1063.42a4.2 4.2 0 1 0 8.4 0a4.2 4.2 0 1 0 -8.4 0M707.16 1065.23a4.2 4.2 0 1 0 8.4 0a4.2 4.2 0 1 0 -8.4 0M713.39 1066.86a4.2 4.2 0 1 0 8.4 0a4.2 4.2 0 1 0 -8.4 0M719.89 1068.98a4.2 4.2 0 1 0 8.4 0a4.2 4.2 0 1 0 -8.4 0M726.67 1071.59a4.2 4.2 0 1 0 8.4 0a4.2 4.2 0 1 0 -8.4 0M736.8 1080.3a4.2 4.2 0 1 0 8.4 0a4.2 4.2 0 1 0 -8.4 0M744.5 1078.3a4.2 4.2 0 1 0 8.4 0a4.2 4.2 0 1 0 -8.4 0M753.5 1081.8a4.2 4.2 0 1 0 8.4 0a4.2 4.2 0 1 0 -8.4 0M762.4 1085.3a4.2 4.2 0 1 0 8.4 0a4.2 4.2 0 1 0 -8.4 0M772.2 1087.4a4.2 4.2 0 1 0 8.4 0a4.2 4.2 0 1 0 -8.4 0M783.7 1092.8a4.2 4.2 0 1 0 8.4 0a4.2 4.2 0 1 0 -8.4 0M808.6 1092.8a4.2 4.2 0 1 0 8.4 0a4.2 4.2 0 1 0 -8.4 0M821.5 1087.4a4.2 4.2 0 1 0 8.4 0a4.2 4.2 0 1 0 -8.4 0M852.3 1085.3a4.2 4.2 0 1 0 8.4 0a4.2 4.2 0 1 0 -8.4 0M891.5 1095.3a4.2 4.2 0 1 0 8.4 0a4.2 4.2 0 1 0 -8.4 0M915.2 1081.8a4.2 4.2 0 1 0 8.4 0a4.2 4.2 0 1 0 -8.4 0" stroke="#0072BD" stroke-width="0.9" fill="none"/>
<path d="M577.58 920.27V922.27M574.68 920.27h5.8M574.68 922.27h5.8M577.99 920.01V922.01M575.09 920.01h5.8M575.09 922.01h5.8M578.42 920.34V922.34M575.52 920.34h5.8M575.52 922.34h5.8M578.86 920.89V922.89M575.96 920.89h5.8M575.96 922.89h5.8M579.32 919.95V921.95M576.42 919.95h5.8M576.42 921.95h5.8M579.81 920.04V922.04M576.91 920.04h5.8M576.91 922.04h5.8M580.31 920.01V922.01M577.41 920.01h5.8M577.41 922.01h5.8M580.84 919.76V921.76M577.94 919.76h5.8M577.94 921.76h5.8M581.39 920.18V922.18M578.49 920.18h5.8M578.49 922.18h5.8M581.96 919.91V921.91M579.06 919.91h5.8M579.06 921.91h5.8M582.56 919.87V921.87M579.66 919.87h5.8M579.66 921.87h5.8M583.19 920.64V922.64M580.29 920.64h5.8M580.29 922.64h5.8M583.84 919.76V921.76M580.94 919.76h5.8M580.94 921.76h5.8M584.52 920.39V922.39M581.62 920.39h5.8M581.62 922.39h5.8M585.23 919.87V921.87M582.33 919.87h5.8M582.33 921.87h5.8M585.97 920.42V922.42M583.07 920.42h5.8M583.07 922.42h5.8M586.74 920.02V922.02M583.84 920.02h5.8M583.84 922.02h5.8M587.55 919.79V921.79M584.65 919.79h5.8M584.65 921.79h5.8M588.39 919.92V921.92M585.49 919.92h5.8M585.49 921.92h5.8M589.27 920.7V922.7M586.37 920.7h5.8M586.37 922.7h5.8M590.19 920.55V922.55M587.29 920.55h5.8M587.29 922.55h5.8M591.14 928V930M588.24 928h5.8M588.24 930h5.8M592.14 934.39V936.39M589.24 934.39h5.8M589.24 936.39h5.8M593.18 940.44V942.44M590.28 940.44h5.8M590.28 942.44h5.8M594.27 946.37V948.37M591.37 946.37h5.8M591.37 948.37h5.8M595.4 949.99V951.99M592.5 949.99h5.8M592.5 951.99h5.8M596.59 954.66V956.66M593.69 954.66h5.8M593.69 956.66h5.8M597.82 957.77V959.77M594.92 957.77h5.8M594.92 959.77h5.8M599.11 960.57V962.57M596.21 960.57h5.8M596.21 962.57h5.8M600.46 963.01V965.01M597.56 963.01h5.8M597.56 965.01h5.8M601.86 964.7V966.7M598.96 964.7h5.8M598.96 966.7h5.8M603.32 967.36V969.36M600.42 967.36h5.8M600.42 969.36h5.8M604.85 969.38V971.38M601.95 969.38h5.8M601.95 971.38h5.8M606.44 971.62V973.62M603.54 971.62h5.8M603.54 973.62h5.8M608.11 974.49V976.49M605.21 974.49h5.8M605.21 976.49h5.8M609.84 976.62V978.62M606.94 976.62h5.8M606.94 978.62h5.8M611.66 978.19V980.19M608.76 978.19h5.8M608.76 980.19h5.8M613.55 980.21V982.21M610.65 980.21h5.8M610.65 982.21h5.8M615.52 982.22V984.22M612.62 982.22h5.8M612.62 984.22h5.8M617.58 984.21V986.21M614.68 984.21h5.8M614.68 986.21h5.8M619.72 986.67V988.67M616.82 986.67h5.8M616.82 988.67h5.8M621.97 989.26V991.26M619.07 989.26h5.8M619.07 991.26h5.8M624.31 991.57V993.57M621.41 991.57h5.8M621.41 993.57h5.8M626.75 993.49V995.49M623.85 993.49h5.8M623.85 995.49h5.8M629.29 995.35V997.35M626.39 995.35h5.8M626.39 997.35h5.8M631.95 997.99V999.99M629.05 997.99h5.8M629.05 999.99h5.8M634.72 1000.32V1002.32M631.82 1000.32h5.8M631.82 1002.32h5.8M637.62 1002.92V1004.92M634.72 1002.92h5.8M634.72 1004.92h5.8M640.64 1005.2V1007.2M637.74 1005.2h5.8M637.74 1007.2h5.8M643.79 1007.61V1009.61M640.89 1007.61h5.8M640.89 1009.61h5.8M647.08 1009.03V1011.03M644.18 1009.03h5.8M644.18 1011.03h5.8M650.51 1011.37V1013.37M647.61 1011.37h5.8M647.61 1013.37h5.8M654.09 1014.25V1016.25M651.19 1014.25h5.8M651.19 1016.25h5.8M657.82 1016.55V1018.55M654.92 1016.55h5.8M654.92 1018.55h5.8M661.72 1018.3V1020.3M658.82 1018.3h5.8M658.82 1020.3h5.8M665.79 1020.56V1022.56M662.89 1020.56h5.8M662.89 1022.56h5.8M670.03 1023.56V1025.56M667.13 1023.56h5.8M667.13 1025.56h5.8M674.46 1024.9V1026.9M671.56 1024.9h5.8M671.56 1026.9h5.8M679.09 1027.71V1029.71M676.19 1027.71h5.8M676.19 1029.71h5.8M683.91 1029.62V1031.62M681.01 1029.62h5.8M681.01 1031.62h5.8M688.94 1032.14V1034.14M686.04 1032.14h5.8M686.04 1034.14h5.8M694.2 1033.94V1035.94M691.3 1033.94h5.8M691.3 1035.94h5.8M699.68 1035.4V1037.4M696.78 1035.4h5.8M696.78 1037.4h5.8M705.4 1037.59V1039.59M702.5 1037.59h5.8M702.5 1039.59h5.8M711.36 1040.6V1042.6M708.46 1040.6h5.8M708.46 1042.6h5.8M717.59 1042.11V1044.11M714.69 1042.11h5.8M714.69 1044.11h5.8M724.09 1044.58V1046.58M721.19 1044.58h5.8M721.19 1046.58h5.8M730.87 1046.47V1048.47M727.97 1046.47h5.8M727.97 1048.47h5.8M741 1047.1V1051.1M738.1 1047.1h5.8M738.1 1051.1h5.8M748.7 1050.7V1054.7M745.8 1050.7h5.8M745.8 1054.7h5.8M757.7 1054.8V1058.8M754.8 1054.8h5.8M754.8 1058.8h5.8M766.6 1057.3V1061.3M763.7 1057.3h5.8M763.7 1061.3h5.8M776.4 1063.8V1067.8M773.5 1063.8h5.8M773.5 1067.8h5.8M787.9 1061.1V1065.1M785 1061.1h5.8M785 1065.1h5.8M800.4 1065.2V1069.2M797.5 1065.2h5.8M797.5 1069.2h5.8M812.8 1066V1081.8M809.9 1066h5.8M809.9 1081.8h5.8M840.3 1068.7V1080M837.4 1068.7h5.8M837.4 1080h5.8M856.5 1063.7V1074.9M853.6 1063.7h5.8M853.6 1074.9h5.8M874.9 1070.4V1079M872 1070.4h5.8M872 1079h5.8M895.7 1070.4V1079M892.8 1070.4h5.8M892.8 1079h5.8" stroke="#A2142F" stroke-width="0.8" stroke-opacity="0.6" fill="none"/><path d="M573.38 921.27a4.2 4.2 0 1 0 8.4 0a4.2 4.2 0 1 0 -8.4 0M573.79 921.01a4.2 4.2 0 1 0 8.4 0a4.2 4.2 0 1 0 -8.4 0M574.22 921.34a4.2 4.2 0 1 0 8.4 0a4.2 4.2 0 1 0 -8.4 0M574.66 921.89a4.2 4.2 0 1 0 8.4 0a4.2 4.2 0 1 0 -8.4 0M575.12 920.95a4.2 4.2 0 1 0 8.4 0a4.2 4.2 0 1 0 -8.4 0M575.61 921.04a4.2 4.2 0 1 0 8.4 0a4.2 4.2 0 1 0 -8.4 0M576.11 921.01a4.2 4.2 0 1 0 8.4 0a4.2 4.2 0 1 0 -8.4 0M576.64 920.76a4.2 4.2 0 1 0 8.4 0a4.2 4.2 0 1 0 -8.4 0M577.19 921.18a4.2 4.2 0 1 0 8.4 0a4.2 4.2 0 1 0 -8.4 0M577.76 920.91a4.2 4.2 0 1 0 8.4 0a4.2 4.2 0 1 0 -8.4 0M578.36 920.87a4.2 4.2 0 1 0 8.4 0a4.2 4.2 0 1 0 -8.4 0M578.99 921.64a4.2 4.2 0 1 0 8.4 0a4.2 4.2 0 1 0 -8.4 0M579.64 920.76a4.2 4.2 0 1 0 8.4 0a4.2 4.2 0 1 0 -8.4 0M580.32 921.39a4.2 4.2 0 1 0 8.4 0a4.2 4.2 0 1 0 -8.4 0M581.03 920.87a4.2 4.2 0 1 0 8.4 0a4.2 4.2 0 1 0 -8.4 0M581.77 921.42a4.2 4.2 0 1 0 8.4 0a4.2 4.2 0 1 0 -8.4 0M582.54 921.02a4.2 4.2 0 1 0 8.4 0a4.2 4.2 0 1 0 -8.4 0M583.35 920.79a4.2 4.2 0 1 0 8.4 0a4.2 4.2 0 1 0 -8.4 0M584.19 920.92a4.2 4.2 0 1 0 8.4 0a4.2 4.2 0 1 0 -8.4 0M585.07 921.7a4.2 4.2 0 1 0 8.4 0a4.2 4.2 0 1 0 -8.4 0M585.99 921.55a4.2 4.2 0 1 0 8.4 0a4.2 4.2 0 1 0 -8.4 0M586.94 929a4.2 4.2 0 1 0 8.4 0a4.2 4.2 0 1 0 -8.4 0M587.94 935.39a4.2 4.2 0 1 0 8.4 0a4.2 4.2 0 1 0 -8.4 0M588.98 941.44a4.2 4.2 0 1 0 8.4 0a4.2 4.2 0 1 0 -8.4 0M590.07 947.37a4.2 4.2 0 1 0 8.4 0a4.2 4.2 0 1 0 -8.4 0M591.2 950.99a4.2 4.2 0 1 0 8.4 0a4.2 4.2 0 1 0 -8.4 0M592.39 955.66a4.2 4.2 0 1 0 8.4 0a4.2 4.2 0 1 0 -8.4 0M593.62 958.77a4.2 4.2 0 1 0 8.4 0a4.2 4.2 0 1 0 -8.4 0M594.91 961.57a4.2 4.2 0 1 0 8.4 0a4.2 4.2 0 1 0 -8.4 0M596.26 964.01a4.2 4.2 0 1 0 8.4 0a4.2 4.2 0 1 0 -8.4 0M597.66 965.7a4.2 4.2 0 1 0 8.4 0a4.2 4.2 0 1 0 -8.4 0M599.12 968.36a4.2 4.2 0 1 0 8.4 0a4.2 4.2 0 1 0 -8.4 0M600.65 970.38a4.2 4.2 0 1 0 8.4 0a4.2 4.2 0 1 0 -8.4 0M602.24 972.62a4.2 4.2 0 1 0 8.4 0a4.2 4.2 0 1 0 -8.4 0M603.91 975.49a4.2 4.2 0 1 0 8.4 0a4.2 4.2 0 1 0 -8.4 0M605.64 977.62a4.2 4.2 0 1 0 8.4 0a4.2 4.2 0 1 0 -8.4 0M607.46 979.19a4.2 4.2 0 1 0 8.4 0a4.2 4.2 0 1 0 -8.4 0M609.35 981.21a4.2 4.2 0 1 0 8.4 0a4.2 4.2 0 1 0 -8.4 0M611.32 983.22a4.2 4.2 0 1 0 8.4 0a4.2 4.2 0 1 0 -8.4 0M613.38 985.21a4.2 4.2 0 1 0 8.4 0a4.2 4.2 0 1 0 -8.4 0M615.52 987.67a4.2 4.2 0 1 0 8.4 0a4.2 4.2 0 1 0 -8.4 0M617.77 990.26a4.2 4.2 0 1 0 8.4 0a4.2 4.2 0 1 0 -8.4 0M620.11 992.57a4.2 4.2 0 1 0 8.4 0a4.2 4.2 0 1 0 -8.4 0M622.55 994.49a4.2 4.2 0 1 0 8.4 0a4.2 4.2 0 1 0 -8.4 0M625.09 996.35a4.2 4.2 0 1 0 8.4 0a4.2 4.2 0 1 0 -8.4 0M627.75 998.99a4.2 4.2 0 1 0 8.4 0a4.2 4.2 0 1 0 -8.4 0M630.52 1001.32a4.2 4.2 0 1 0 8.4 0a4.2 4.2 0 1 0 -8.4 0M633.42 1003.92a4.2 4.2 0 1 0 8.4 0a4.2 4.2 0 1 0 -8.4 0M636.44 1006.2a4.2 4.2 0 1 0 8.4 0a4.2 4.2 0 1 0 -8.4 0M639.59 1008.61a4.2 4.2 0 1 0 8.4 0a4.2 4.2 0 1 0 -8.4 0M642.88 1010.03a4.2 4.2 0 1 0 8.4 0a4.2 4.2 0 1 0 -8.4 0M646.31 1012.37a4.2 4.2 0 1 0 8.4 0a4.2 4.2 0 1 0 -8.4 0M649.89 1015.25a4.2 4.2 0 1 0 8.4 0a4.2 4.2 0 1 0 -8.4 0M653.62 1017.55a4.2 4.2 0 1 0 8.4 0a4.2 4.2 0 1 0 -8.4 0M657.52 1019.3a4.2 4.2 0 1 0 8.4 0a4.2 4.2 0 1 0 -8.4 0M661.59 1021.56a4.2 4.2 0 1 0 8.4 0a4.2 4.2 0 1 0 -8.4 0M665.83 1024.56a4.2 4.2 0 1 0 8.4 0a4.2 4.2 0 1 0 -8.4 0M670.26 1025.9a4.2 4.2 0 1 0 8.4 0a4.2 4.2 0 1 0 -8.4 0M674.89 1028.71a4.2 4.2 0 1 0 8.4 0a4.2 4.2 0 1 0 -8.4 0M679.71 1030.62a4.2 4.2 0 1 0 8.4 0a4.2 4.2 0 1 0 -8.4 0M684.74 1033.14a4.2 4.2 0 1 0 8.4 0a4.2 4.2 0 1 0 -8.4 0M690 1034.94a4.2 4.2 0 1 0 8.4 0a4.2 4.2 0 1 0 -8.4 0M695.48 1036.4a4.2 4.2 0 1 0 8.4 0a4.2 4.2 0 1 0 -8.4 0M701.2 1038.59a4.2 4.2 0 1 0 8.4 0a4.2 4.2 0 1 0 -8.4 0M707.16 1041.6a4.2 4.2 0 1 0 8.4 0a4.2 4.2 0 1 0 -8.4 0M713.39 1043.11a4.2 4.2 0 1 0 8.4 0a4.2 4.2 0 1 0 -8.4 0M719.89 1045.58a4.2 4.2 0 1 0 8.4 0a4.2 4.2 0 1 0 -8.4 0M726.67 1047.47a4.2 4.2 0 1 0 8.4 0a4.2 4.2 0 1 0 -8.4 0M736.8 1049.1a4.2 4.2 0 1 0 8.4 0a4.2 4.2 0 1 0 -8.4 0M744.5 1052.7a4.2 4.2 0 1 0 8.4 0a4.2 4.2 0 1 0 -8.4 0M753.5 1056.8a4.2 4.2 0 1 0 8.4 0a4.2 4.2 0 1 0 -8.4 0M762.4 1059.3a4.2 4.2 0 1 0 8.4 0a4.2 4.2 0 1 0 -8.4 0M772.2 1065.8a4.2 4.2 0 1 0 8.4 0a4.2 4.2 0 1 0 -8.4 0M783.7 1063.1a4.2 4.2 0 1 0 8.4 0a4.2 4.2 0 1 0 -8.4 0M796.2 1067.2a4.2 4.2 0 1 0 8.4 0a4.2 4.2 0 1 0 -8.4 0M808.6 1071.4a4.2 4.2 0 1 0 8.4 0a4.2 4.2 0 1 0 -8.4 0M836.1 1076.2a4.2 4.2 0 1 0 8.4 0a4.2 4.2 0 1 0 -8.4 0M852.3 1067.9a4.2 4.2 0 1 0 8.4 0a4.2 4.2 0 1 0 -8.4 0M870.7 1074.9a4.2 4.2 0 1 0 8.4 0a4.2 4.2 0 1 0 -8.4 0M891.5 1074.9a4.2 4.2 0 1 0 8.4 0a4.2 4.2 0 1 0 -8.4 0" stroke="#A2142F" stroke-width="0.9" fill="none"/>
<path d="M576.6 946.2 589.3 946.2 589.4 947.8 589.5 949.2 589.6 951.0 589.8 952.7 590.0 955.0 590.3 957.1 590.6 959.3 590.9 961.2 591.3 963.5 591.8 966.0 592.3 968.2 592.8 970.2 593.3 972.1 594.3 975.4 595.3 978.3 596.3 980.9 597.3 983.3 599.3 987.6 601.3 991.4 603.3 994.8 606.3 999.3 609.3 1003.3 612.3 1007.0 614.3 1009.2 616.3 1011.4 618.3 1013.4 620.3 1015.3 622.3 1017.2 624.3 1019.0 626.3 1020.7 628.3 1022.3 630.3 1023.9 632.3 1025.5 634.3 1027.0 636.3 1028.4 638.3 1029.8 640.3 1031.2 642.3 1032.5 644.3 1033.8 646.3 1035.1 648.3 1036.3 650.3 1037.5 652.3 1038.7 654.3 1039.8 656.3 1041.0 658.3 1042.1 660.3 1043.1 662.3 1044.2 664.3 1045.2 666.3 1046.2 668.3 1047.2 670.3 1048.2 672.3 1049.2 674.3 1050.1 676.3 1051.1 678.3 1052.0 680.3 1052.9 682.3 1053.8 684.3 1054.6 686.3 1055.5 688.3 1056.3 690.3 1057.2 692.3 1058.0 694.3 1058.8 696.3 1059.6 698.3 1060.4 700.3 1061.1 702.3 1061.9 704.3 1062.7 706.3 1063.4 708.3 1064.1 710.3 1064.9 712.3 1065.6 714.3 1066.3 716.3 1067.0 718.3 1067.7 720.3 1068.4 722.3 1069.0 724.3 1069.7 726.3 1070.4 728.3 1071.0 730.3 1071.7 732.3 1072.3 734.3 1072.9 736.3 1073.5 738.3 1074.2 740.3 1074.8 742.3 1075.4 744.3 1076.0 746.3 1076.6 748.3 1077.2 750.3 1077.7 752.3 1078.3 754.3 1078.9 756.3 1079.4 758.3 1079.9 760.3 1080.5 762.3 1081.0 764.3 1081.5 766.3 1082.1 768.3 1082.6 770.3 1083.2 772.3 1083.7 774.3 1084.3 776.3 1084.8 778.3 1085.4 780.3 1085.9 782.3 1086.3 784.3 1086.8 786.3 1087.2 788.3 1087.5 790.3 1087.8 792.3 1088.0 794.3 1088.2 796.3 1088.4 798.3 1088.6 800.3 1088.8 802.3 1089.0 804.3 1089.1 806.3 1089.3 808.3 1089.4 810.3 1089.6 812.3 1089.7 814.3 1089.8 816.3 1090.0 818.3 1090.1 820.3 1090.2 822.3 1090.3 824.3 1090.4 826.3 1090.5 828.3 1090.6 830.3 1090.7 832.3 1090.8 834.3 1090.9 836.3 1090.9 838.3 1091.0 840.3 1091.1 842.3 1091.1 844.3 1091.2 846.3 1091.3 848.3 1091.3 850.3 1091.4 852.3 1091.5 854.3 1091.5 856.3 1091.6 858.3 1091.6 860.3 1091.7 862.3 1091.8 864.3 1091.8 866.3 1091.9 868.3 1091.9 870.3 1092.0 872.3 1092.1 874.3 1092.1 876.3 1092.2 878.3 1092.2 880.3 1092.3 882.3 1092.3 884.3 1092.4 886.3 1092.4 888.3 1092.5 890.3 1092.5 892.3 1092.6 894.3 1092.6 896.3 1092.7 898.3 1092.7 900.3 1092.7 902.3 1092.8 904.3 1092.8 906.3 1092.9 908.3 1092.9 910.3 1092.9 912.3 1093.0 914.3 1093.0 916.3 1093.0 918.3 1093.0 920.3 1093.1 922.3 1093.1 924.3 1093.1 926.3 1093.1 928.3 1093.1 930.3 1093.2 932.3 1093.2 934.3 1093.2 936.3 1093.2 938.3 1093.2 940.3 1093.2 942.3 1093.2 942.9 1093.2" stroke="#000" stroke-width="1.25" fill="none"/>
<path d="M576.6 921.3 589.3 921.3 589.4 921.1 589.5 921.2 589.6 921.8 589.8 922.8 590.0 924.6 590.3 926.6 590.6 929.0 590.9 931.3 591.3 934.2 591.8 937.5 592.3 940.5 592.8 943.1 593.3 945.5 594.3 949.7 595.3 953.1 596.3 956.1 597.3 958.6 599.3 962.8 601.3 966.3 603.3 969.3 606.3 973.4 609.3 977.1 612.3 980.5 614.3 982.7 616.3 984.8 618.3 986.9 620.3 988.9 622.3 990.8 624.3 992.7 626.3 994.5 628.3 996.3 630.3 998.1 632.3 999.8 634.3 1001.4 636.3 1003.0 638.3 1004.6 640.3 1006.1 642.3 1007.5 644.3 1009.0 646.3 1010.3 648.3 1011.7 650.3 1013.0 652.3 1014.3 654.3 1015.5 656.3 1016.7 658.3 1017.9 660.3 1019.1 662.3 1020.2 664.3 1021.3 666.3 1022.4 668.3 1023.4 670.3 1024.4 672.3 1025.4 674.3 1026.4 676.3 1027.4 678.3 1028.3 680.3 1029.2 682.3 1030.1 684.3 1031.0 686.3 1031.8 688.3 1032.7 690.3 1033.5 692.3 1034.3 694.3 1035.1 696.3 1035.9 698.3 1036.6 700.3 1037.4 702.3 1038.1 704.3 1038.8 706.3 1039.5 708.3 1040.2 710.3 1040.9 712.3 1041.5 714.3 1042.2 716.3 1042.8 718.3 1043.4 720.3 1044.0 722.3 1044.6 724.3 1045.2 726.3 1045.8 728.3 1046.4 730.3 1047.0 732.3 1047.5 734.3 1048.0 736.3 1048.6 738.3 1049.1 740.3 1049.6 742.3 1050.1 744.3 1050.6 746.3 1051.1 748.3 1051.5 750.3 1052.0 752.3 1052.4 754.3 1052.9 756.3 1053.3 758.3 1053.7 760.3 1054.2 762.3 1054.6 764.3 1055.1 766.3 1055.6 768.3 1056.1 770.3 1056.7 772.3 1057.3 774.3 1057.8 776.3 1058.4 778.3 1059.0 780.3 1059.5 782.3 1060.1 784.3 1060.6 786.3 1061.0 788.3 1061.4 790.3 1061.8 792.3 1062.0 794.3 1062.3 796.3 1062.5 798.3 1062.8 800.3 1063.0 802.3 1063.2 804.3 1063.5 806.3 1063.7 808.3 1063.9 810.3 1064.1 812.3 1064.3 814.3 1064.5 816.3 1064.7 818.3 1064.8 820.3 1065.0 822.3 1065.1 824.3 1065.3 826.3 1065.4 828.3 1065.6 830.3 1065.7 832.3 1065.8 834.3 1065.9 836.3 1066.0 838.3 1066.0 840.3 1066.1 842.3 1066.2 844.3 1066.2 846.3 1066.2 848.3 1066.3 850.3 1066.3 852.3 1066.4 854.3 1066.4 856.3 1066.4 858.3 1066.5 860.3 1066.5 862.3 1066.5 864.3 1066.6 866.3 1066.6 868.3 1066.6 870.3 1066.7 872.3 1066.7 874.3 1066.7 876.3 1066.7 878.3 1066.8 880.3 1066.8 882.3 1066.8 884.3 1066.8 886.3 1066.9 888.3 1066.9 890.3 1066.9 892.3 1066.9 894.3 1067.0 896.3 1067.0 898.3 1067.0 900.3 1067.0 902.3 1067.0 904.3 1067.0 906.3 1067.1 908.3 1067.1 910.3 1067.1 912.3 1067.1 914.3 1067.1 916.3 1067.1 918.3 1067.1 920.3 1067.1 922.3 1067.2 924.3 1067.2 926.3 1067.2 928.3 1067.2 930.3 1067.2 932.3 1067.2 934.3 1067.2 936.3 1067.2 938.3 1067.2 940.3 1067.2 942.3 1067.2 942.9 1067.2" stroke="#000" stroke-width="1.25" fill="none"/>
<path d="M567.6 1142.5V1138.2M567.6 847.7V852M630.15 1142.5V1138.2M630.15 847.7V852M692.7 1142.5V1138.2M692.7 847.7V852M755.25 1142.5V1138.2M755.25 847.7V852M817.8 1142.5V1138.2M817.8 847.7V852M880.35 1142.5V1138.2M880.35 847.7V852M942.9 1142.5V1138.2M942.9 847.7V852M567.6 1135.1h2.5M942.9 1135.1h-2.5M567.6 1130.78h2.5M942.9 1130.78h-2.5M567.6 1127.71h2.5M942.9 1127.71h-2.5M567.6 1125.33h2.5M942.9 1125.33h-2.5M567.6 1123.38h2.5M942.9 1123.38h-2.5M567.6 1121.74h2.5M942.9 1121.74h-2.5M567.6 1120.31h2.5M942.9 1120.31h-2.5M567.6 1119.06h2.5M942.9 1119.06h-2.5M567.6 1117.93h2.5M942.9 1117.93h-2.5M567.6 1110.54h2.5M942.9 1110.54h-2.5M567.6 1106.21h2.5M942.9 1106.21h-2.5M567.6 1103.14h2.5M942.9 1103.14h-2.5M567.6 1100.76h2.5M942.9 1100.76h-2.5M567.6 1098.82h2.5M942.9 1098.82h-2.5M567.6 1097.17h2.5M942.9 1097.17h-2.5M567.6 1095.75h2.5M942.9 1095.75h-2.5M567.6 1094.49h2.5M942.9 1094.49h-2.5M567.6 1093.37h4.3M942.9 1093.37h-4.3M567.6 1085.97h2.5M942.9 1085.97h-2.5M567.6 1081.65h2.5M942.9 1081.65h-2.5M567.6 1078.58h2.5M942.9 1078.58h-2.5M567.6 1076.2h2.5M942.9 1076.2h-2.5M567.6 1074.25h2.5M942.9 1074.25h-2.5M567.6 1072.61h2.5M942.9 1072.61h-2.5M567.6 1071.18h2.5M942.9 1071.18h-2.5M567.6 1069.92h2.5M942.9 1069.92h-2.5M567.6 1068.8h2.5M942.9 1068.8h-2.5M567.6 1061.4h2.5M942.9 1061.4h-2.5M567.6 1057.08h2.5M942.9 1057.08h-2.5M567.6 1054.01h2.5M942.9 1054.01h-2.5M567.6 1051.63h2.5M942.9 1051.63h-2.5M567.6 1049.68h2.5M942.9 1049.68h-2.5M567.6 1048.04h2.5M942.9 1048.04h-2.5M567.6 1046.61h2.5M942.9 1046.61h-2.5M567.6 1045.36h2.5M942.9 1045.36h-2.5M567.6 1044.23h4.3M942.9 1044.23h-4.3M567.6 1036.84h2.5M942.9 1036.84h-2.5M567.6 1032.51h2.5M942.9 1032.51h-2.5M567.6 1029.44h2.5M942.9 1029.44h-2.5M567.6 1027.06h2.5M942.9 1027.06h-2.5M567.6 1025.12h2.5M942.9 1025.12h-2.5M567.6 1023.47h2.5M942.9 1023.47h-2.5M567.6 1022.05h2.5M942.9 1022.05h-2.5M567.6 1020.79h2.5M942.9 1020.79h-2.5M567.6 1019.67h2.5M942.9 1019.67h-2.5M567.6 1012.27h2.5M942.9 1012.27h-2.5M567.6 1007.95h2.5M942.9 1007.95h-2.5M567.6 1004.88h2.5M942.9 1004.88h-2.5M567.6 1002.5h2.5M942.9 1002.5h-2.5M567.6 1000.55h2.5M942.9 1000.55h-2.5M567.6 998.91h2.5M942.9 998.91h-2.5M567.6 997.48h2.5M942.9 997.48h-2.5M567.6 996.22h2.5M942.9 996.22h-2.5M567.6 995.1h4.3M942.9 995.1h-4.3M567.6 987.7h2.5M942.9 987.7h-2.5M567.6 983.38h2.5M942.9 983.38h-2.5M567.6 980.31h2.5M942.9 980.31h-2.5M567.6 977.93h2.5M942.9 977.93h-2.5M567.6 975.98h2.5M942.9 975.98h-2.5M567.6 974.34h2.5M942.9 974.34h-2.5M567.6 972.91h2.5M942.9 972.91h-2.5M567.6 971.66h2.5M942.9 971.66h-2.5M567.6 970.53h2.5M942.9 970.53h-2.5M567.6 963.14h2.5M942.9 963.14h-2.5M567.6 958.81h2.5M942.9 958.81h-2.5M567.6 955.74h2.5M942.9 955.74h-2.5M567.6 953.36h2.5M942.9 953.36h-2.5M567.6 951.42h2.5M942.9 951.42h-2.5M567.6 949.77h2.5M942.9 949.77h-2.5M567.6 948.35h2.5M942.9 948.35h-2.5M567.6 947.09h2.5M942.9 947.09h-2.5M567.6 945.97h4.3M942.9 945.97h-4.3M567.6 938.57h2.5M942.9 938.57h-2.5M567.6 934.25h2.5M942.9 934.25h-2.5M567.6 931.18h2.5M942.9 931.18h-2.5M567.6 928.8h2.5M942.9 928.8h-2.5M567.6 926.85h2.5M942.9 926.85h-2.5M567.6 925.21h2.5M942.9 925.21h-2.5M567.6 923.78h2.5M942.9 923.78h-2.5M567.6 922.52h2.5M942.9 922.52h-2.5M567.6 921.4h2.5M942.9 921.4h-2.5M567.6 914h2.5M942.9 914h-2.5M567.6 909.68h2.5M942.9 909.68h-2.5M567.6 906.61h2.5M942.9 906.61h-2.5M567.6 904.23h2.5M942.9 904.23h-2.5M567.6 902.28h2.5M942.9 902.28h-2.5M567.6 900.64h2.5M942.9 900.64h-2.5M567.6 899.21h2.5M942.9 899.21h-2.5M567.6 897.96h2.5M942.9 897.96h-2.5M567.6 896.83h4.3M942.9 896.83h-4.3M567.6 889.44h2.5M942.9 889.44h-2.5M567.6 885.11h2.5M942.9 885.11h-2.5M567.6 882.04h2.5M942.9 882.04h-2.5M567.6 879.66h2.5M942.9 879.66h-2.5M567.6 877.72h2.5M942.9 877.72h-2.5M567.6 876.07h2.5M942.9 876.07h-2.5M567.6 874.65h2.5M942.9 874.65h-2.5M567.6 873.39h2.5M942.9 873.39h-2.5M567.6 872.27h2.5M942.9 872.27h-2.5M567.6 864.87h2.5M942.9 864.87h-2.5M567.6 860.55h2.5M942.9 860.55h-2.5M567.6 857.48h2.5M942.9 857.48h-2.5M567.6 855.1h2.5M942.9 855.1h-2.5M567.6 853.15h2.5M942.9 853.15h-2.5M567.6 851.51h2.5M942.9 851.51h-2.5M567.6 850.08h2.5M942.9 850.08h-2.5M567.6 848.82h2.5M942.9 848.82h-2.5" stroke="#262626" stroke-width="0.9" fill="none"/>
<rect x="567.6" y="847.7" width="375.3" height="294.8" stroke="#262626" stroke-width="1.1" fill="none"/>
<text x="63.73" y="99.12" font-size="30.5" fill="#262626" stroke="#262626" stroke-width="0.45"> 0</text>
<path transform="translate(63.73,99.12) scale(0.01489,-0.01489)" d="M515 0L515 1237L197 1010L197 1180L530 1409L696 1409L696 0Z" fill="#262626" stroke="#262626" stroke-width="30.2"/>
<text x="97.65" y="83.72" font-size="25" fill="#262626" stroke="#262626" stroke-width="0.45">2</text>
<text x="63.45" y="246.77" font-size="30.5" fill="#262626" stroke="#262626" stroke-width="0.45"> 0</text>
<path transform="translate(63.45,246.77) scale(0.01489,-0.01489)" d="M515 0L515 1237L197 1010L197 1180L530 1409L696 1409L696 0Z" fill="#262626" stroke="#262626" stroke-width="30.2"/>
<text x="97.37" y="231.37" font-size="25" fill="#262626" stroke="#262626" stroke-width="0.45">0</text>
<text x="53.9" y="394.41" font-size="30.5" fill="#262626" stroke="#262626" stroke-width="0.45"> 0</text>
<path transform="translate(53.9,394.41) scale(0.01489,-0.01489)" d="M515 0L515 1237L197 1010L197 1180L530 1409L696 1409L696 0Z" fill="#262626" stroke="#262626" stroke-width="30.2"/>
<text x="87.83" y="379.01" font-size="25" fill="#262626" stroke="#262626" stroke-width="0.45">-2</text>
<text x="53.38" y="542.06" font-size="30.5" fill="#262626" stroke="#262626" stroke-width="0.45"> 0</text>
<path transform="translate(53.38,542.06) scale(0.01489,-0.01489)" d="M515 0L515 1237L197 1010L197 1180L530 1409L696 1409L696 0Z" fill="#262626" stroke="#262626" stroke-width="30.2"/>
<text x="87.3" y="526.66" font-size="25" fill="#262626" stroke="#262626" stroke-width="0.45">-4</text>
<text x="53.74" y="689.7" font-size="30.5" fill="#262626" stroke="#262626" stroke-width="0.45"> 0</text>
<path transform="translate(53.74,689.7) scale(0.01489,-0.01489)" d="M515 0L515 1237L197 1010L197 1180L530 1409L696 1409L696 0Z" fill="#262626" stroke="#262626" stroke-width="30.2"/>
<text x="87.67" y="674.3" font-size="25" fill="#262626" stroke="#262626" stroke-width="0.45">-6</text>
<text x="63.45" y="944.83" font-size="30.5" fill="#262626" stroke="#262626" stroke-width="0.45"> 0</text>
<path transform="translate(63.45,944.83) scale(0.01489,-0.01489)" d="M515 0L515 1237L197 1010L197 1180L530 1409L696 1409L696 0Z" fill="#262626" stroke="#262626" stroke-width="30.2"/>
<text x="97.37" y="929.43" font-size="25" fill="#262626" stroke="#262626" stroke-width="0.45">0</text>
<text x="53.9" y="1134.39" font-size="30.5" fill="#262626" stroke="#262626" stroke-width="0.45"> 0</text>
<path transform="translate(53.9,1134.39) scale(0.01489,-0.01489)" d="M515 0L515 1237L197 1010L197 1180L530 1409L696 1409L696 0Z" fill="#262626" stroke="#262626" stroke-width="30.2"/>
<text x="87.83" y="1118.99" font-size="25" fill="#262626" stroke="#262626" stroke-width="0.45">-2</text>
<text x="53.38" y="1324.74" font-size="30.5" fill="#262626" stroke="#262626" stroke-width="0.45"> 0</text>
<path transform="translate(53.38,1324.74) scale(0.01489,-0.01489)" d="M515 0L515 1237L197 1010L197 1180L530 1409L696 1409L696 0Z" fill="#262626" stroke="#262626" stroke-width="30.2"/>
<text x="87.3" y="1309.34" font-size="25" fill="#262626" stroke="#262626" stroke-width="0.45">-4</text>
<text x="53.74" y="1515.6" font-size="30.5" fill="#262626" stroke="#262626" stroke-width="0.45"> 0</text>
<path transform="translate(53.74,1515.6) scale(0.01489,-0.01489)" d="M515 0L515 1237L197 1010L197 1180L530 1409L696 1409L696 0Z" fill="#262626" stroke="#262626" stroke-width="30.2"/>
<text x="87.67" y="1500.2" font-size="25" fill="#262626" stroke="#262626" stroke-width="0.45">-6</text>
<text x="113.82" y="712.3" font-size="30.5" fill="#262626" stroke="#262626" stroke-width="0.45">0</text>
<text x="242.8" y="712.3" font-size="30.5" fill="#262626" stroke="#262626" stroke-width="0.45">0. </text>
<path transform="translate(268.24,712.3) scale(0.01489,-0.01489)" d="M515 0L515 1237L197 1010L197 1180L530 1409L696 1409L696 0Z" fill="#262626" stroke="#262626" stroke-width="30.2"/>
<text x="380.77" y="712.3" font-size="30.5" fill="#262626" stroke="#262626" stroke-width="0.45">0.2</text>
<text x="521.17" y="712.3" font-size="30.5" fill="#262626" stroke="#262626" stroke-width="0.45">0.3</text>
<text x="661.45" y="712.3" font-size="30.5" fill="#262626" stroke="#262626" stroke-width="0.45">0.4</text>
<text x="802.15" y="712.3" font-size="30.5" fill="#262626" stroke="#262626" stroke-width="0.45">0.5</text>
<text x="942.67" y="712.3" font-size="30.5" fill="#262626" stroke="#262626" stroke-width="0.45">0.6</text>
<text x="113.92" y="1538.6" font-size="30.5" fill="#262626" stroke="#262626" stroke-width="0.45">0</text>
<text x="291.31" y="1538.6" font-size="30.5" fill="#262626" stroke="#262626" stroke-width="0.45">0.5</text>
<text x="497.39" y="1538.6" font-size="30.5" fill="#262626" stroke="#262626" stroke-width="0.45"> </text>
<path transform="translate(497.39,1538.6) scale(0.01489,-0.01489)" d="M515 0L515 1237L197 1010L197 1180L530 1409L696 1409L696 0Z" fill="#262626" stroke="#262626" stroke-width="30.2"/>
<text x="673.58" y="1538.6" font-size="30.5" fill="#262626" stroke="#262626" stroke-width="0.45"> .5</text>
<path transform="translate(673.58,1538.6) scale(0.01489,-0.01489)" d="M515 0L515 1237L197 1010L197 1180L530 1409L696 1409L696 0Z" fill="#262626" stroke="#262626" stroke-width="30.2"/>
<text x="878.69" y="1538.6" font-size="30.5" fill="#262626" stroke="#262626" stroke-width="0.45">2</text>
<text transform="translate(35.8,353.1) rotate(-90)" text-anchor="middle" font-size="40.5" fill="#262626" textLength="275" lengthAdjust="spacingAndGlyphs">R(Q) (arb. units)</text>
<text transform="translate(35.2,1174.6) rotate(-90)" text-anchor="middle" font-size="40.5" fill="#262626" textLength="272.5" lengthAdjust="spacingAndGlyphs">R(Q) (arb. units)</text>
<text x="460.68" y="762.7" font-size="40.5" fill="#262626" textLength="106.54" lengthAdjust="spacingAndGlyphs">Q (nm</text>
<rect x="568.4" y="745.45" width="7.6" height="2.1" fill="#262626"/>
<text x="576.8" y="753.6" font-size="27" fill="#262626" stroke="#262626" stroke-width="0.45"> </text>
<path transform="translate(576.8,753.6) scale(0.01318,-0.01318)" d="M515 0L515 1237L197 1010L197 1180L530 1409L696 1409L696 0Z" fill="#262626" stroke="#262626" stroke-width="34.1"/>
<text x="591.26" y="762.7" font-size="40.5" fill="#262626" stroke="#262626" stroke-width="0.45">)</text>
<text x="461.58" y="1583.5" font-size="40.5" fill="#262626" textLength="106.96" lengthAdjust="spacingAndGlyphs">Q (nm</text>
<rect x="569" y="1565.95" width="7.9" height="2.1" fill="#262626"/>
<text x="578" y="1574.5" font-size="27" fill="#262626" stroke="#262626" stroke-width="0.45"> </text>
<path transform="translate(578,1574.5) scale(0.01318,-0.01318)" d="M515 0L515 1237L197 1010L197 1180L530 1409L696 1409L696 0Z" fill="#262626" stroke="#262626" stroke-width="34.1"/>
<text x="592.26" y="1583.5" font-size="40.5" fill="#262626" stroke="#262626" stroke-width="0.45">)</text>
<circle cx="397.6" cy="40.7" r="11.4" stroke="#77AC30" stroke-width="3.2" fill="none"/>
<circle cx="397.6" cy="88.1" r="11.4" stroke="#0072BD" stroke-width="3.2" fill="none"/>
<circle cx="397.6" cy="135.7" r="11.4" stroke="#EDB120" stroke-width="3.2" fill="none"/>
<circle cx="397.6" cy="183.1" r="11.4" stroke="#A2142F" stroke-width="3.2" fill="none"/>
<path d="M386.2 230.7H409" stroke="#000" stroke-width="4.4"/>
<text x="419.87" y="51.5" font-size="30.5" fill="#000" stroke="#000" stroke-width="0.45"> 0 °C</text>
<path transform="translate(419.87,51.5) scale(0.01489,-0.01489)" d="M515 0L515 1237L197 1010L197 1180L530 1409L696 1409L696 0Z" fill="#000" stroke="#000" stroke-width="30.2"/>
<text x="421.27" y="98.7" font-size="30.5" fill="#000" stroke="#000" stroke-width="0.45">20 °C</text>
<text x="421.64" y="145.8" font-size="30.5" fill="#000" stroke="#000" stroke-width="0.45">30 °C</text>
<text x="422.1" y="193.7" font-size="30.5" fill="#000" stroke="#000" stroke-width="0.45">40 °C</text>
<text x="447.17" y="240.8" font-size="30.5" fill="#000" stroke="#000" stroke-width="0.45">fit</text>
<circle cx="391.9" cy="861.5" r="11.4" stroke="#0072BD" stroke-width="3.2" fill="none"/>
<circle cx="391.9" cy="909.2" r="11.4" stroke="#A2142F" stroke-width="3.2" fill="none"/>
<path d="M380.3 956.3H403" stroke="#000" stroke-width="4.4"/>
<text x="414.87" y="872.2" font-size="30.5" fill="#000" stroke="#000" stroke-width="0.45">20 °C</text>
<text x="415.7" y="919.3" font-size="30.5" fill="#000" stroke="#000" stroke-width="0.45">40 °C</text>
<text x="441.77" y="967.1" font-size="30.5" fill="#000" stroke="#000" stroke-width="0.45">fit</text>
<text transform="translate(-1.24,32.35) scale(0.93,1.04)" font-size="64" fill="#000" font-weight="bold">a</text>
<text transform="translate(-2.2,857.91) scale(1.02,0.945)" font-size="64" fill="#000" font-weight="bold">b</text>
<defs><clipPath id="ca"><rect x="541.2" y="0" width="40" height="400"/></clipPath></defs>
<text x="536.65" y="35.4" font-size="13.5" fill="#262626" stroke="#262626" stroke-width="0.45"> 0</text>
<path transform="translate(536.65,35.4) scale(0.00659,-0.00659)" d="M515 0L515 1237L197 1010L197 1180L530 1409L696 1409L696 0Z" fill="#262626" stroke="#262626" stroke-width="68.3"/>
<text x="551.66" y="28.5" font-size="10.7" fill="#262626" stroke="#262626" stroke-width="0.45">4</text>
<text x="536.87" y="84.28" font-size="13.5" fill="#262626" stroke="#262626" stroke-width="0.45" clip-path="url(#ca)"> 0</text>
<path transform="translate(536.87,84.28) scale(0.00659,-0.00659)" d="M515 0L515 1237L197 1010L197 1180L530 1409L696 1409L696 0Z" fill="#262626" stroke="#262626" stroke-width="68.3" clip-path="url(#ca)"/>
<text x="551.89" y="77.38" font-size="10.7" fill="#262626" stroke="#262626" stroke-width="0.45" clip-path="url(#ca)">2</text>
<text x="536.75" y="133.17" font-size="13.5" fill="#262626" stroke="#262626" stroke-width="0.45" clip-path="url(#ca)"> 0</text>
<path transform="translate(536.75,133.17) scale(0.00659,-0.00659)" d="M515 0L515 1237L197 1010L197 1180L530 1409L696 1409L696 0Z" fill="#262626" stroke="#262626" stroke-width="68.3" clip-path="url(#ca)"/>
<text x="551.77" y="126.27" font-size="10.7" fill="#262626" stroke="#262626" stroke-width="0.45" clip-path="url(#ca)">0</text>
<text x="533.31" y="182.05" font-size="13.5" fill="#262626" stroke="#262626" stroke-width="0.45" clip-path="url(#ca)"> 0</text>
<path transform="translate(533.31,182.05) scale(0.00659,-0.00659)" d="M515 0L515 1237L197 1010L197 1180L530 1409L696 1409L696 0Z" fill="#262626" stroke="#262626" stroke-width="68.3" clip-path="url(#ca)"/>
<text x="548.32" y="175.15" font-size="10.7" fill="#262626" stroke="#262626" stroke-width="0.45" clip-path="url(#ca)">-2</text>
<text x="533.08" y="230.93" font-size="13.5" fill="#262626" stroke="#262626" stroke-width="0.45" clip-path="url(#ca)"> 0</text>
<path transform="translate(533.08,230.93) scale(0.00659,-0.00659)" d="M515 0L515 1237L197 1010L197 1180L530 1409L696 1409L696 0Z" fill="#262626" stroke="#262626" stroke-width="68.3" clip-path="url(#ca)"/>
<text x="548.1" y="224.03" font-size="10.7" fill="#262626" stroke="#262626" stroke-width="0.45" clip-path="url(#ca)">-4</text>
<text x="533.24" y="279.82" font-size="13.5" fill="#262626" stroke="#262626" stroke-width="0.45" clip-path="url(#ca)"> 0</text>
<path transform="translate(533.24,279.82) scale(0.00659,-0.00659)" d="M515 0L515 1237L197 1010L197 1180L530 1409L696 1409L696 0Z" fill="#262626" stroke="#262626" stroke-width="68.3" clip-path="url(#ca)"/>
<text x="548.26" y="272.92" font-size="10.7" fill="#262626" stroke="#262626" stroke-width="0.45" clip-path="url(#ca)">-6</text>
<text x="533.23" y="328.7" font-size="13.5" fill="#262626" stroke="#262626" stroke-width="0.45"> 0</text>
<path transform="translate(533.23,328.7) scale(0.00659,-0.00659)" d="M515 0L515 1237L197 1010L197 1180L530 1409L696 1409L696 0Z" fill="#262626" stroke="#262626" stroke-width="68.3"/>
<text x="548.25" y="321.8" font-size="10.7" fill="#262626" stroke="#262626" stroke-width="0.45">-8</text>
<text x="559.75" y="339.3" font-size="13.5" fill="#262626" stroke="#262626" stroke-width="0.45">0</text>
<text x="616.69" y="339.3" font-size="13.5" fill="#262626" stroke="#262626" stroke-width="0.45">0.5</text>
<text x="685.66" y="339.3" font-size="13.5" fill="#262626" stroke="#262626" stroke-width="0.45"> </text>
<path transform="translate(685.66,339.3) scale(0.00659,-0.00659)" d="M515 0L515 1237L197 1010L197 1180L530 1409L696 1409L696 0Z" fill="#262626" stroke="#262626" stroke-width="68.3"/>
<text x="741.4" y="339.3" font-size="13.5" fill="#262626" stroke="#262626" stroke-width="0.45"> .5</text>
<path transform="translate(741.4,339.3) scale(0.00659,-0.00659)" d="M515 0L515 1237L197 1010L197 1180L530 1409L696 1409L696 0Z" fill="#262626" stroke="#262626" stroke-width="68.3"/>
<text x="809.95" y="339.3" font-size="13.5" fill="#262626" stroke="#262626" stroke-width="0.45">2</text>
<text x="866.81" y="339.3" font-size="13.5" fill="#262626" stroke="#262626" stroke-width="0.45">2.5</text>
<text x="935.09" y="339.3" font-size="13.5" fill="#262626" stroke="#262626" stroke-width="0.45">3</text>
<text x="540.95" y="855.8" font-size="13.5" fill="#262626" stroke="#262626" stroke-width="0.45"> 0</text>
<path transform="translate(540.95,855.8) scale(0.00659,-0.00659)" d="M515 0L515 1237L197 1010L197 1180L530 1409L696 1409L696 0Z" fill="#262626" stroke="#262626" stroke-width="68.3"/>
<text x="555.96" y="848.9" font-size="10.7" fill="#262626" stroke="#262626" stroke-width="0.45">4</text>
<text x="541.17" y="904.93" font-size="13.5" fill="#262626" stroke="#262626" stroke-width="0.45"> 0</text>
<path transform="translate(541.17,904.93) scale(0.00659,-0.00659)" d="M515 0L515 1237L197 1010L197 1180L530 1409L696 1409L696 0Z" fill="#262626" stroke="#262626" stroke-width="68.3"/>
<text x="556.19" y="898.03" font-size="10.7" fill="#262626" stroke="#262626" stroke-width="0.45">2</text>
<text x="541.05" y="954.07" font-size="13.5" fill="#262626" stroke="#262626" stroke-width="0.45"> 0</text>
<path transform="translate(541.05,954.07) scale(0.00659,-0.00659)" d="M515 0L515 1237L197 1010L197 1180L530 1409L696 1409L696 0Z" fill="#262626" stroke="#262626" stroke-width="68.3"/>
<text x="556.07" y="947.17" font-size="10.7" fill="#262626" stroke="#262626" stroke-width="0.45">0</text>
<text x="537.61" y="1003.2" font-size="13.5" fill="#262626" stroke="#262626" stroke-width="0.45"> 0</text>
<path transform="translate(537.61,1003.2) scale(0.00659,-0.00659)" d="M515 0L515 1237L197 1010L197 1180L530 1409L696 1409L696 0Z" fill="#262626" stroke="#262626" stroke-width="68.3"/>
<text x="552.62" y="996.3" font-size="10.7" fill="#262626" stroke="#262626" stroke-width="0.45">-2</text>
<text x="537.38" y="1052.33" font-size="13.5" fill="#262626" stroke="#262626" stroke-width="0.45"> 0</text>
<path transform="translate(537.38,1052.33) scale(0.00659,-0.00659)" d="M515 0L515 1237L197 1010L197 1180L530 1409L696 1409L696 0Z" fill="#262626" stroke="#262626" stroke-width="68.3"/>
<text x="552.4" y="1045.43" font-size="10.7" fill="#262626" stroke="#262626" stroke-width="0.45">-4</text>
<text x="537.54" y="1101.47" font-size="13.5" fill="#262626" stroke="#262626" stroke-width="0.45"> 0</text>
<path transform="translate(537.54,1101.47) scale(0.00659,-0.00659)" d="M515 0L515 1237L197 1010L197 1180L530 1409L696 1409L696 0Z" fill="#262626" stroke="#262626" stroke-width="68.3"/>
<text x="552.56" y="1094.57" font-size="10.7" fill="#262626" stroke="#262626" stroke-width="0.45">-6</text>
<text x="537.53" y="1150.6" font-size="13.5" fill="#262626" stroke="#262626" stroke-width="0.45"> 0</text>
<path transform="translate(537.53,1150.6) scale(0.00659,-0.00659)" d="M515 0L515 1237L197 1010L197 1180L530 1409L696 1409L696 0Z" fill="#262626" stroke="#262626" stroke-width="68.3"/>
<text x="552.55" y="1143.7" font-size="10.7" fill="#262626" stroke="#262626" stroke-width="0.45">-8</text>
<text x="563.85" y="1161.2" font-size="13.5" fill="#262626" stroke="#262626" stroke-width="0.45">0</text>
<text x="620.79" y="1161.2" font-size="13.5" fill="#262626" stroke="#262626" stroke-width="0.45">0.5</text>
<text x="689.76" y="1161.2" font-size="13.5" fill="#262626" stroke="#262626" stroke-width="0.45"> </text>
<path transform="translate(689.76,1161.2) scale(0.00659,-0.00659)" d="M515 0L515 1237L197 1010L197 1180L530 1409L696 1409L696 0Z" fill="#262626" stroke="#262626" stroke-width="68.3"/>
<text x="745.5" y="1161.2" font-size="13.5" fill="#262626" stroke="#262626" stroke-width="0.45"> .5</text>
<path transform="translate(745.5,1161.2) scale(0.00659,-0.00659)" d="M515 0L515 1237L197 1010L197 1180L530 1409L696 1409L696 0Z" fill="#262626" stroke="#262626" stroke-width="68.3"/>
<text x="814.05" y="1161.2" font-size="13.5" fill="#262626" stroke="#262626" stroke-width="0.45">2</text>
<text x="870.91" y="1161.2" font-size="13.5" fill="#262626" stroke="#262626" stroke-width="0.45">2.5</text>
<text x="939.19" y="1161.2" font-size="13.5" fill="#262626" stroke="#262626" stroke-width="0.45">3</text>
<text transform="translate(523.5,179.8) rotate(-90)" text-anchor="middle" font-size="16.8" fill="#262626" textLength="124" lengthAdjust="spacingAndGlyphs">R(Q) (arb. units)</text>
<text transform="translate(518.6,1000.9) rotate(-90)" text-anchor="middle" font-size="16.8" fill="#262626" textLength="121.5" lengthAdjust="spacingAndGlyphs">R(Q) (arb. units)</text>
<text x="711.08" y="359.8" font-size="16.8" fill="#262626" textLength="47.85" lengthAdjust="spacingAndGlyphs">Q (nm</text>
<rect x="759" y="351.8" width="3.8" height="1.0" fill="#262626"/>
<text x="762.81" y="355.5" font-size="12.4" fill="#262626" stroke="#262626" stroke-width="0.45"> </text>
<path transform="translate(762.81,355.5) scale(0.00605,-0.00605)" d="M515 0L515 1237L197 1010L197 1180L530 1409L696 1409L696 0Z" fill="#262626" stroke="#262626" stroke-width="74.3"/>
<text x="769.4" y="359.8" font-size="16.8" fill="#262626" stroke="#262626" stroke-width="0.45">)</text>
<text x="712.28" y="1182.5" font-size="16.8" fill="#262626" textLength="47.85" lengthAdjust="spacingAndGlyphs">Q (nm</text>
<rect x="760.2" y="1174.5" width="3.8" height="1.0" fill="#262626"/>
<text x="764.01" y="1178.2" font-size="12.4" fill="#262626" stroke="#262626" stroke-width="0.45"> </text>
<path transform="translate(764.01,1178.2) scale(0.00605,-0.00605)" d="M515 0L515 1237L197 1010L197 1180L530 1409L696 1409L696 0Z" fill="#262626" stroke="#262626" stroke-width="74.3"/>
<text x="770.6" y="1182.5" font-size="16.8" fill="#262626" stroke="#262626" stroke-width="0.45">)</text>
</svg></body></html>
